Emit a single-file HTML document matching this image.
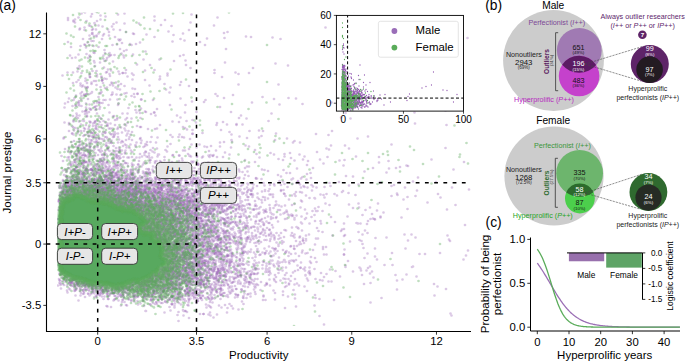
<!DOCTYPE html><html><head><meta charset="utf-8"><style>html,body{margin:0;padding:0;background:#fff;width:685px;height:362px;overflow:hidden}svg{display:block}</style></head><body><svg width="685" height="362" viewBox="0 0 685 362" font-family='"Liberation Sans", sans-serif'><rect width="685" height="362" fill="#fff"/><defs><clipPath id="ca"><rect x="46.5" y="12.5" width="424.5" height="318.7"/></clipPath><clipPath id="ci"><rect x="336.4" y="15.4" width="127.1" height="95.7"/></clipPath><filter id="bl" x="-10%" y="-10%" width="120%" height="120%"><feGaussianBlur stdDeviation="1.0"/></filter><filter id="sb" x="0" y="0" width="100%" height="100%"><feGaussianBlur stdDeviation="0.6"/></filter></defs><g clip-path="url(#ca)"><g filter="url(#sb)"><g transform="scale(0.5)" fill="none" stroke-linecap="round" stroke="#965fb4" stroke-opacity="0.34" stroke-width="5.4"><path d="M189 22h0m5-8h0m-37 21h0m152-2h0m-60 14h0m-57 12h0m26 5h0m160-4h0m77 4h0m-268 18h0m50-3h0m265-5h0m43 1h0m390 1h0m-793 18h0m27-5h0m10 1h0m8 2h0m47-3h0m46-4h0m-61 21h0m34-6h0m66 19h0m-106 1h0m-54 17h0m0-5h0m31 0h0m18 3h0m82 6h0m19-1h0m550-6h0m-713 11h0m48 8h0m9 2h0m132-8h0m-131 14h0m86-1h0m-117 17h0m20-7h0m8 4h0m64 3h0m95-7h0m117-1h0m-236 21h0m34-2h0m678-6h0m-756 12h0m23 5h0m15 0h0m48 0h0m294-3h0m-448 19h0m43 0h0m17-1h0m4-2h0m5-6h0m38 4h0m135 0h0m-190 9h0m64 8h0m298 0h0m193-8h0m-580 17h0m18-4h0m107 4h0m21-8h0m180 3h0m11 6h0m189-2h0m19 2h0m-563 9h0m9-3h0m15 6h0m68 1h0m0-10h0m115 3h0m28-1h0m61 4h0m-289 7h0m23 9h0m20 0h0m5-9h0m32 4h0m57-3h0m88 2h0m148 5h0m-390 14h0m39-3h0m8-8h0m3 9h0m6 0h0m4 1h0m35-5h0m3-1h0m3-4h0m2 3h0m5 7h0m109 0h0m-202 10h0m22 3h0m14-2h0m14-4h0m7-4h0m13 9h0m10-1h0m50 0h0m167 0h0m275-8h0m-585 21h0m22-5h0m3 3h0m2-4h0m10 4h0m13-2h0m32-5h0m47 7h0m76-3h0m127 2h0m-309 13h0m6-2h0m3 0h0m9 5h0m6-2h0m1-4h0m21-4h0m6 9h0m3-1h0m11-7h0m2 8h0m17-5h0m12 2h0m1-6h0m47 6h0m18 2h0m2 0h0m99 2h0m152-3h0m11-2h0m54-2h0m-496 10h0m9-1h0m6 6h0m5 0h0m5-7h0m1 4h0m1 5h0m3-5h0m10 7h0m20 0h0m7-7h0m36 0h0m37 6h0m15-9h0m20 9h0m16-8h0m53-1h0m24 0h0m20-1h0m20 2h0m160 5h0m106-6h0m-572 16h0m10-5h0m9 10h0m12-10h0m5 3h0m19 1h0m4 3h0m6-2h0m2-4h0m2 6h0m0 0h0m4 3h0m1-10h0m5 10h0m10-1h0m8-9h0m18 3h0m22 2h0m1 5h0m28-1h0m4-7h0m12 9h0m0-11h0m4 11h0m43-9h0m27 4h0m8-3h0m11-1h0m22 6h0m1 1h0m176-3h0m144-5h0m58 7h0m-667 8h0m3-3h0m5 3h0m2 3h0m0-1h0m13-1h0m1-3h0m12 2h0m9 6h0m1 1h0m2-1h0m5-5h0m15-2h0m1 6h0m1-2h0m1-3h0m1 7h0m2-3h0m11 0h0m2-1h0m10-2h0m4 4h0m11-5h0m2 6h0m3-4h0m20 4h0m0-3h0m19-4h0m30 2h0m25 0h0m3 1h0m6 2h0m1-2h0m10-1h0m10 2h0m35 2h0m2 1h0m38 1h0m1-4h0m13 0h0m16 0h0m41-1h0m193 1h0m44 2h0m-641 8h0m12 3h0m2-3h0m4-3h0m4 8h0m9-4h0m5-5h0m3 0h0m2 9h0m5-6h0m1 3h0m0-3h0m8-3h0m1 1h0m1 9h0m5-11h0m5 8h0m2-2h0m9 0h0m5 4h0m5-7h0m1 3h0m2 2h0m1-1h0m1-5h0m10 5h0m0-6h0m2-1h0m2 11h0m15-1h0m2-9h0m2 8h0m3 2h0m6-5h0m2 3h0m0 0h0m7-1h0m9-2h0m4-2h0m0-4h0m7 11h0m16 0h0m8-3h0m3-2h0m6-3h0m3 8h0m12-5h0m1 2h0m2-6h0m3 6h0m4 0h0m3-4h0m5 7h0m14-10h0m3 9h0m2-9h0m36 10h0m19-2h0m147 2h0m3-2h0m106-5h0m14 1h0m-580 7h0m0 9h0m3 2h0m1-4h0m2-3h0m7 1h0m1 2h0m9-5h0m1 3h0m0-1h0m0-2h0m2 9h0m0 0h0m0-3h0m2-6h0m2 7h0m2-8h0m1 0h0m0-1h0m3 8h0m0-1h0m1-7h0m4 8h0m3 3h0m5-4h0m9-7h0m2 1h0m4 9h0m1-5h0m0 3h0m1-6h0m4 9h0m1-5h0m1 2h0m1-4h0m1 3h0m2-7h0m1 4h0m0-2h0m6 3h0m2 0h0m1 4h0m1-1h0m1-2h0m2 1h0m0-5h0m10 4h0m3-1h0m0 2h0m1-6h0m0 4h0m5 2h0m0 2h0m0 0h0m6 2h0m4 0h0m1-4h0m0 4h0m2 0h0m5-6h0m0 6h0m1-5h0m8 1h0m1-4h0m3 6h0m3-4h0m1 2h0m1-6h0m1 8h0m1-2h0m1 0h0m1-3h0m2 5h0m11 2h0m3 0h0m1-10h0m8 2h0m3 2h0m6 2h0m9 3h0m7 1h0m0-5h0m1-6h0m3 11h0m4-8h0m3-3h0m2 9h0m5 0h0m4-2h0m1-7h0m2 5h0m1 1h0m6 4h0m1-8h0m13 3h0m10 3h0m2 2h0m2-7h0m10 4h0m2 4h0m1-5h0m3-6h0m1 4h0m3 4h0m2 3h0m3-9h0m2 8h0m8-8h0m1 8h0m5-3h0m1-5h0m15 7h0m2-3h0m8 4h0m17-7h0m7 4h0m51-1h0m13 4h0m8-2h0m14 2h0m33-6h0m103 7h0m-577 5h0m6-4h0m0 8h0m4-1h0m3 2h0m1-9h0m1 0h0m2 9h0m1-2h0m2 4h0m0-7h0m2 5h0m1-1h0m1 3h0m0-6h0m1 1h0m1 5h0m1-6h0m0 0h0m7 6h0m1-7h0m0 0h0m1 2h0m2-4h0m5 1h0m1 0h0m2 1h0m1 2h0m0-2h0m1 7h0m2-3h0m1 0h0m1-7h0m1 6h0m1-7h0m1 9h0m0 0h0m1 0h0m1-9h0m1 5h0m1 5h0m1-7h0m2 0h0m3 8h0m1-11h0m0 9h0m1-1h0m4 0h0m0 3h0m1-8h0m1 0h0m0 0h0m1-1h0m0 9h0m0-3h0m1-3h0m0 0h0m1 4h0m0-2h0m1-6h0m0 3h0m4 7h0m1-7h0m1 6h0m1-9h0m1 9h0m1-7h0m0 8h0m2-10h0m2 4h0m1 2h0m0 2h0m5-9h0m0 6h0m0 1h0m1-1h0m1 1h0m2-6h0m0 10h0m0-7h0m5 4h0m2-8h0m1 5h0m5-4h0m1 7h0m1-5h0m1 8h0m1-5h0m4-2h0m2 4h0m0 3h0m5-10h0m4 1h0m0 2h0m0 4h0m1-4h0m1-2h0m1 7h0m2 2h0m0-11h0m2 3h0m2-1h0m0 4h0m3-1h0m0 6h0m4-5h0m2 4h0m0-7h0m1 3h0m1 2h0m1 2h0m1 1h0m1-7h0m2 6h0m3-2h0m1 3h0m1 0h0m0-1h0m1-2h0m5-2h0m2 0h0m2 2h0m1-2h0m4 4h0m1 1h0m4-11h0m5 4h0m2 6h0m7-6h0m1 7h0m1-6h0m3-1h0m7 6h0m0-9h0m3-1h0m1 8h0m4-2h0m1-2h0m1 2h0m2-6h0m0 0h0m3 1h0m1 4h0m1-4h0m4 10h0m13-3h0m4-8h0m1 9h0m4-2h0m4 3h0m16-2h0m4-8h0m3 9h0m5-1h0m4 1h0m5-4h0m5-4h0m5 5h0m6 1h0m18 2h0m13-9h0m2 2h0m15 4h0m5-6h0m14 8h0m9-2h0m9-6h0m10 11h0m38-1h0m47-8h0m6 1h0m-495 15h0m1 2h0m6-6h0m1 7h0m0-6h0m1 4h0m0 1h0m0 1h0m2-4h0m5-1h0m1-4h0m6 1h0m1 6h0m1-1h0m4 0h0m3 0h0m1-3h0m0 3h0m1-2h0m2-3h0m1 3h0m1-3h0m0 5h0m1 0h0m1-2h0m2-1h0m3 5h0m1 2h0m0-2h0m3 0h0m1-2h0m2 3h0m1-2h0m0 2h0m0-7h0m2 6h0m2-7h0m2 5h0m1 3h0m1 2h0m0 0h0m3-1h0m1-2h0m0 1h0m1-6h0m4 6h0m2 1h0m1-6h0m0 4h0m1-4h0m2 3h0m1-2h0m2 3h0m0-3h0m1 6h0m0-1h0m1-5h0m1-3h0m2 3h0m3 1h0m0-3h0m3-3h0m1 7h0m2-4h0m4 6h0m0 0h0m1 2h0m1-9h0m0-1h0m2 7h0m1-1h0m0-1h0m1 3h0m1 0h0m3 1h0m1-8h0m2-1h0m0 9h0m0-3h0m3-3h0m1 2h0m0 0h0m1 5h0m1-2h0m1-1h0m0-5h0m0 4h0m0-4h0m4 6h0m2-6h0m2 4h0m0-5h0m0 3h0m1 6h0m4-2h0m0 1h0m5-9h0m2 10h0m1-4h0m2-2h0m2-2h0m2 6h0m0-5h0m4 5h0m1-7h0m1-2h0m1 5h0m2 1h0m2-1h0m4 4h0m0 1h0m3-6h0m0 1h0m1-2h0m2-1h0m1 0h0m0 3h0m1 4h0m1 1h0m0 1h0m1-1h0m4-9h0m4 3h0m5-3h0m3 4h0m1 2h0m1 4h0m1-4h0m1-7h0m2 11h0m2-8h0m3-1h0m7 3h0m1 6h0m4-1h0m1-3h0m1-3h0m3 7h0m2-6h0m0-5h0m2 6h0m1 5h0m7-3h0m2-5h0m2 7h0m1-1h0m0-3h0m9-5h0m0 5h0m3-4h0m1 7h0m1-1h0m6-6h0m0 9h0m2-7h0m2-1h0m0 4h0m1-4h0m1 1h0m3 7h0m7-3h0m2-6h0m2 6h0m16-1h0m0 1h0m2-7h0m3 0h0m2-1h0m4 2h0m1 3h0m8 1h0m2 0h0m15 2h0m1 0h0m0-7h0m18 3h0m2-3h0m11 6h0m20 3h0m7-5h0m13 6h0m31-6h0m25 3h0m18-4h0m23 3h0m35-1h0m2 5h0m25-4h0m37-1h0m83-3h0m-675 16h0m1 4h0m3-6h0m5-5h0m0 2h0m2-1h0m0 3h0m1 0h0m1-3h0m7-1h0m1 2h0m34-1h0m4-1h0m3 2h0m1 1h0m0 0h0m1-1h0m4 0h0m1-2h0m1 4h0m2-1h0m2 3h0m9 2h0m0-1h0m1-3h0m4-1h0m2 3h0m0 1h0m0-7h0m5 1h0m0 5h0m0-6h0m2 4h0m1 2h0m0 2h0m2 0h0m0-4h0m1 3h0m0-4h0m1 2h0m0 1h0m4-1h0m1 3h0m2-8h0m3 2h0m1 5h0m0-3h0m0-2h0m0 0h0m6 6h0m1-5h0m0-2h0m1 5h0m2 5h0m1-8h0m1 7h0m0-3h0m1 1h0m0-2h0m1 4h0m1-4h0m2 3h0m3-2h0m0 1h0m2-3h0m2-4h0m2 7h0m1 0h0m2-4h0m0 3h0m1 0h0m1-5h0m0-1h0m0 10h0m1-8h0m5-1h0m1 7h0m1-3h0m0-1h0m1 3h0m1 3h0m1-3h0m2 3h0m1-2h0m1-1h0m2 1h0m1-5h0m3 6h0m0 1h0m2-4h0m1 4h0m3-1h0m2-9h0m1-1h0m2 0h0m0 2h0m2 3h0m2 4h0m1-1h0m1-1h0m9-4h0m0 0h0m1 2h0m1-1h0m3-4h0m0 0h0m1 2h0m1 3h0m1-1h0m0 0h0m1 1h0m0-5h0m1 1h0m0 2h0m3 4h0m2-5h0m3 5h0m1-3h0m3 5h0m1-8h0m3 2h0m3 0h0m2 4h0m0-7h0m1 5h0m1 6h0m0-10h0m1 2h0m2 0h0m1-3h0m1 5h0m3 6h0m1-5h0m2-2h0m5 4h0m2 2h0m2-8h0m0 4h0m10-4h0m1 5h0m2 4h0m0-11h0m1 11h0m0-11h0m3 7h0m2-4h0m3 6h0m4-2h0m0-2h0m1-2h0m1 8h0m5-2h0m4-3h0m5 5h0m3-8h0m0 0h0m2-2h0m4 6h0m1 4h0m0-8h0m7 1h0m0-2h0m5 9h0m4-9h0m4 8h0m7 0h0m22-5h0m3-4h0m1 5h0m1-2h0m12 6h0m0-4h0m3 1h0m12-3h0m28 5h0m28-2h0m52 0h0m152 4h0m-528 3h0m6-1h0m1 5h0m2-2h0m0-1h0m1 3h0m1-1h0m3-4h0m1 4h0m1 4h0m5 0h0m1-7h0m1 0h0m1 7h0m2-5h0m0 7h0m0-6h0m0-1h0m0-3h0m2 3h0m0-2h0m1 8h0m0-10h0m3 9h0m0-1h0m0-7h0m2 6h0m1-2h0m3-5h0m2 6h0m0 5h0m1-5h0m3-3h0m2 3h0m1 4h0m1-5h0m1 1h0m1 3h0m0-4h0m2 2h0m3 3h0m2-8h0m0 9h0m3-5h0m1-3h0m3-1h0m3-2h0m1 7h0m1 3h0m0 0h0m0-2h0m2-3h0m1 2h0m2-5h0m1 0h0m0 4h0m2-1h0m2 6h0m1-1h0m1 1h0m0-10h0m4 2h0m2 3h0m2-1h0m1-2h0m1-2h0m1 6h0m2 0h0m1-5h0m0 2h0m2 6h0m3-7h0m1-1h0m0 7h0m0-2h0m4 3h0m1-2h0m1 2h0m1-9h0m8 6h0m8 1h0m0-2h0m2 0h0m1 2h0m2-6h0m2 6h0m1 2h0m1-10h0m2 1h0m1 1h0m2 5h0m0-5h0m1 0h0m1-2h0m2 7h0m3-5h0m2 8h0m1-4h0m3 5h0m1-7h0m5 0h0m5-1h0m0 6h0m1-2h0m0 2h0m2 1h0m0-6h0m1-1h0m2 2h0m0 2h0m3-3h0m4-3h0m2 0h0m9 1h0m6 9h0m2-1h0m5 0h0m10-5h0m1 1h0m6 4h0m0-8h0m10-1h0m0 9h0m5-4h0m5 2h0m4-6h0m5 1h0m6 8h0m32-10h0m10 5h0m29-3h0m148-2h0m-433 11h0m7 1h0m3-1h0m1 7h0m3-7h0m1 7h0m1 4h0m2-11h0m0 2h0m3 3h0m0-2h0m7 3h0m1 0h0m1 1h0m0-5h0m3 5h0m5 1h0m0-4h0m1 0h0m2 0h0m2 0h0m0 0h0m2-4h0m0 5h0m1-1h0m1-3h0m1 1h0m1 0h0m3-1h0m2 2h0m2 6h0m1-3h0m3-4h0m1-2h0m0 9h0m2-4h0m2 3h0m4-1h0m1 4h0m2-4h0m5-5h0m1 3h0m1 4h0m2-1h0m2 3h0m3-3h0m1-5h0m1 2h0m1 0h0m1 0h0m5 1h0m3-4h0m1 9h0m3-5h0m0-4h0m5 0h0m0-2h0m1 4h0m1 6h0m0 1h0m1-2h0m1 2h0m4-2h0m1 2h0m8-4h0m0 1h0m1-8h0m0 10h0m2-1h0m0-6h0m1-1h0m3 4h0m4 5h0m2-3h0m3-3h0m1-3h0m3-2h0m3 9h0m0 2h0m0-3h0m4-7h0m3 4h0m2 0h0m1 3h0m4-6h0m8 3h0m11-2h0m3-1h0m5 0h0m9 4h0m5-3h0m5-2h0m16 10h0m13-6h0m32-1h0m34 3h0m16 2h0m148-9h0m13 8h0m-628 10h0m166-5h0m0-1h0m6 4h0m6 6h0m0-4h0m3 2h0m2-8h0m1 1h0m1 3h0m4 2h0m5 1h0m11 4h0m0-2h0m1-7h0m0-2h0m2 8h0m5-6h0m1 3h0m0 1h0m1-6h0m1 7h0m0-1h0m1-5h0m1 2h0m0 6h0m3-7h0m5 7h0m0-5h0m2 4h0m0-7h0m3 8h0m2 0h0m0-6h0m6 8h0m0 0h0m1-6h0m1 1h0m5-5h0m6 9h0m3-4h0m3-5h0m0 8h0m2-5h0m1 6h0m2 0h0m1-8h0m2 0h0m1 1h0m4 3h0m1 4h0m1-10h0m3 0h0m3 4h0m1-3h0m6 2h0m1-3h0m3 0h0m1 7h0m11 0h0m23-4h0m5 2h0m3 2h0m4-3h0m18-3h0m11 1h0m9-2h0m29 10h0m2-2h0m11 3h0m9-9h0m4 2h0m24 2h0m40 0h0m2-2h0m11-2h0m118 4h0m20-5h0m-477 19h0m1 3h0m0 0h0m4-3h0m4 0h0m2 1h0m1-9h0m1 9h0m2-4h0m0 6h0m1-7h0m1 2h0m4 0h0m3-3h0m1-1h0m1 4h0m3 0h0m2 1h0m1-4h0m2 0h0m6 0h0m0 5h0m0 0h0m5-1h0m1 1h0m2-5h0m3 5h0m0-5h0m1 3h0m5 3h0m1-8h0m0 8h0m1 0h0m1-5h0m10 6h0m1-1h0m2-6h0m2 5h0m0-5h0m4 3h0m0-6h0m8 9h0m5 1h0m1-8h0m1 1h0m6 6h0m2-4h0m2-2h0m7 3h0m1 5h0m3-4h0m1 2h0m1-1h0m6-3h0m0 5h0m1 1h0m2-4h0m2 1h0m9-1h0m0 4h0m2-11h0m26 3h0m5 6h0m1-8h0m16 2h0m19 6h0m0-6h0m3 6h0m24-5h0m10 1h0m10-3h0m56 8h0m2 1h0m7-10h0m2 2h0m109-1h0m3 1h0m214 3h0m-650 7h0m1 1h0m0 0h0m5 7h0m1 0h0m2-7h0m2 4h0m4 4h0m2-9h0m0-1h0m3 9h0m1-2h0m2 1h0m0-1h0m3-2h0m4 3h0m2 3h0m1 0h0m1-10h0m2-1h0m0 4h0m2 5h0m3 2h0m1-4h0m2-4h0m1 0h0m4 8h0m1-4h0m4-2h0m4 3h0m0-5h0m1-1h0m0 9h0m1 0h0m1 0h0m0-1h0m0-8h0m3 0h0m1 3h0m1 2h0m1-6h0m1 5h0m0-3h0m4 7h0m1 0h0m4 1h0m1-1h0m1-5h0m3 2h0m3 1h0m3-5h0m1 1h0m0 5h0m3 0h0m4-4h0m4 4h0m6-7h0m0 5h0m4-4h0m0 7h0m0-7h0m0 2h0m2 4h0m1 2h0m3-11h0m7 6h0m8-2h0m4 0h0m1 2h0m2 4h0m9-3h0m1-7h0m9 4h0m10 7h0m1-4h0m1 1h0m3 1h0m31-3h0m14 2h0m29-6h0m16 7h0m30-4h0m116-3h0m29 6h0m13-3h0m-418 7h0m0 1h0m0 3h0m3 4h0m2 3h0m1-9h0m1 0h0m1-1h0m0 7h0m2 3h0m1-4h0m2 4h0m0-11h0m0 9h0m1 1h0m1-9h0m1 3h0m0-1h0m2 5h0m0 1h0m1-5h0m1 3h0m7-7h0m3 3h0m0-3h0m1 1h0m2 4h0m0 5h0m4-6h0m1 2h0m0-3h0m5 5h0m5-6h0m1 5h0m2-5h0m0 9h0m2-11h0m3 5h0m6-5h0m4 8h0m0 1h0m2-4h0m0 6h0m1 0h0m4-10h0m1 2h0m0 8h0m0-9h0m6 3h0m4 5h0m1-10h0m0 1h0m6 8h0m0-5h0m4 4h0m1 2h0m2-6h0m5 3h0m1-1h0m8 4h0m10-6h0m3 3h0m1-4h0m10 1h0m6 0h0m6 6h0m7-6h0m2 4h0m1-6h0m1-2h0m11 9h0m0-8h0m2 8h0m10 1h0m1-2h0m9-5h0m8 2h0m1 3h0m99 2h0m20-1h0m4 0h0m89-8h0m48 6h0m50-6h0m-505 13h0m0 0h0m4 1h0m1 2h0m4 4h0m5-4h0m0-2h0m1-2h0m1 2h0m4 7h0m2 0h0m1-2h0m6 3h0m2-8h0m3 3h0m1 5h0m0-6h0m3 2h0m3 2h0m0-1h0m5-6h0m1 2h0m0 4h0m0 2h0m7-9h0m0 7h0m0-3h0m0-4h0m1-1h0m1 0h0m2 10h0m5 0h0m4-10h0m2 0h0m3 4h0m0 1h0m1 2h0m5-3h0m3-4h0m5 1h0m2 6h0m12 3h0m1-2h0m0-7h0m9 1h0m12 3h0m11 5h0m2-10h0m3 5h0m11 0h0m3 2h0m5-2h0m2 4h0m0-5h0m5 4h0m20-8h0m11 5h0m51 2h0m44-1h0m4-5h0m18 8h0m270-7h0m-572 12h0m0 8h0m3-4h0m0 2h0m0-8h0m0 0h0m3 7h0m0-7h0m2 4h0m0 4h0m2-6h0m6 7h0m1-1h0m1-7h0m0 3h0m1-4h0m2 7h0m2 1h0m1-4h0m1 3h0m2-3h0m1 3h0m0-1h0m3 2h0m0-1h0m3-5h0m2 3h0m1-3h0m3-2h0m1 1h0m5 6h0m2 1h0m4 2h0m2 1h0m2-3h0m1-5h0m3 5h0m2-4h0m5-4h0m1 11h0m2-4h0m1-7h0m1 6h0m0 5h0m2-6h0m3 4h0m2-8h0m0-1h0m4 7h0m1 3h0m4 1h0m0-3h0m0-5h0m0 1h0m1 6h0m6-9h0m2 6h0m1 3h0m3 0h0m2-8h0m5 6h0m6-2h0m11-2h0m7 5h0m14-1h0m15 3h0m8 0h0m5-4h0m49-1h0m22 4h0m9-10h0m12 0h0m52 6h0m6-4h0m284 7h0m-606 6h0m3 1h0m2-2h0m0 4h0m1 4h0m1-9h0m0 2h0m1-2h0m0 0h0m6-1h0m0 3h0m7 3h0m1 0h0m1-3h0m0-3h0m1 9h0m0 0h0m13-2h0m0 0h0m2 4h0m2-11h0m5 0h0m4 0h0m1 5h0m1-2h0m3 2h0m1 4h0m2 2h0m4-6h0m5-1h0m3 0h0m0 6h0m4-6h0m5-2h0m1 1h0m3 0h0m1 7h0m1-9h0m8 5h0m1-3h0m3-1h0m5-2h0m0 10h0m11-7h0m6 7h0m5-1h0m7-6h0m2 5h0m0-7h0m3 6h0m8 4h0m13-9h0m0-1h0m24 4h0m0 5h0m8-4h0m79 2h0m17-6h0m33 3h0m102 4h0m-413 10h0m4 1h0m3 0h0m1 1h0m1 1h0m0-2h0m2-5h0m2-1h0m1 3h0m4 2h0m11-3h0m1-4h0m1 7h0m3-5h0m5 9h0m6-10h0m2 9h0m16-2h0m3-8h0m1 0h0m0 7h0m1 3h0m4 0h0m2-6h0m2 1h0m3 2h0m5 2h0m6 1h0m4-1h0m8-8h0m5 2h0m9 5h0m8 1h0m3-4h0m8 3h0m5 3h0m3-6h0m32 5h0m1 0h0m41 1h0m2-4h0m2 3h0m2-1h0m5-1h0m14 3h0m117-5h0m-374 14h0m1 2h0m5 1h0m1-3h0m5-8h0m2 7h0m0-6h0m1 0h0m1 10h0m2-7h0m0 2h0m4-4h0m1 8h0m1-1h0m0-2h0m1-3h0m2-4h0m2 3h0m1 3h0m3 0h0m1 2h0m1-2h0m0 4h0m2-4h0m8 4h0m4-2h0m2 0h0m0-8h0m0 11h0m3-11h0m3 10h0m0-1h0m7-4h0m2-1h0m7-4h0m1 6h0m1-4h0m2 4h0m3 3h0m4-8h0m4-1h0m2 4h0m9 7h0m7-9h0m3-2h0m5 9h0m1 2h0m4 0h0m3-7h0m1 4h0m6-7h0m1 3h0m7 0h0m10 5h0m1-6h0m3 7h0m2-10h0m1 4h0m9-3h0m2 0h0m52 7h0m8-7h0m11 4h0m7 2h0m7 0h0m35 3h0m178-8h0m39 4h0m2-1h0m-703 15h0m180 3h0m2-3h0m10-1h0m1 2h0m0-3h0m2 3h0m0-3h0m4 5h0m3 0h0m1-1h0m0-7h0m2 2h0m0-2h0m1 3h0m1 2h0m2 3h0m1-5h0m1 4h0m0-8h0m4 6h0m1-8h0m2 1h0m1 2h0m4 6h0m10-5h0m0 2h0m1-4h0m1 4h0m2 2h0m1-2h0m5-4h0m1 6h0m0 1h0m2-4h0m1-1h0m6 3h0m1 4h0m4-1h0m3-8h0m3 5h0m1-4h0m0 7h0m10-3h0m3-1h0m3 4h0m0 1h0m9-8h0m4-1h0m1-1h0m3 9h0m1-10h0m11 8h0m1-4h0m0 0h0m1 1h0m5 5h0m1-6h0m1 4h0m5 3h0m3 0h0m23-10h0m0 8h0m7 1h0m8-7h0m6 5h0m2-3h0m1-2h0m5 5h0m37-4h0m34 2h0m23-6h0m21 5h0m2 2h0m1 2h0m113-8h0m-602 11h0m1 9h0m0 1h0m1-9h0m7 2h0m3 8h0m3-4h0m4 1h0m1-1h0m1 1h0m1 1h0m1-2h0m1 2h0m15 2h0m115 0h0m4-3h0m5 3h0m3 0h0m1-1h0m2-6h0m3-2h0m3 7h0m2-2h0m1 0h0m3-7h0m2 0h0m3 7h0m3-1h0m2-6h0m0 7h0m9-4h0m3 5h0m0-1h0m1-5h0m1 2h0m2 5h0m0-5h0m2 6h0m1-6h0m4 6h0m1-5h0m2-2h0m2 1h0m5-3h0m1 0h0m2-1h0m3 6h0m3-5h0m0 0h0m3 9h0m0-9h0m3-1h0m3 9h0m6-4h0m1-2h0m0 8h0m4-11h0m5 5h0m0-4h0m3 2h0m3 8h0m6-10h0m1 4h0m1 3h0m2 3h0m10-1h0m4 0h0m10-4h0m4-6h0m9 3h0m10-3h0m3 9h0m13-4h0m20 1h0m1 2h0m3-6h0m9 0h0m1 4h0m46 0h0m100-4h0m146 7h0m-678 10h0m39-6h0m0 2h0m1 4h0m1-6h0m0 7h0m8-5h0m0 1h0m1 1h0m2 2h0m3 3h0m2-7h0m2 1h0m1 1h0m2 2h0m3-3h0m3 0h0m1 2h0m1-1h0m7 5h0m12-1h0m4 1h0m1 0h0m1 0h0m19 0h0m6 1h0m7-1h0m1-2h0m5 1h0m14-8h0m3 5h0m6 0h0m2-5h0m4 8h0m1-3h0m0-5h0m0 0h0m5 6h0m6-6h0m1 1h0m2 0h0m5 5h0m1 2h0m3-8h0m5-1h0m3 0h0m5 9h0m4-2h0m0-6h0m3 10h0m1 0h0m1 0h0m2-3h0m1-7h0m1 3h0m3 2h0m6 2h0m0 3h0m2-2h0m3-3h0m0-2h0m2 7h0m0-5h0m0-6h0m3 11h0m0-1h0m2-8h0m10 0h0m11-1h0m1 0h0m2-1h0m7 1h0m15 0h0m3 0h0m0 5h0m2 0h0m1-3h0m1 7h0m1-4h0m3-1h0m9-5h0m13 0h0m17 7h0m1-7h0m10 5h0m5 4h0m0 2h0m3-2h0m17-8h0m9 8h0m6 1h0m2-7h0m5-1h0m19-2h0m30 0h0m26 3h0m11 2h0m139-1h0m140 0h0m-734 13h0m18-1h0m16 4h0m11-2h0m5-4h0m7 3h0m3-5h0m2 2h0m3 2h0m3-3h0m2 2h0m1 8h0m0-5h0m8-3h0m2 8h0m3-11h0m5 3h0m7 3h0m8-4h0m8 6h0m2-4h0m1 4h0m0-8h0m1 9h0m6-6h0m9-1h0m7 2h0m1 1h0m12 3h0m8-3h0m2-2h0m2 1h0m2 3h0m5-4h0m0-2h0m3 2h0m1 7h0m1-2h0m9-4h0m3 3h0m1-3h0m4 3h0m3-5h0m3-2h0m18 6h0m1-2h0m2-1h0m0 2h0m2 1h0m1 3h0m4 1h0m0-9h0m1 7h0m3-8h0m6 6h0m1 5h0m4-10h0m2 9h0m2-3h0m8-2h0m4 3h0m2-3h0m36-4h0m3 5h0m10 0h0m30-4h0m78 8h0m342-8h0m-731 13h0m33-1h0m1-2h0m36 4h0m12-2h0m3 9h0m0-8h0m10-1h0m11 1h0m4 2h0m24-2h0m7 8h0m3 0h0m14-6h0m8 0h0m16 0h0m3 0h0m2 3h0m15-2h0m1-3h0m13 6h0m11-3h0m1 0h0m4-4h0m5 0h0m3 6h0m39-7h0m1 9h0m3-10h0m26 7h0m1-7h0m5 2h0m11 2h0m0 4h0m8-7h0m95 0h0m41 7h0m-382 8h0m14-2h0m51 6h0m8-2h0m22 3h0m11-6h0m15-1h0m2 0h0m3 8h0m20-8h0m55 8h0m37-2h0m39-8h0m5 0h0m-309 14h0m66-2h0m53 9h0m50 1h0m52-7h0m-86 9h0m70 11h0m212-3h0m262-5h0m2 4h0m-546 11h0"/><path d="M282 17h0m437 2h0m-535 9h0m9-4h0m43 5h0m13-2h0m-99 18h0m47 6h0m8 2h0m22 6h0m116-7h0m308 3h0m-482 5h0m10 11h0m5-4h0m109 2h0m44-6h0m-171 15h0m13 0h0m166 5h0m147-10h0m69 5h0m-391 12h0m55 0h0m35-2h0m-71 18h0m263-8h0m-312 13h0m4 5h0m13-7h0m22 2h0m35 5h0m6-5h0m493-1h0m-487 13h0m122-1h0m23-1h0m1 9h0m204 1h0m-421 5h0m30 6h0m67-2h0m-72 14h0m14-5h0m18-4h0m8 7h0m25-6h0m6 0h0m69 7h0m124 1h0m33-6h0m260 1h0m-576 18h0m27-5h0m-22 9h0m9 4h0m8-7h0m48 7h0m39 3h0m71-3h0m216-6h0m223 7h0m-612 13h0m5-1h0m10-2h0m1-2h0m17 3h0m67 1h0m601-4h0m-731 13h0m9 3h0m159 0h0m55-3h0m87-1h0m-312 8h0m9 8h0m12-3h0m1-3h0m21 3h0m11 5h0m8-10h0m242 10h0m119-5h0m104-4h0m-493 18h0m3 0h0m5 1h0m13-4h0m8-2h0m20 7h0m151 0h0m23-1h0m69 0h0m229 2h0m-545 6h0m6 3h0m18-7h0m4 5h0m25 2h0m18 4h0m11-7h0m23 7h0m103-8h0m-216 18h0m20-6h0m14 7h0m9-6h0m9-2h0m7 7h0m17 2h0m232-7h0m39 5h0m345-2h0m-692 15h0m9-7h0m1 6h0m22-3h0m8-4h0m43 3h0m15-2h0m6 0h0m7 2h0m2 4h0m6 1h0m17-10h0m6 2h0m30 4h0m56-4h0m8 5h0m152 3h0m138 0h0m-489 6h0m2 3h0m3 0h0m11-1h0m14-2h0m1-3h0m30 2h0m8-2h0m9 6h0m6 3h0m109 1h0m17-7h0m20-2h0m54-2h0m173 4h0m-505 9h0m55 8h0m0-5h0m7 4h0m3-7h0m0-1h0m6 9h0m9-3h0m1-3h0m7-2h0m3 5h0m1-3h0m2 2h0m2 0h0m0 5h0m15-7h0m20-1h0m292 2h0m36 5h0m14 0h0m-437 12h0m1 2h0m2 0h0m0-6h0m11 6h0m18-8h0m7 6h0m15-1h0m89 0h0m72 2h0m15-3h0m21-1h0m26-1h0m51-2h0m162 6h0m9-6h0m28 0h0m-549 13h0m8 3h0m8-5h0m1 2h0m1 4h0m6-8h0m0 10h0m3-4h0m2-5h0m9 4h0m3-4h0m9 5h0m13 3h0m6-6h0m14 3h0m2 2h0m3-3h0m5 6h0m6-11h0m22 1h0m97 10h0m11-10h0m6 7h0m83 1h0m82-3h0m-418 6h0m26 9h0m31-9h0m2 3h0m6 2h0m14 2h0m6-4h0m0 2h0m30 1h0m1-1h0m0-5h0m8 2h0m22 5h0m4-4h0m91 2h0m1 4h0m54-7h0m138 4h0m98-4h0m-512 15h0m3-1h0m1-4h0m5 9h0m1-4h0m11-3h0m3 4h0m0-4h0m6-2h0m15 7h0m17 4h0m14-4h0m45 0h0m9 4h0m57-6h0m5 5h0m3-3h0m1 2h0m23-2h0m23-6h0m32 0h0m32 6h0m49 2h0m12-9h0m290 10h0m128-10h0m18 7h0m-814 12h0m7-6h0m4 3h0m2 0h0m4 1h0m16 6h0m3-11h0m0 9h0m6-7h0m1 6h0m4-4h0m4-2h0m1 8h0m0-6h0m2 6h0m1 0h0m9-7h0m2 8h0m0-3h0m0-1h0m4-5h0m1 2h0m6 2h0m14-4h0m1 9h0m1-2h0m1 0h0m5 1h0m5-5h0m25 4h0m15 1h0m19 1h0m5 0h0m6-5h0m43 0h0m2 1h0m19 3h0m1 0h0m18-10h0m7 7h0m21 4h0m11-6h0m20-2h0m37 5h0m39-5h0m70-2h0m152-1h0m46 0h0m-664 14h0m3 1h0m9 5h0m2 3h0m3 0h0m1-1h0m12 0h0m1-9h0m6 8h0m3-8h0m0 2h0m1-1h0m5 5h0m7 4h0m5-11h0m3 4h0m0 7h0m10 0h0m6-7h0m5-1h0m3 1h0m4-3h0m0 8h0m1 0h0m4-6h0m0 3h0m3 3h0m0 2h0m1-6h0m7-3h0m6 9h0m5-1h0m5 0h0m1 1h0m2-1h0m8-6h0m3-4h0m0 11h0m2-2h0m1-7h0m1 7h0m1 0h0m16 0h0m14 0h0m2-7h0m19 9h0m13-2h0m8-3h0m1-5h0m15 6h0m17 4h0m17-2h0m7-2h0m16 1h0m10 0h0m9 3h0m6-1h0m5-2h0m6-5h0m0 2h0m14-5h0m16 7h0m357 0h0m112 0h0m-819 7h0m10 8h0m3-1h0m2 2h0m2 0h0m1-10h0m1 1h0m1 9h0m1 0h0m5 0h0m1-1h0m3-5h0m3 2h0m2 0h0m3 4h0m0-3h0m0-6h0m2 7h0m1-1h0m4-6h0m0 8h0m1-5h0m1 0h0m4 0h0m2 3h0m1 3h0m2-6h0m1-2h0m0 7h0m2 1h0m8-9h0m0 6h0m5-8h0m1 10h0m1-2h0m2 2h0m2-3h0m5 1h0m1 2h0m2-10h0m1 2h0m1 1h0m1 5h0m4-8h0m2 4h0m3-2h0m1 7h0m1-8h0m2 1h0m5 9h0m0 0h0m5-4h0m1-2h0m0 5h0m1-3h0m3 3h0m1-8h0m5-2h0m10 7h0m8 4h0m2 0h0m0-3h0m4 0h0m1-1h0m0 2h0m1-3h0m2 5h0m2-2h0m1 1h0m0 1h0m1-5h0m1 5h0m4-9h0m6 7h0m2 1h0m8-9h0m1 9h0m4 1h0m3-4h0m2 3h0m3-5h0m2-1h0m5 1h0m5-4h0m6 10h0m1-7h0m3 7h0m6-9h0m13 6h0m16 2h0m1-5h0m2 6h0m4-7h0m4 2h0m1-6h0m2 8h0m3-4h0m1 6h0m0-4h0m4 1h0m10 1h0m7 1h0m9-2h0m4 3h0m3-6h0m1-4h0m76 9h0m42 2h0m17-8h0m3 5h0m24-2h0m167-2h0m112 0h0m-743 16h0m4 0h0m0-6h0m1 6h0m1-1h0m1 4h0m1-2h0m1-9h0m0 7h0m3-3h0m1-2h0m1 3h0m0 2h0m0-2h0m0 4h0m4-1h0m0-2h0m1-2h0m2 2h0m0 4h0m1-4h0m1 2h0m2 1h0m1 0h0m3-9h0m3 0h0m0 3h0m5 1h0m1 6h0m5 0h0m3-4h0m2-2h0m2 1h0m0-5h0m0 0h0m2 1h0m0 1h0m3 1h0m2 3h0m0-2h0m0 5h0m0-7h0m3 2h0m0 4h0m1-5h0m1 3h0m1-6h0m0 5h0m1 3h0m1-4h0m1 2h0m0-3h0m0-2h0m1 8h0m2-5h0m1-3h0m0 9h0m0-2h0m3-1h0m3 1h0m2 3h0m2-5h0m2-1h0m1 0h0m0 3h0m2-3h0m2 5h0m2-9h0m1 3h0m0-3h0m2 1h0m1 8h0m1 1h0m0-2h0m1-9h0m4 8h0m1-6h0m1-2h0m1 4h0m1-1h0m2 6h0m0 0h0m1-9h0m2 1h0m2 9h0m3 0h0m2-2h0m2 2h0m0-8h0m1 0h0m0 4h0m1-4h0m2 7h0m1-4h0m1-5h0m2 3h0m0 0h0m3 1h0m2 7h0m0-2h0m1-5h0m0-1h0m0 7h0m4-6h0m0 3h0m3-7h0m5 8h0m0-6h0m1 5h0m2-6h0m0 0h0m0 3h0m1 7h0m1-8h0m0-3h0m2 7h0m4 0h0m5 3h0m4-2h0m6-7h0m4 9h0m7 0h0m1-4h0m1 5h0m2-2h0m3-9h0m2 9h0m4-9h0m1 7h0m0-7h0m0 4h0m6-3h0m3 4h0m1 1h0m7-2h0m0 0h0m2 1h0m1 4h0m2 0h0m4-4h0m0 0h0m3 1h0m4 3h0m2-3h0m0-5h0m5 8h0m7-3h0m10 1h0m11 4h0m1-10h0m0 5h0m4 5h0m4-2h0m2-5h0m0 0h0m7 0h0m0 4h0m14 0h0m21 1h0m4 0h0m9-6h0m5 7h0m17 0h0m16 1h0m8-1h0m3-7h0m31 7h0m2-4h0m36-4h0m27 1h0m5-3h0m176 0h0m27 3h0m-690 16h0m3-6h0m1 9h0m1-9h0m7-1h0m1 6h0m2-6h0m3 6h0m1 0h0m1-2h0m0-2h0m1 0h0m1 5h0m3-2h0m2-2h0m1 7h0m4-5h0m5 0h0m5 2h0m0-2h0m1 1h0m0-1h0m0-2h0m1-2h0m1 8h0m1 0h0m0-9h0m1 0h0m2 2h0m2 8h0m0 0h0m2-6h0m2 6h0m1-4h0m0 2h0m0-8h0m0 0h0m1 7h0m1 4h0m0-8h0m1 2h0m0-5h0m1 0h0m1 1h0m3 0h0m1 1h0m2 6h0m0 0h0m0-4h0m1 3h0m1 0h0m2-2h0m2-2h0m2 8h0m1-8h0m0-3h0m3 5h0m2 2h0m1-4h0m2 3h0m1 3h0m1 2h0m1-10h0m0-1h0m1 2h0m0-1h0m1 7h0m5-2h0m2-6h0m1 3h0m1 8h0m1-5h0m4 5h0m2-5h0m3-4h0m5 4h0m0-6h0m4 1h0m0 7h0m0 3h0m2-5h0m1-2h0m5 2h0m1 0h0m4 4h0m1-9h0m4 10h0m0-10h0m1 1h0m2 0h0m1 5h0m0 0h0m1-3h0m1 2h0m3 0h0m2-1h0m2 3h0m0-2h0m2-2h0m3 4h0m0 2h0m1-10h0m1 3h0m7 3h0m0-4h0m10 3h0m2 0h0m1 5h0m7-1h0m4 1h0m2 1h0m0-5h0m8-5h0m4 4h0m0-4h0m11 1h0m2-2h0m1 2h0m1 8h0m1-9h0m4 5h0m1-1h0m4 1h0m3 3h0m3 0h0m2 1h0m3-1h0m1-8h0m4 4h0m4 3h0m0 3h0m11-10h0m1 0h0m0 1h0m3 6h0m2 3h0m2-7h0m25 4h0m1-5h0m1 6h0m2-7h0m3 5h0m1 1h0m5-8h0m8 8h0m2-8h0m0 4h0m2 4h0m10 0h0m2-4h0m1 0h0m2-3h0m16 8h0m15 1h0m25-6h0m1 2h0m24 5h0m9-6h0m29-2h0m73 2h0m240 6h0m-764 8h0m1-4h0m5 5h0m1 1h0m3-9h0m3 0h0m1 0h0m3 3h0m2 0h0m1-1h0m39-1h0m0-1h0m6 3h0m0-1h0m5-1h0m1 0h0m6 1h0m1-1h0m3 3h0m2-3h0m1 0h0m2 4h0m2 0h0m1-3h0m2 1h0m2 1h0m4 1h0m0-1h0m0 0h0m2 4h0m0-5h0m0 4h0m2-1h0m1 0h0m1-1h0m2-5h0m1 9h0m2-1h0m3-1h0m1 0h0m2 1h0m0-7h0m1 5h0m0-6h0m1 2h0m6 5h0m7 3h0m1-8h0m1 6h0m0-8h0m2 0h0m1 8h0m8-4h0m2 6h0m2-8h0m0 5h0m1 4h0m4 0h0m0-4h0m1 3h0m0-3h0m4 0h0m1 2h0m1-3h0m2-5h0m2-1h0m0 7h0m1-4h0m1 7h0m2-4h0m1-4h0m6 4h0m1 2h0m0 3h0m0-5h0m2-3h0m3 2h0m1 5h0m2-4h0m0-6h0m4 2h0m0-2h0m2 1h0m3 4h0m1-1h0m0-4h0m0 2h0m1-1h0m2 5h0m4 4h0m5-8h0m5 3h0m6 0h0m1 4h0m1 2h0m0-2h0m3-3h0m0-3h0m0 7h0m1-6h0m5 4h0m1 2h0m2-2h0m1-2h0m3 3h0m1 1h0m0-4h0m1 2h0m2-5h0m0-2h0m0 2h0m4 8h0m2-9h0m1 0h0m2 6h0m0-1h0m0 3h0m1-5h0m0 2h0m4 1h0m3-2h0m3-2h0m1 4h0m6-2h0m2 0h0m2 1h0m0-2h0m2 2h0m10 4h0m8-2h0m0 2h0m1-1h0m1-6h0m2 7h0m3-8h0m1 1h0m2 3h0m7-3h0m9 2h0m5-5h0m8 5h0m5-2h0m0 5h0m5-6h0m12 4h0m14-6h0m30 5h0m13-2h0m55-1h0m24 2h0m205-2h0m-582 10h0m3-1h0m3 0h0m1 1h0m2 2h0m2-2h0m3 6h0m3-6h0m2-1h0m1 6h0m0 1h0m0-5h0m1 4h0m5 3h0m0 0h0m1-4h0m0-2h0m1 0h0m0 4h0m1-6h0m0 0h0m1 4h0m1-3h0m0 8h0m1-2h0m0-4h0m1-1h0m4-2h0m0 3h0m2 3h0m1 1h0m0-1h0m1 0h0m0-7h0m1 11h0m2-1h0m0-1h0m4-8h0m0 3h0m2-2h0m1 6h0m0-8h0m2 3h0m0 2h0m1-3h0m3 4h0m1 0h0m1-3h0m2 5h0m4-3h0m7-1h0m4-1h0m2 2h0m0 6h0m4 0h0m1 0h0m1 0h0m1-10h0m0 3h0m3-3h0m0 4h0m3 6h0m0-5h0m1-2h0m1-4h0m0 2h0m1 7h0m0-7h0m5 5h0m3-2h0m0-5h0m1 7h0m0 3h0m5-7h0m7 1h0m2 6h0m3-7h0m3 7h0m1-9h0m4 9h0m3-5h0m0-3h0m1 0h0m0 7h0m10-5h0m3 3h0m4 3h0m6-1h0m7-9h0m4 10h0m0-1h0m1-4h0m6 5h0m0-3h0m3-4h0m0-2h0m1 1h0m1-1h0m3 7h0m3-4h0m11 0h0m4-4h0m0 1h0m0 3h0m2 3h0m1-6h0m4-1h0m3 3h0m2-2h0m2 2h0m1 1h0m8-1h0m8 8h0m4-5h0m6 0h0m10-4h0m3 7h0m0-6h0m18 5h0m4-6h0m8 9h0m5-7h0m27 4h0m44-6h0m53 4h0m22-4h0m156 8h0m79 1h0m-630 1h0m5 2h0m0 0h0m5 1h0m3 0h0m1 7h0m2 0h0m0-1h0m0-9h0m3 1h0m1 1h0m1 3h0m1 4h0m0-8h0m2 8h0m1-8h0m1 8h0m1-4h0m0-5h0m0 11h0m4-6h0m0-4h0m1 0h0m2 0h0m0 6h0m0 4h0m1-3h0m0 0h0m4-1h0m4 4h0m2-1h0m1-2h0m1 1h0m0-2h0m1-1h0m0 5h0m3-2h0m0 1h0m1-4h0m1 0h0m1-6h0m1 8h0m1-2h0m3-6h0m1 3h0m2 8h0m2-8h0m4 5h0m5-8h0m5 4h0m4 3h0m1 4h0m0-2h0m10-2h0m3 1h0m0-6h0m1-1h0m7 3h0m4-3h0m7 0h0m4 6h0m2-5h0m2 5h0m2 1h0m0-2h0m2 2h0m3-5h0m10 3h0m1 3h0m1-1h0m1-4h0m4-4h0m9 3h0m1 3h0m5-6h0m1 11h0m3-11h0m3 10h0m8-7h0m2-3h0m3 4h0m7 6h0m38-6h0m36-4h0m1 5h0m3-2h0m10 2h0m3 3h0m3 1h0m13-9h0m26 11h0m43-1h0m3-8h0m3 0h0m-355 11h0m1-1h0m1 1h0m4 0h0m1 0h0m0 3h0m1-1h0m4 2h0m1 3h0m1 3h0m3-6h0m1 5h0m1-8h0m1 0h0m0 5h0m1-4h0m2 2h0m3 2h0m0 0h0m1-7h0m1 3h0m1-3h0m1 4h0m1-3h0m1 8h0m0-3h0m2-6h0m1 8h0m1 0h0m1-4h0m1 7h0m0 0h0m2-10h0m0-1h0m1 2h0m8 4h0m0 2h0m0-4h0m1 4h0m1-4h0m3 5h0m0 0h0m1 0h0m2-9h0m2 11h0m7-1h0m1-6h0m1 4h0m0 2h0m4-5h0m2-3h0m3 3h0m3-1h0m0 4h0m0-3h0m1-2h0m0 8h0m3-1h0m2-9h0m4 6h0m2 0h0m1 4h0m1-3h0m6-8h0m2 9h0m1-8h0m6 4h0m3 4h0m6-5h0m4 2h0m3 4h0m8-1h0m3-9h0m3 11h0m9-1h0m7-10h0m7 8h0m9 1h0m12-7h0m35-1h0m26 5h0m29-4h0m21 3h0m15 2h0m0-3h0m160 2h0m12-3h0m186 3h0m-831 8h0m167 9h0m10-8h0m0 6h0m1-7h0m0 5h0m2 1h0m1-8h0m2 9h0m0 2h0m2-3h0m0 1h0m3-7h0m0 1h0m2-3h0m8 1h0m0 6h0m1-4h0m1 7h0m0-2h0m4-2h0m0 1h0m0-6h0m3 3h0m1 0h0m7 4h0m1 0h0m1-4h0m1-2h0m1 3h0m0-3h0m3 5h0m4-1h0m1 5h0m0-7h0m4 4h0m2 1h0m3-2h0m5-4h0m3 2h0m1-4h0m2 0h0m1 8h0m9-2h0m3-6h0m1-1h0m0 11h0m6-10h0m5-1h0m2 7h0m0 1h0m3-4h0m1-2h0m3-2h0m14 6h0m2-4h0m9 1h0m0 2h0m1 2h0m0 1h0m8-1h0m4-1h0m15-1h0m10-4h0m27 0h0m2 10h0m2-4h0m18 3h0m6 1h0m6-2h0m7-6h0m0 3h0m18 5h0m96-8h0m-360 12h0m1 2h0m0 0h0m3 1h0m0-1h0m1-3h0m0 7h0m0-5h0m1 6h0m2-10h0m1 8h0m1-4h0m3 2h0m0-4h0m2 1h0m2 4h0m2-4h0m1 4h0m0 2h0m3-8h0m2 2h0m0 4h0m3-7h0m0 5h0m1-3h0m1-2h0m0 2h0m0-2h0m1 2h0m0 7h0m1 0h0m1 0h0m0-6h0m1 6h0m2-9h0m1 8h0m0-3h0m1 0h0m1-1h0m1-2h0m0 1h0m0 2h0m3-3h0m1 6h0m1-7h0m2 5h0m2 1h0m2-6h0m2 5h0m2 5h0m3-10h0m1 8h0m1-5h0m0 5h0m1 0h0m3-2h0m0-7h0m1 10h0m0-1h0m0 0h0m5-3h0m2 1h0m0 0h0m1-2h0m0 6h0m2-1h0m1-4h0m1 5h0m0-10h0m1 6h0m1-4h0m0 2h0m1 2h0m1-4h0m0 3h0m1 5h0m1 0h0m3-6h0m1 4h0m0 2h0m5 0h0m1-11h0m1 5h0m1 3h0m0 0h0m3-8h0m1 4h0m2-4h0m3 10h0m7-1h0m2 0h0m11-9h0m0 10h0m10-9h0m0 7h0m0 3h0m2-9h0m1-1h0m1 8h0m12 2h0m12-8h0m1 3h0m14 3h0m4-6h0m3 0h0m25-2h0m24 0h0m1 1h0m14 3h0m9-2h0m30 1h0m28-3h0m37-1h0m3 6h0m8 2h0m39-5h0m-568 15h0m190-2h0m4 1h0m1-2h0m2-2h0m0 5h0m2 1h0m2-6h0m1-1h0m10 11h0m1-8h0m1-2h0m8 8h0m3-7h0m1 7h0m3-4h0m5-2h0m2-2h0m1 3h0m0-3h0m6 6h0m0 4h0m1-3h0m1-8h0m5 1h0m1 5h0m1 0h0m4-6h0m8 8h0m4-4h0m3 6h0m1-4h0m2-1h0m1-2h0m2 2h0m3 2h0m1-2h0m4-4h0m8 5h0m2 1h0m7 2h0m2-8h0m2 4h0m3 0h0m12 0h0m4 6h0m17-4h0m0-3h0m10 2h0m10 0h0m19 4h0m3-1h0m27-7h0m22 6h0m33-5h0m7-2h0m29 0h0m72 1h0m119-1h0m-494 12h0m8 0h0m0 2h0m2-3h0m1 5h0m1 1h0m0-3h0m2 7h0m1-10h0m2 3h0m1-3h0m4 7h0m5 0h0m1 4h0m3-2h0m3-3h0m0 0h0m1-3h0m0 2h0m0 5h0m4-5h0m0 6h0m2-4h0m0-7h0m1 3h0m2 7h0m0-3h0m2 3h0m1-1h0m2-9h0m2 0h0m6 2h0m0 6h0m10-3h0m5 6h0m1-6h0m6-4h0m17 5h0m19 5h0m0-2h0m6-9h0m0 10h0m6-5h0m3-5h0m3 5h0m9 1h0m4 0h0m55-3h0m2 4h0m4-3h0m7-4h0m11 2h0m58 7h0m125-7h0m-605 17h0m208-7h0m0 3h0m9 3h0m3-4h0m1 3h0m1 6h0m5-2h0m0-6h0m6 6h0m1-8h0m2 5h0m1-6h0m4 4h0m3 6h0m1-1h0m5-6h0m4 2h0m1-4h0m4 8h0m8-2h0m8-6h0m5 7h0m0 3h0m10-11h0m2 0h0m2 4h0m2 2h0m7 0h0m10-2h0m2-2h0m17-1h0m1 1h0m3 1h0m4 6h0m0 1h0m0-8h0m2 5h0m2 0h0m11-2h0m11 4h0m64-3h0m1 3h0m77-1h0m124-3h0m-422 15h0m2 0h0m2-8h0m0 10h0m0-9h0m2 2h0m2 6h0m2 2h0m1-3h0m4-7h0m1 2h0m3 4h0m1-2h0m0 3h0m4 2h0m3-10h0m2 0h0m2 11h0m3-1h0m1-10h0m1 6h0m1-5h0m2 4h0m0-1h0m4 3h0m1 4h0m3-3h0m0-5h0m6-2h0m0 9h0m4-8h0m1 8h0m1-10h0m2 11h0m2-8h0m0-1h0m3 7h0m0-5h0m1 4h0m7 1h0m8-1h0m4-3h0m12-4h0m2 3h0m6 1h0m8 1h0m2 5h0m11-6h0m9 2h0m10-4h0m21 0h0m52 4h0m35-3h0m22-3h0m84 4h0m151-1h0m93 3h0m-814 10h0m212-4h0m1 0h0m1 1h0m5-2h0m4 1h0m4 1h0m1 6h0m1-5h0m2 4h0m1-2h0m2-3h0m0 9h0m1-6h0m2-3h0m4 6h0m2-3h0m1 0h0m2 2h0m8-1h0m3 3h0m1 2h0m7-11h0m1 9h0m6-9h0m2 5h0m3 6h0m0-6h0m3 2h0m5-5h0m1 9h0m4-5h0m0 3h0m9 0h0m1-4h0m1 2h0m0-4h0m7 5h0m6-3h0m10-2h0m4 0h0m2-2h0m2 1h0m10 3h0m20-3h0m7 0h0m6 9h0m48 0h0m0-6h0m4 0h0m26 3h0m21-4h0m10 5h0m18-2h0m-293 11h0m3 4h0m2-5h0m1 0h0m3-4h0m5 9h0m1-8h0m0-1h0m5 4h0m0 3h0m1 1h0m11-3h0m7-3h0m0 1h0m7 5h0m0 0h0m1-1h0m0-6h0m1 9h0m2-11h0m1 3h0m3 4h0m3 1h0m3 2h0m5-7h0m6-3h0m4 7h0m4 4h0m4 0h0m6-6h0m12 6h0m1-4h0m7 3h0m7 0h0m2-2h0m5 1h0m17-3h0m13-5h0m7 9h0m20-10h0m1 5h0m2-2h0m3 6h0m88-1h0m9-1h0m9 0h0m41 4h0m59-4h0m2 2h0m19-4h0m-621 16h0m8-3h0m177 5h0m1 0h0m0 0h0m1-4h0m2 2h0m3 0h0m7 1h0m2-9h0m0 1h0m4 3h0m0-5h0m1 10h0m6-5h0m0-4h0m2 3h0m4-1h0m0 2h0m1-3h0m1 9h0m6-6h0m1-1h0m0-1h0m1 1h0m2-3h0m2 2h0m6 4h0m2 4h0m1-2h0m3-7h0m0-2h0m4 11h0m3-9h0m5 7h0m1-3h0m3-3h0m0 6h0m4 1h0m10-4h0m5-6h0m4 9h0m0-1h0m1 1h0m1-3h0m6-5h0m1 0h0m3 10h0m11-1h0m3-8h0m5 2h0m1 2h0m1 1h0m2-5h0m2 4h0m7 5h0m1-11h0m11 5h0m1-4h0m4 2h0m1 1h0m9 2h0m8 5h0m8 0h0m4-6h0m14 3h0m43 2h0m7-4h0m8-5h0m25 1h0m21 9h0m0-1h0m9-4h0m51-4h0m51-1h0m69 9h0m-667 5h0m1 7h0m5 1h0m0-11h0m1 7h0m9 4h0m1 0h0m4-2h0m2-2h0m2-1h0m12 5h0m0 0h0m106-1h0m22-2h0m4 2h0m6-6h0m1 2h0m0 1h0m1 3h0m0-5h0m2 0h0m1-1h0m1 0h0m0 2h0m1 2h0m1-7h0m1 0h0m2 8h0m1-7h0m0 5h0m1 1h0m3-7h0m2 7h0m1-1h0m2-1h0m0-4h0m0 6h0m5-6h0m7-1h0m3 5h0m10-1h0m1-3h0m4 0h0m0-1h0m1-1h0m0 4h0m2 1h0m1 3h0m0-2h0m1 5h0m1-10h0m1 7h0m3-4h0m2 0h0m1 0h0m0-1h0m4-2h0m1-1h0m0 10h0m5 0h0m0-1h0m4-2h0m5 2h0m1-2h0m1-1h0m9 3h0m1-3h0m2 0h0m9-3h0m2 6h0m4-7h0m2-1h0m1 3h0m2 6h0m3-6h0m14 0h0m0 6h0m4 0h0m0 1h0m1-10h0m0 0h0m13 1h0m9 0h0m9 9h0m3-7h0m4-4h0m2 1h0m4 1h0m8 7h0m4 2h0m58-9h0m62 3h0m-486 13h0m6 1h0m4-5h0m2 0h0m3-1h0m6 9h0m4-10h0m1 2h0m3 1h0m5 2h0m0-2h0m2 4h0m5-5h0m0 5h0m3-3h0m7 2h0m1 2h0m0-4h0m3 5h0m0-7h0m1 4h0m1 0h0m3 1h0m1 3h0m3 0h0m3 1h0m1-2h0m2-4h0m5 6h0m0 0h0m11-3h0m0 0h0m11 3h0m12-2h0m1 2h0m4-2h0m4 1h0m0 0h0m12 1h0m0-1h0m3-5h0m2 4h0m1-8h0m2-1h0m0 7h0m2-5h0m3-1h0m3-1h0m3 11h0m1-10h0m3 10h0m0-5h0m0 0h0m1 3h0m0-8h0m6 9h0m0-1h0m0-7h0m0 7h0m2 2h0m2 0h0m1-2h0m1-3h0m4 1h0m9 3h0m3-2h0m1-3h0m1-1h0m1-4h0m1 9h0m6-9h0m0 0h0m3 0h0m9 4h0m1 1h0m2-3h0m8 3h0m3-3h0m2 8h0m0-7h0m2 8h0m0-1h0m2-10h0m1 3h0m3-1h0m0 4h0m3-3h0m5-1h0m8 0h0m2 8h0m3-3h0m8-5h0m2-1h0m3 3h0m2 6h0m0-7h0m1 2h0m1-1h0m5-1h0m3 1h0m6 0h0m10 7h0m3 0h0m3-7h0m4 3h0m3-5h0m2 2h0m4 2h0m12 1h0m7-1h0m14 2h0m64-4h0m39 4h0m21-5h0m-441 11h0m7 0h0m0 4h0m14-3h0m2 8h0m8-3h0m1 2h0m2-8h0m0-2h0m4 0h0m3 7h0m6 4h0m6-6h0m2 1h0m3-1h0m4 1h0m8 5h0m3-6h0m2-2h0m0 0h0m6 2h0m12-3h0m2 2h0m2 4h0m2-7h0m14 2h0m0 6h0m2 1h0m1-5h0m0 2h0m5 1h0m13-8h0m3 6h0m5-5h0m12 6h0m1-2h0m4 0h0m5 6h0m6-9h0m5 4h0m9-4h0m1 3h0m1 0h0m2-1h0m4-2h0m7-1h0m1 8h0m2-1h0m2 1h0m3 2h0m4-9h0m6 4h0m3-5h0m2 6h0m2 2h0m4-7h0m6 8h0m3-8h0m10 2h0m1 3h0m5 0h0m8 3h0m1-9h0m24 0h0m1 8h0m7 1h0m11-3h0m5-2h0m20-2h0m83 4h0m21-3h0m207-1h0m-602 13h0m4-4h0m3 2h0m5 3h0m3 5h0m10 0h0m12-6h0m1 6h0m12-5h0m26 3h0m4-1h0m1-1h0m8-3h0m7 3h0m1-5h0m2 6h0m1-4h0m4 2h0m0-4h0m2 1h0m6 4h0m1-4h0m1 7h0m13-7h0m1 7h0m4 2h0m5-6h0m6-4h0m5 9h0m0-2h0m4-4h0m1-4h0m5 9h0m2-5h0m2-3h0m2 9h0m1-4h0m3 0h0m4 1h0m15-4h0m0-2h0m8 2h0m16 7h0m3-6h0m9 3h0m10 1h0m18-6h0m9 2h0m3-2h0m72 1h0m39-1h0m10 3h0m14 4h0m-433 4h0m85 10h0m2-7h0m31-2h0m43 1h0m7 3h0m5-3h0m1 1h0m3 1h0m2-5h0m13 2h0m28 9h0m0-6h0m16 1h0m11-6h0m55 8h0m-168 14h0m1 0h0m74-2h0m1 2h0m3 0h0m93-10h0m14 7h0m-148 6h0m319 24h0"/><path d="M166 22h0m30-2h0m65 1h0m16-1h0m17-8h0m-131 15h0m38 4h0m-54 12h0m131 4h0m31-6h0m378 3h0m-518 11h0m16 11h0m0 2h0m83 0h0m98-1h0m82-1h0m-255 7h0m11 5h0m35 3h0m122-3h0m88-2h0m-274 9h0m22 9h0m213-4h0m-201 10h0m1 6h0m33 1h0m-67 9h0m4-3h0m49-3h0m18 1h0m1 4h0m112-3h0m7-2h0m83 15h0m101 2h0m242 2h0m-571 12h0m159-5h0m125 0h0m-381 15h0m38-5h0m17 2h0m23 5h0m16-5h0m116 3h0m94-5h0m-258 16h0m686 5h0m-696 4h0m3 2h0m6 1h0m40 2h0m4-1h0m12-4h0m152 1h0m-214 12h0m59 6h0m10-1h0m20-3h0m22 1h0m191 3h0m-317 6h0m20-4h0m7 6h0m18 5h0m17-3h0m71-1h0m102 4h0m141-9h0m-373 17h0m4-6h0m3 6h0m4 1h0m25-6h0m6-1h0m23 5h0m287-5h0m-351 22h0m19-7h0m7-3h0m78-1h0m23 10h0m549-1h0m62-4h0m-665 12h0m8 6h0m-105 6h0m36-4h0m3 1h0m22 3h0m3-3h0m14 0h0m4 3h0m4 2h0m0 2h0m40-3h0m130-6h0m88 8h0m420 2h0m39-10h0m-776 19h0m12-3h0m13 7h0m11-6h0m-23 13h0m11-5h0m4 1h0m4 8h0m6-4h0m2-1h0m14-5h0m0 2h0m3 8h0m8-6h0m7 5h0m33-4h0m54 6h0m26-5h0m18-1h0m120 4h0m44-1h0m29-5h0m105 3h0m79 3h0m-588 9h0m12 1h0m37-7h0m22 10h0m45-6h0m17-4h0m13 8h0m169-4h0m1 3h0m-305 8h0m3 6h0m16-5h0m2 1h0m8 2h0m1 3h0m0-5h0m25-1h0m36-3h0m11 0h0m10 1h0m70-2h0m42 1h0m39 3h0m236 7h0m-522 3h0m17 6h0m1 3h0m3-8h0m10 7h0m20-9h0m9 9h0m5-6h0m3-2h0m6 8h0m3-1h0m13-8h0m6 10h0m0-9h0m8-1h0m4 0h0m6 4h0m15-1h0m24 6h0m0-4h0m3-2h0m9-4h0m33 3h0m11 8h0m87-10h0m78-1h0m38 9h0m51 0h0m-449 10h0m21-7h0m15 1h0m4-1h0m10 6h0m1 0h0m1 4h0m4 1h0m22 0h0m36-9h0m15 1h0m17-1h0m2-2h0m1 4h0m2 4h0m103-5h0m165-2h0m13 3h0m34 6h0m142-8h0m19 8h0m86-3h0m-721 6h0m11 9h0m2-3h0m3-3h0m5-3h0m1 1h0m5-1h0m3 10h0m15-2h0m6-2h0m21-7h0m13 9h0m3-6h0m5 4h0m11-2h0m21 1h0m9-1h0m7 4h0m3-4h0m27 4h0m25-9h0m5 7h0m14 4h0m68-9h0m11 3h0m-306 10h0m4 3h0m16-4h0m1 3h0m7 5h0m3-2h0m1 1h0m4 0h0m5-4h0m5 1h0m7-4h0m3-2h0m5 7h0m3 2h0m4-5h0m5 3h0m3-2h0m3-4h0m3 2h0m5-2h0m7 9h0m1-10h0m8 10h0m3-10h0m6 2h0m24 8h0m9-3h0m1 0h0m24 3h0m7-1h0m9 0h0m5 1h0m6-4h0m14 5h0m3-3h0m13 3h0m6-3h0m4 3h0m6-6h0m10 3h0m20-7h0m39 0h0m87 3h0m92 6h0m5-10h0m-492 18h0m1 2h0m9-3h0m2-2h0m6 3h0m3 3h0m2-2h0m2-7h0m1 9h0m4-9h0m1 7h0m0 4h0m2-6h0m1 0h0m1-1h0m22-3h0m3 7h0m3 1h0m3-8h0m1 5h0m1 0h0m1 2h0m7-1h0m3-3h0m6 4h0m1 2h0m7-5h0m9 3h0m4-3h0m5 2h0m0-3h0m4 0h0m4 0h0m0 5h0m0-3h0m10 1h0m5-6h0m1-1h0m11 4h0m3 2h0m15-6h0m3 8h0m2 2h0m7-1h0m0-2h0m7 4h0m2-4h0m2 4h0m3-6h0m4 2h0m1-1h0m15 4h0m1-4h0m1-2h0m1-1h0m2 6h0m1 0h0m2-4h0m2-2h0m2 7h0m26-1h0m5-1h0m1-6h0m4 8h0m2-2h0m15 2h0m1-7h0m3 0h0m0 0h0m1 2h0m8-1h0m2 2h0m2 4h0m4 1h0m2-4h0m5 1h0m2 1h0m35-1h0m4 1h0m12-7h0m22 6h0m1 1h0m1 0h0m440-1h0m-833 15h0m5-9h0m2 6h0m5 2h0m1-9h0m2 3h0m3-2h0m3-1h0m0 8h0m5-4h0m1-2h0m6-3h0m1 3h0m1-1h0m0 2h0m1 1h0m0 0h0m2 5h0m1-2h0m1-6h0m2 1h0m2-3h0m2 9h0m2-8h0m2 0h0m1 4h0m0-1h0m1 2h0m3 1h0m1 4h0m1-6h0m1 6h0m5-7h0m5-1h0m0 8h0m2-1h0m0 0h0m2-7h0m0 0h0m1-2h0m3 9h0m1-3h0m0 3h0m2-10h0m0 6h0m2 0h0m0-3h0m3 5h0m2-7h0m0 6h0m3-7h0m0 0h0m2 10h0m3-8h0m2 0h0m2 5h0m3 3h0m10-6h0m6 2h0m4-2h0m3 4h0m1 2h0m1-1h0m0 0h0m4 2h0m1-3h0m1-5h0m2 5h0m11 1h0m6-5h0m0 3h0m0-5h0m1 9h0m1-1h0m1 1h0m5-4h0m2 1h0m1 1h0m4-6h0m3 7h0m0-5h0m1 1h0m3 3h0m3 0h0m3-2h0m14 0h0m4 1h0m9 3h0m2-8h0m7 8h0m15-11h0m5 0h0m3 5h0m1 4h0m2-7h0m1-2h0m7 0h0m2 11h0m6-3h0m14-1h0m8 0h0m5 1h0m10-8h0m16 3h0m7 6h0m8 2h0m5-6h0m8 5h0m4-4h0m32 1h0m1 2h0m33 2h0m130-5h0m167-3h0m-708 9h0m12 11h0m1-11h0m2 1h0m1 10h0m5-11h0m1 8h0m3 2h0m1-5h0m3-1h0m1 5h0m1-2h0m2-7h0m3 1h0m4 0h0m1 0h0m1 10h0m3-2h0m0-6h0m1 7h0m2 1h0m0-2h0m0-4h0m1 2h0m0-1h0m4-5h0m1 6h0m2 1h0m0-2h0m1 4h0m0-2h0m3-7h0m3 6h0m1-6h0m0 2h0m1 7h0m1-8h0m1-1h0m0 2h0m0-1h0m0 5h0m1 4h0m2-5h0m1-6h0m1 7h0m2-4h0m0-2h0m0 1h0m0 8h0m1-8h0m1 8h0m0 0h0m2-8h0m0 2h0m1-2h0m0 3h0m0-5h0m1 0h0m2 6h0m1-4h0m1 2h0m1 7h0m1-3h0m1 2h0m0-6h0m1 3h0m0-2h0m0 3h0m4-3h0m1 2h0m1-2h0m0-1h0m0-2h0m1 9h0m0-4h0m0-6h0m0 7h0m1-3h0m3 0h0m1 5h0m1-6h0m1 0h0m0-3h0m1 10h0m6-2h0m0 0h0m2-5h0m4 6h0m0-6h0m2-4h0m1 7h0m2 1h0m3-8h0m3 8h0m0-6h0m2 9h0m0-2h0m2 0h0m11 2h0m3-11h0m0 8h0m3 0h0m1 3h0m1 0h0m1-3h0m2-2h0m4 5h0m1-1h0m3-4h0m0 0h0m1 4h0m2-6h0m4 3h0m3 1h0m2 3h0m0-9h0m0 7h0m1-9h0m0 5h0m3-3h0m4 5h0m2-3h0m8 5h0m1-1h0m5 3h0m1-4h0m1-2h0m0 1h0m1-2h0m1 2h0m3-1h0m3 3h0m1-5h0m16 8h0m3-3h0m0 0h0m2-4h0m5 0h0m4 0h0m2 6h0m1-9h0m5 9h0m1-5h0m4-3h0m5 5h0m7 3h0m5-10h0m13 4h0m3 2h0m20 1h0m1-6h0m4 3h0m4 5h0m2 2h0m0-7h0m4 1h0m2-4h0m3-1h0m9 0h0m16 11h0m36-2h0m28 1h0m0-2h0m96-7h0m7 2h0m53 7h0m148-1h0m-712 10h0m3-4h0m0 8h0m1-10h0m0 1h0m3 1h0m3 4h0m2 4h0m0-11h0m1 2h0m1 0h0m3 7h0m3-8h0m1 9h0m2 0h0m0-1h0m1-7h0m5 1h0m2 0h0m5-2h0m1 6h0m3-2h0m0 3h0m3 2h0m0-7h0m1 4h0m0 1h0m1 2h0m1-10h0m0 6h0m1-1h0m0 4h0m2-5h0m0 3h0m1-4h0m0 2h0m1-4h0m2-1h0m0 4h0m2-1h0m4 0h0m2 4h0m4-6h0m1 5h0m0 0h0m1 3h0m5-6h0m0 2h0m0 2h0m1 4h0m1-9h0m1 8h0m2-6h0m1-2h0m0 2h0m0-1h0m0 6h0m0-8h0m0 3h0m6 0h0m3 1h0m0-3h0m0 3h0m2 5h0m3-5h0m2-2h0m0 8h0m1-4h0m1-5h0m0 5h0m1 0h0m0-5h0m1 9h0m0-11h0m1 3h0m1 3h0m1-3h0m1 8h0m1-11h0m3 8h0m0-2h0m1-4h0m1 3h0m0-5h0m1 7h0m2 3h0m0-5h0m0 3h0m1-2h0m1 3h0m1-1h0m0-5h0m2 5h0m3-7h0m2 5h0m1 0h0m1-6h0m5 2h0m1 9h0m0-10h0m1 0h0m0 5h0m1-4h0m2 5h0m6 0h0m1-2h0m4 0h0m1-1h0m2 6h0m2-2h0m1-4h0m0-2h0m0 8h0m2-9h0m5 0h0m3 5h0m0-6h0m0 0h0m3 6h0m0 4h0m0-6h0m0 2h0m0-6h0m1 2h0m0-2h0m1 0h0m4 1h0m6 7h0m1-8h0m0 0h0m1 2h0m5 0h0m3 6h0m0-3h0m1 2h0m2 2h0m1-9h0m0 4h0m2 1h0m3 1h0m1-2h0m2 7h0m2-6h0m1-3h0m2-1h0m6 4h0m3 3h0m6 0h0m2-3h0m3 5h0m1-7h0m0 3h0m2 3h0m2-8h0m0 9h0m4-3h0m2 2h0m0-4h0m11-3h0m7 4h0m2 5h0m8-9h0m1 7h0m4-6h0m3-2h0m3 0h0m1 3h0m5 5h0m0-1h0m3-8h0m6 10h0m3 1h0m9-7h0m3-4h0m6 7h0m1 1h0m1-4h0m15 6h0m3-3h0m1-2h0m1-5h0m6 5h0m36-4h0m3 9h0m4-6h0m90 4h0m62-4h0m31-4h0m13 2h0m86 6h0m48 0h0m-713 9h0m0 1h0m19-5h0m1 0h0m43 1h0m1-2h0m1 2h0m1-2h0m6 2h0m1-2h0m2 4h0m1-1h0m0 1h0m5-4h0m5 1h0m1 2h0m0 2h0m1-3h0m0 2h0m1-4h0m1 4h0m1-3h0m1 1h0m4 5h0m2-4h0m0-3h0m2 2h0m1-2h0m2 1h0m0 6h0m1-6h0m0 2h0m0 7h0m1-4h0m2-2h0m0 3h0m0 2h0m2-8h0m1 1h0m1-2h0m1 5h0m1-2h0m0 4h0m3 0h0m0 2h0m1-9h0m2 9h0m0-2h0m1-1h0m0-2h0m0 3h0m0-6h0m1 7h0m1 3h0m3-7h0m0 7h0m0-10h0m4 2h0m3 7h0m1-10h0m0 7h0m0-6h0m3 4h0m0 4h0m1-3h0m1 5h0m0-9h0m0 2h0m1 6h0m3-4h0m3-1h0m0 3h0m3-4h0m1 2h0m1 4h0m1-4h0m1 1h0m2-7h0m1 10h0m0-1h0m1-3h0m4 2h0m0-5h0m0-1h0m1 6h0m3-2h0m2-5h0m0 9h0m1-1h0m0-9h0m2 10h0m5-8h0m0 9h0m1-6h0m0 5h0m2-2h0m2 3h0m4 0h0m7-9h0m1 8h0m2-10h0m0 1h0m2 0h0m1 6h0m0 2h0m4 0h0m4-4h0m15-2h0m4 0h0m1 1h0m6 6h0m2 0h0m5-9h0m0 0h0m4 0h0m0-1h0m1 11h0m1-6h0m2 5h0m4 0h0m0 0h0m1 1h0m11-6h0m0 1h0m2 5h0m1-3h0m4-7h0m3 1h0m8 4h0m0 3h0m14-6h0m1-1h0m2 6h0m10-4h0m2 0h0m1 5h0m6-8h0m16 1h0m7 3h0m4 3h0m3-8h0m2 8h0m154-8h0m335 3h0m-834 9h0m110 3h0m2 2h0m0-3h0m1-1h0m1 5h0m0-3h0m0-3h0m1 6h0m1-1h0m4 1h0m1-4h0m2 1h0m1 6h0m1 0h0m0-7h0m0-2h0m2 2h0m0 5h0m2-1h0m4 4h0m1-3h0m2 4h0m0 0h0m2-1h0m0-1h0m2-6h0m1-1h0m1 7h0m3-7h0m0 4h0m1-5h0m2 7h0m1-4h0m1 4h0m1-3h0m0 6h0m2 0h0m1-11h0m1 2h0m3 3h0m1-3h0m1 5h0m1 4h0m7-5h0m0 1h0m2-4h0m1 5h0m1 2h0m0-8h0m1 1h0m1 0h0m1 8h0m0 0h0m2-9h0m0 3h0m1 0h0m1 4h0m3-3h0m2 0h0m0 0h0m2-6h0m1 7h0m0-5h0m0 1h0m4 1h0m0-2h0m10-2h0m1 7h0m1 0h0m1 1h0m7-8h0m1 4h0m1-2h0m0 2h0m6 1h0m1 5h0m3-6h0m0-3h0m0 9h0m1-3h0m1-2h0m0 1h0m0 5h0m4-4h0m1-2h0m2 1h0m2-2h0m0-4h0m5 8h0m3 1h0m0-5h0m1-1h0m1-2h0m3-1h0m1 11h0m2-6h0m3-5h0m1 10h0m6-8h0m3 4h0m4-6h0m2 2h0m4 8h0m2-5h0m6 6h0m4-8h0m4-2h0m2 5h0m1 4h0m7 1h0m2-5h0m0 2h0m3-7h0m11 1h0m6 0h0m3 4h0m6-6h0m5 8h0m4-2h0m2 0h0m0-2h0m13 5h0m4-3h0m8-3h0m3 7h0m19 1h0m50-8h0m12 0h0m60 6h0m76-1h0m205-6h0m-794 10h0m152 1h0m2 1h0m2 4h0m0 0h0m1-5h0m5 6h0m0 3h0m0-9h0m3 6h0m3-5h0m1 5h0m2-5h0m0-2h0m0 1h0m4 3h0m0 1h0m3 0h0m0-3h0m1 3h0m2-5h0m1 3h0m1 2h0m5 5h0m4-3h0m1 4h0m0-7h0m0 6h0m4-8h0m6 1h0m1 3h0m1 2h0m1-5h0m1 8h0m0 0h0m1-7h0m7 3h0m3 4h0m2-11h0m2 9h0m1-6h0m0 2h0m0-5h0m1 7h0m3-6h0m8 0h0m1 2h0m2 1h0m1 0h0m2 3h0m0 4h0m6-9h0m4 9h0m2-1h0m1 1h0m0-3h0m3 2h0m0-8h0m1-2h0m3 7h0m2-5h0m2 4h0m1-1h0m1 4h0m2-4h0m0-1h0m3-4h0m1 9h0m2-2h0m0-6h0m2 10h0m7-1h0m10-8h0m1 9h0m4-3h0m6-1h0m12-4h0m4 1h0m3 2h0m6-3h0m1-3h0m3 7h0m30 1h0m32 2h0m3-3h0m54-2h0m3-4h0m20 10h0m132-1h0m-608 8h0m164-5h0m2-1h0m9 6h0m0 1h0m1-4h0m1 2h0m3 1h0m1-6h0m10 3h0m0 1h0m2-4h0m0 0h0m0 2h0m1 4h0m4-2h0m1 2h0m0-5h0m4 10h0m5-2h0m6-2h0m1 2h0m2-6h0m5 5h0m3-2h0m1 2h0m3-7h0m0-1h0m2 6h0m0 0h0m1 3h0m1-1h0m0-5h0m4 3h0m2 5h0m3-5h0m0 3h0m12 1h0m0-1h0m3-4h0m0-1h0m3 3h0m4-5h0m0 5h0m0-5h0m6 6h0m1-6h0m3 8h0m1-4h0m0 3h0m0 0h0m2-6h0m2 3h0m0-2h0m7 6h0m6-10h0m7 9h0m2-7h0m5 3h0m0 6h0m0-4h0m6-1h0m18 0h0m1 1h0m4 4h0m4-7h0m24-2h0m2-2h0m12 3h0m8 4h0m10 3h0m72-10h0m78 2h0m84 3h0m-459 14h0m4 4h0m2-7h0m2 7h0m4 0h0m0-3h0m3-8h0m0 6h0m1 0h0m1-5h0m0 8h0m1-7h0m3 1h0m1 1h0m2 2h0m2-3h0m0 3h0m1-6h0m0 5h0m0 6h0m2-4h0m0-5h0m1-1h0m0 0h0m6-1h0m0 2h0m1 2h0m3 7h0m0-6h0m1 2h0m3-7h0m12 7h0m0-4h0m0 1h0m4 5h0m3-3h0m1 3h0m2-6h0m2 1h0m4-2h0m0 0h0m10 2h0m2-4h0m2 4h0m1 1h0m2 6h0m1-5h0m2 4h0m1-6h0m5-3h0m4 2h0m2 7h0m1-2h0m4-8h0m2 4h0m1-3h0m1 7h0m3-5h0m5 4h0m1 2h0m1-1h0m3-5h0m2 4h0m2 1h0m6 0h0m2 3h0m1-8h0m1 4h0m1-7h0m21 4h0m1-4h0m10 4h0m6-4h0m6 0h0m1 6h0m2 2h0m0-7h0m21 8h0m7 1h0m41-4h0m190-2h0m-452 10h0m1 4h0m5-2h0m0 3h0m2 0h0m1-7h0m1 5h0m2-5h0m0 8h0m7-1h0m0-3h0m1 1h0m0-4h0m4-1h0m1 1h0m1 7h0m6-2h0m1 1h0m2-5h0m2 5h0m1-4h0m1-1h0m6 6h0m1-6h0m4 0h0m5 0h0m3 6h0m3 1h0m0-7h0m4 5h0m1-7h0m1 10h0m2-10h0m0 4h0m0 2h0m12 2h0m0-4h0m1 5h0m3-2h0m5 2h0m25-4h0m4 4h0m0-4h0m1-2h0m3 8h0m8 0h0m3-2h0m2-5h0m3-3h0m1 5h0m2 2h0m1-4h0m2 4h0m2-6h0m6 1h0m6 7h0m6-4h0m1 2h0m0 3h0m4-5h0m3-1h0m2 5h0m20-4h0m1 3h0m1 0h0m0-9h0m31 5h0m12 6h0m40-1h0m-446 10h0m0-7h0m192 4h0m1 2h0m0-7h0m4 4h0m0 5h0m1-8h0m5-1h0m2 5h0m0 5h0m1-1h0m0-4h0m1-4h0m2 9h0m4-6h0m1-4h0m2 5h0m2 6h0m2-3h0m4-3h0m6-1h0m2-2h0m2-1h0m0 1h0m3 4h0m2 0h0m0 5h0m2-8h0m1 7h0m1-1h0m7-2h0m1 3h0m1-5h0m1-4h0m2 8h0m4 1h0m11-7h0m4-2h0m1 3h0m0 7h0m2-2h0m0-3h0m4-4h0m1 7h0m3 1h0m2-9h0m1-1h0m0 1h0m2 9h0m3-4h0m4-1h0m9-4h0m10 6h0m4-3h0m0 6h0m3-7h0m3 6h0m6-3h0m0 0h0m8-2h0m8-3h0m3 5h0m4-1h0m11 3h0m9 1h0m47-6h0m4-3h0m5 2h0m2 9h0m12-3h0m25-4h0m14 1h0m12-2h0m53 0h0m86 5h0m144-5h0m-580 11h0m7 2h0m9-4h0m0 7h0m3 3h0m1-8h0m1 8h0m4 0h0m1-8h0m0 0h0m0 0h0m6 9h0m0-7h0m1 7h0m0-1h0m2-10h0m0 7h0m2 1h0m0-7h0m2 3h0m1-4h0m2 5h0m4-2h0m6 1h0m4 0h0m0 4h0m0-6h0m2-1h0m2 9h0m1 0h0m0-5h0m9-1h0m1-4h0m2 6h0m3-5h0m5-1h0m2 10h0m0-3h0m1-7h0m2 10h0m3-6h0m4-4h0m8 8h0m7 0h0m4-7h0m6 7h0m1 2h0m0-1h0m7-3h0m2-1h0m3-2h0m12-3h0m2 6h0m0 1h0m3-7h0m9 5h0m13 4h0m5 2h0m1-3h0m2-5h0m16 3h0m24-6h0m67 4h0m2 4h0m123 0h0m-397 5h0m1 5h0m0 2h0m2 1h0m1-3h0m1-4h0m1 4h0m1-6h0m1 9h0m1-9h0m2 10h0m2-6h0m1-2h0m0 3h0m2-1h0m2 1h0m1-2h0m0 3h0m0-2h0m1 0h0m0-1h0m6 1h0m1-2h0m2 9h0m0-3h0m1-7h0m2 0h0m3 9h0m1-6h0m0 0h0m2 5h0m4-4h0m6-4h0m0 4h0m2-1h0m2 1h0m1 4h0m2-3h0m1 0h0m2-1h0m1-5h0m1 0h0m3 10h0m1-5h0m2-3h0m11 0h0m9 6h0m6 2h0m0-5h0m0-4h0m8 3h0m15-1h0m6 5h0m27-7h0m7 4h0m3 6h0m1-9h0m42 3h0m26 5h0m33-5h0m17 4h0m84-2h0m-573 9h0m2-4h0m208 2h0m1 7h0m0-5h0m3 3h0m2-6h0m1 6h0m2-7h0m2 9h0m0 0h0m2 2h0m0-3h0m2 3h0m2-11h0m0 10h0m1 1h0m5-2h0m0-7h0m2 8h0m2-6h0m0 5h0m0-5h0m3-3h0m1 2h0m3 6h0m0 2h0m1-3h0m5-8h0m1 10h0m2-2h0m1-5h0m2 1h0m1 1h0m0 1h0m6-1h0m1 4h0m1 2h0m5 0h0m5-11h0m1 1h0m1 3h0m0 1h0m4 1h0m4 4h0m2-6h0m16 6h0m11-6h0m1-2h0m2 1h0m0 3h0m3-6h0m1 7h0m1 1h0m3-6h0m0 2h0m2 6h0m11-3h0m4 0h0m6 4h0m16-8h0m4 8h0m2-9h0m0 4h0m15-6h0m20 5h0m21 3h0m9-5h0m20-2h0m117 4h0m47-2h0m49-1h0m96 0h0m-547 13h0m6 2h0m0 2h0m2-1h0m2-2h0m0 6h0m2 0h0m1-6h0m4-3h0m4 0h0m1 0h0m2 3h0m3 0h0m1 1h0m4-5h0m1 0h0m1 6h0m0-6h0m0 2h0m5 6h0m0-6h0m0 6h0m3-8h0m2 3h0m1 8h0m1-1h0m0-10h0m2 0h0m1 8h0m4 1h0m0-2h0m2-2h0m0 6h0m1-5h0m2-3h0m4-1h0m1 6h0m2-2h0m0-3h0m2 2h0m5 1h0m2 4h0m0-6h0m5 2h0m12-2h0m24 3h0m0-3h0m7-1h0m4 0h0m0 6h0m4-7h0m1 6h0m15-3h0m0-2h0m30 2h0m19 3h0m40-4h0m1 0h0m185-1h0m-433 19h0m1 0h0m4 1h0m1-1h0m0 0h0m0-1h0m1 1h0m3-1h0m0 1h0m4-4h0m4 4h0m2 0h0m1-3h0m9-2h0m1-2h0m2 6h0m4-9h0m0 9h0m0-8h0m1 8h0m1-5h0m6 3h0m2-5h0m0 0h0m3 9h0m0-4h0m2-6h0m4 3h0m1 5h0m3 2h0m2-6h0m2-1h0m7-2h0m2-1h0m5 1h0m2 6h0m5-5h0m3-2h0m4 8h0m5 0h0m6 1h0m2 0h0m4-1h0m17 0h0m2 2h0m31-7h0m10 6h0m7-8h0m11 1h0m2 8h0m28-11h0m19 3h0m72 7h0m140-8h0m-650 17h0m3-2h0m1 4h0m11 2h0m170 0h0m6-5h0m0 3h0m1-3h0m0-1h0m6 1h0m4 0h0m1 4h0m3-8h0m1 3h0m1-3h0m0 6h0m0-1h0m5 2h0m1 0h0m0-8h0m1 6h0m1 0h0m1-2h0m1 3h0m1-1h0m1 4h0m2-7h0m1 1h0m0-2h0m1-2h0m1 1h0m0 9h0m1 0h0m2-6h0m4 0h0m1 2h0m3-1h0m0 5h0m4-2h0m0-6h0m3 5h0m2-2h0m10 0h0m8-2h0m1-1h0m2 1h0m4-1h0m3 6h0m1-2h0m4-5h0m2 9h0m2-4h0m5 2h0m1-4h0m4-5h0m1 9h0m2 2h0m1-5h0m4 0h0m7-4h0m1-1h0m1 1h0m6 5h0m3-6h0m5 10h0m1-10h0m5 3h0m2 6h0m3-2h0m3-4h0m14 4h0m8-7h0m4 5h0m1 4h0m19-1h0m6-2h0m6 1h0m21-4h0m24-4h0m11 10h0m16-5h0m33-3h0m23 4h0m82 4h0m-606 8h0m23 4h0m5-3h0m1 1h0m14 1h0m132 0h0m4-4h0m1 6h0m2-7h0m2 5h0m2-3h0m3-5h0m2-1h0m3 6h0m0-5h0m2-1h0m1 10h0m1-7h0m4 7h0m1-7h0m1 2h0m0-2h0m1-2h0m1 0h0m1 2h0m1 3h0m1 2h0m1-7h0m0 7h0m3-6h0m5 3h0m4 2h0m2 1h0m3-6h0m2-1h0m4 1h0m1 5h0m1-2h0m0 0h0m0 6h0m5-6h0m10 0h0m0-1h0m3 1h0m2-4h0m4 3h0m2 7h0m3-5h0m11-3h0m1 3h0m1-1h0m12 5h0m8-4h0m5-2h0m4-3h0m4 4h0m3-1h0m7 2h0m0 5h0m2-6h0m4 6h0m8-3h0m7-2h0m6-4h0m3 4h0m7-4h0m1 9h0m2-2h0m21-8h0m40 6h0m10 2h0m12 0h0m-421 4h0m0 0h0m2 5h0m1-4h0m3 0h0m0-2h0m0 8h0m2-5h0m3 0h0m1 0h0m2-3h0m2 3h0m4 1h0m9-2h0m4 3h0m4 4h0m0 2h0m1-1h0m1-6h0m2 6h0m3-4h0m1 5h0m0-3h0m3 0h0m2-1h0m3-1h0m1 2h0m2 1h0m8-1h0m0 3h0m5-3h0m2 1h0m2 1h0m2 0h0m12 0h0m10 0h0m1 1h0m5 0h0m2-1h0m11 0h0m4-2h0m6-2h0m4 4h0m1-7h0m10-1h0m2 2h0m1 4h0m0-8h0m3 7h0m0 2h0m3-4h0m1-3h0m1 5h0m1-4h0m2 3h0m5-2h0m4-1h0m1 1h0m1-1h0m1 3h0m0-6h0m0 9h0m1-4h0m2 1h0m0-3h0m2 0h0m1 6h0m3 1h0m1-4h0m0 0h0m4 2h0m1 3h0m4-5h0m2 5h0m0-10h0m7 3h0m4 0h0m1-1h0m4-2h0m1 7h0m1-5h0m11 6h0m1 2h0m2-5h0m0-6h0m1 3h0m9-3h0m2 4h0m1 0h0m0 4h0m5-4h0m5 2h0m11-5h0m6 4h0m1-4h0m6 4h0m5-2h0m9 6h0m9 2h0m23-9h0m5 8h0m7-9h0m21 7h0m12-8h0m13 11h0m2-7h0m58-3h0m27 6h0m143-5h0m134 7h0m-753 4h0m28 4h0m12 5h0m4-5h0m0-1h0m10-3h0m1 3h0m8 0h0m1 4h0m2-1h0m3-6h0m6 10h0m5-3h0m1-4h0m7-1h0m1 2h0m5 2h0m5 4h0m2-9h0m3 9h0m3-2h0m3-8h0m1 1h0m4 5h0m1-1h0m0-2h0m2 1h0m3 0h0m0 6h0m11-2h0m2-5h0m2-3h0m7 3h0m0-3h0m10 9h0m0-2h0m2-4h0m2-4h0m4 7h0m2-5h0m9 3h0m0-5h0m3 5h0m9-2h0m1 4h0m3 4h0m5-1h0m0-7h0m7 8h0m4-3h0m8-8h0m11 1h0m6-1h0m10 5h0m10 4h0m4-7h0m0 9h0m10 0h0m8-9h0m8 5h0m19-2h0m3-5h0m0 2h0m0 8h0m1-4h0m10-1h0m7-3h0m4 2h0m12-3h0m3 10h0m29 0h0m58-6h0m67 1h0m-444 12h0m12-6h0m7 6h0m3 0h0m24 4h0m0-5h0m3-2h0m10 8h0m8-7h0m1-1h0m0-2h0m9 4h0m11 5h0m1-3h0m8 4h0m2-7h0m7 0h0m11 5h0m10-8h0m0 0h0m4 0h0m0 5h0m3-5h0m19 9h0m9-2h0m6-8h0m8 6h0m2-2h0m7 7h0m1-3h0m0-6h0m4 0h0m18 2h0m3 5h0m12-1h0m3 2h0m27-9h0m6 1h0m0 7h0m6-4h0m21 1h0m16-4h0m21 6h0m137-6h0m-378 20h0m10-10h0m7 3h0m32 6h0m9-1h0m2-3h0m31 3h0m4-8h0m3 7h0m12 2h0m16-8h0m14 2h0m4-1h0m24 2h0m64-1h0m184-3h0m73 5h0m-526 8h0m240 3h0m11 1h0m126-4h0m-225 18h0m7-7h0m26 4h0m7 0h0m14 3h0m13-2h0"/><path d="M171 18h0m91 2h0m18-4h0m428 6h0m-526 11h0m201-4h0m52 6h0m-299 5h0m11 1h0m3-2h0m23 3h0m21 0h0m39 3h0m97-5h0m51 5h0m-221 12h0m18-6h0m46 2h0m3-5h0m-43 12h0m9 11h0m4-4h0m9 4h0m12 0h0m34-7h0m117 17h0m45-4h0m-151 13h0m-76 15h0m61-3h0m-97 13h0m22-7h0m34 3h0m0 7h0m15-8h0m-34 12h0m1 3h0m11 0h0m9-3h0m65 7h0m26 1h0m-107 12h0m23-3h0m21 4h0m-23 1h0m32 2h0m18 1h0m3 3h0m231-4h0m-352 20h0m25-9h0m21 5h0m13-2h0m4-3h0m14 8h0m9 0h0m33-6h0m54 0h0m1-1h0m42 6h0m32 0h0m512-2h0m-686 8h0m15 8h0m2-8h0m5-2h0m57 3h0m30-3h0m-177 23h0m21-3h0m6 0h0m46-3h0m0 3h0m24-1h0m90-2h0m-181 17h0m5-3h0m100-7h0m148 8h0m24-8h0m113 6h0m141 0h0m-538 13h0m50-5h0m36 1h0m171-3h0m197 4h0m171-1h0m-611 16h0m6-1h0m23 5h0m77-7h0m7 1h0m14 3h0m16 1h0m6-7h0m-160 13h0m48 6h0m159-2h0m-214 6h0m32 2h0m1 2h0m6 2h0m5 4h0m12-1h0m18-3h0m137-3h0m75 6h0m104-8h0m-360 16h0m14-1h0m13-1h0m11-4h0m170 8h0m57 0h0m57 2h0m-354 5h0m2 2h0m40-3h0m23 8h0m1-9h0m15 9h0m1 0h0m28-7h0m-63 18h0m52-3h0m36-4h0m3 3h0m165 3h0m141-2h0m-451 12h0m31 2h0m4-4h0m7-4h0m35 10h0m12-6h0m5 4h0m6 1h0m0-2h0m15 0h0m0-4h0m37 1h0m4-2h0m115 3h0m374-4h0m108 7h0m-718 6h0m7 0h0m53 6h0m4-6h0m6 6h0m37 0h0m25-5h0m26-3h0m15 10h0m72-8h0m32 3h0m-324 17h0m9-7h0m3 4h0m17-4h0m3-2h0m10 10h0m33 0h0m13-8h0m13 4h0m7-3h0m21-1h0m49 0h0m6 8h0m5-10h0m5 9h0m9-2h0m29 2h0m29 1h0m7-9h0m40 0h0m56 6h0m29-5h0m90-2h0m80 7h0m-547 11h0m9-6h0m4 9h0m12 1h0m13-6h0m13-1h0m6 6h0m6-6h0m6-1h0m1 6h0m3-8h0m1 2h0m15 2h0m2 2h0m7 1h0m2 1h0m2 2h0m7-9h0m5 6h0m35-6h0m20 9h0m12-1h0m17-2h0m8-4h0m23 7h0m4-1h0m6 1h0m15-8h0m7 8h0m50-7h0m6 1h0m35 4h0m153-6h0m-511 9h0m13 2h0m4 9h0m3-3h0m14-1h0m4 3h0m8-6h0m1-1h0m3 4h0m4-1h0m5-3h0m1-2h0m8 8h0m11-6h0m6 7h0m6-3h0m14 2h0m1-4h0m8-1h0m4 0h0m8 3h0m1-4h0m14 2h0m12 4h0m3 0h0m1-7h0m3 8h0m2-7h0m17 7h0m4-6h0m18 5h0m6-7h0m15 2h0m29 2h0m11-4h0m2 6h0m16 1h0m22-3h0m135 4h0m7 0h0m327-7h0m-773 17h0m11-8h0m8 6h0m2 3h0m1-2h0m7-4h0m2-2h0m6-1h0m2 9h0m6 2h0m7-10h0m3 10h0m1-1h0m13-1h0m8 2h0m1-10h0m2 5h0m0-2h0m2 3h0m1 1h0m3-7h0m2 9h0m1-6h0m6 2h0m1-5h0m2 2h0m1 4h0m2-3h0m3 5h0m0-6h0m1 5h0m0 3h0m5-9h0m7 9h0m0-10h0m4 0h0m1 1h0m3-1h0m5 0h0m2 8h0m1-1h0m26 2h0m18-2h0m2 2h0m3-4h0m3 5h0m7-3h0m12-6h0m5 6h0m11 3h0m1-1h0m11-5h0m14-2h0m5 0h0m2 6h0m7 2h0m4-11h0m5 8h0m10-4h0m6-3h0m1 10h0m17-8h0m15 5h0m36 1h0m24 0h0m50-4h0m40 4h0m-472 10h0m7 0h0m0-1h0m1-1h0m5 0h0m2 5h0m1-3h0m1-1h0m1 4h0m0 1h0m3-2h0m4-4h0m0 2h0m3 2h0m5-2h0m2-2h0m1-1h0m0-2h0m3-2h0m10 9h0m1 2h0m2-1h0m9-2h0m3 0h0m3-1h0m2 0h0m1-3h0m1-3h0m3 4h0m2-4h0m0 3h0m1-3h0m0 6h0m1 0h0m1-3h0m2 3h0m0-2h0m1 2h0m1 2h0m0-2h0m1-3h0m1 4h0m3-1h0m0 0h0m1 1h0m3-2h0m0 0h0m0 4h0m2-10h0m2 5h0m1-4h0m1 9h0m2-6h0m0 5h0m1-1h0m3 2h0m1 1h0m1-10h0m1 6h0m5-5h0m4 8h0m3-8h0m4 2h0m0 5h0m0 2h0m1-5h0m2-1h0m3 6h0m0-11h0m3 11h0m4-2h0m5-6h0m7 7h0m1-7h0m4 8h0m11-9h0m5-1h0m4 2h0m2 6h0m4-7h0m0 7h0m2 2h0m0-11h0m3 10h0m4 0h0m5-2h0m18 1h0m2-2h0m11-1h0m4 4h0m4-4h0m12-3h0m8-2h0m0 5h0m1-6h0m2 5h0m8-1h0m4 1h0m3 5h0m0-9h0m1 10h0m0-7h0m31 6h0m5-10h0m5 1h0m0 3h0m3 3h0m16-2h0m9 4h0m3-7h0m12 8h0m1-2h0m17-1h0m95-1h0m25 4h0m55-6h0m39 5h0m-593 12h0m0-5h0m2 6h0m1-10h0m2 2h0m1-2h0m6 1h0m1 1h0m1 8h0m0-3h0m1 1h0m0-5h0m0 4h0m2-3h0m1 4h0m1-2h0m2-2h0m0-2h0m2 9h0m0-2h0m3 2h0m1-6h0m3-3h0m1 6h0m6 2h0m4-9h0m0 10h0m1-4h0m1 1h0m2-8h0m1 3h0m1 7h0m6 0h0m1-3h0m2-5h0m3 2h0m1-1h0m0 6h0m3-9h0m2 11h0m0-8h0m0 7h0m1-9h0m0 1h0m0 5h0m2 4h0m2-9h0m0 7h0m1-4h0m2-5h0m1 9h0m1-7h0m4 8h0m0 1h0m1-2h0m0-3h0m2-3h0m0-1h0m1 1h0m1 1h0m2 3h0m1 2h0m1 2h0m0-1h0m2-10h0m0 10h0m1-2h0m1 0h0m1-5h0m0 1h0m3-3h0m1 6h0m3-7h0m1 5h0m0 4h0m0 0h0m1-3h0m2-1h0m1 1h0m8 2h0m3 2h0m0-6h0m2 7h0m0-1h0m1-2h0m1-1h0m3-3h0m1 6h0m2-1h0m1-2h0m1 2h0m2-5h0m1 5h0m2 0h0m1-5h0m0 1h0m0-3h0m1 2h0m6 5h0m3-2h0m2 2h0m1-3h0m1 4h0m1 0h0m0-8h0m2 1h0m2 2h0m2-5h0m1 5h0m7-2h0m2 5h0m0 1h0m0-9h0m1 1h0m2 4h0m3 0h0m0-3h0m0 1h0m1 1h0m4-1h0m5 5h0m3-2h0m0-6h0m7 3h0m1-3h0m2 0h0m1 3h0m3 0h0m1 5h0m2-4h0m13 5h0m3-9h0m2 11h0m21-1h0m1-1h0m10-4h0m27 2h0m0-6h0m2 8h0m6-7h0m2-2h0m8 9h0m5 1h0m0 1h0m6 0h0m9-10h0m0 4h0m122 3h0m342-5h0m-779 13h0m0-2h0m0-1h0m8 2h0m0-2h0m2 7h0m0 0h0m1-3h0m0-4h0m0 4h0m1 2h0m2 1h0m2-6h0m2 2h0m1-3h0m1 2h0m0 7h0m1-10h0m1 9h0m2-1h0m0-2h0m5 0h0m5-3h0m1-1h0m2-2h0m5 4h0m1-3h0m1 6h0m0-6h0m1 6h0m1-4h0m3 2h0m3 1h0m1 1h0m0 1h0m1-4h0m0 3h0m1 0h0m2 4h0m2-9h0m1 4h0m2 4h0m1-5h0m1 1h0m1-5h0m3 5h0m0 3h0m0-8h0m2 9h0m0-7h0m0 3h0m1 2h0m0 0h0m3 3h0m0-11h0m1 1h0m3 6h0m2-1h0m4 2h0m2 1h0m0-6h0m1 2h0m3 6h0m0 0h0m1-4h0m2 0h0m0 4h0m1-2h0m0 0h0m1-3h0m3 5h0m1-1h0m5-2h0m2-2h0m3 2h0m3 0h0m1-4h0m0 2h0m0 4h0m0-10h0m1 7h0m1-5h0m1 2h0m1-4h0m0 8h0m5-3h0m1 1h0m1 5h0m1-7h0m3-2h0m1 4h0m4 3h0m1-3h0m1-5h0m2 9h0m1-2h0m1-3h0m0 0h0m0-3h0m2 8h0m0-7h0m0 8h0m0-8h0m1 6h0m3-4h0m1-1h0m0-4h0m1 2h0m1 3h0m3-1h0m1-3h0m1 10h0m4-11h0m2 8h0m1 1h0m1-4h0m2-2h0m3-2h0m3 4h0m1-5h0m2 1h0m4-1h0m2 3h0m4 6h0m2-9h0m1 8h0m4-5h0m3 5h0m0-7h0m2 1h0m0 0h0m1 9h0m0-5h0m1-6h0m0 1h0m2 7h0m12-2h0m2-6h0m2 4h0m0-1h0m2-1h0m5 4h0m2 0h0m4 5h0m1-4h0m6 3h0m3 0h0m0-6h0m0-1h0m1 8h0m0-2h0m1-2h0m2-2h0m0 0h0m8 0h0m3 6h0m7-7h0m2 4h0m4-8h0m1 11h0m4-6h0m1-5h0m3 4h0m8 6h0m1-2h0m3 3h0m8-6h0m13 4h0m6-4h0m0-5h0m2 11h0m3-7h0m7 1h0m12 6h0m14-5h0m12-4h0m5 4h0m10-1h0m39 0h0m4 5h0m23-6h0m15 3h0m16-7h0m69 4h0m126 2h0m-674 12h0m1 0h0m3 3h0m6-9h0m1 1h0m2-1h0m2 1h0m47 2h0m1-3h0m4 5h0m0 0h0m2-4h0m0 4h0m2-5h0m1 6h0m5-5h0m3 3h0m1-1h0m1-2h0m2 1h0m0-1h0m2 2h0m1-3h0m2 1h0m0 2h0m0 3h0m4 1h0m3-5h0m0 1h0m2 6h0m3-3h0m3-4h0m1 0h0m0-2h0m0 1h0m1 6h0m0 0h0m0 4h0m2 0h0m1 0h0m1-1h0m0-7h0m1-1h0m0 7h0m2-8h0m2 5h0m0-5h0m1 10h0m2-6h0m2-1h0m0 2h0m2-2h0m0-4h0m1 9h0m2-9h0m1 9h0m0 2h0m0-6h0m1-4h0m0 8h0m1-9h0m0 7h0m0-1h0m1 1h0m0-2h0m0-5h0m1 10h0m2-4h0m2-5h0m1 5h0m3-4h0m0 5h0m2-7h0m0 5h0m2 1h0m0 4h0m3-2h0m0-2h0m2-3h0m1 1h0m0-2h0m1 1h0m2-2h0m2 9h0m1-9h0m1 6h0m0-2h0m2-5h0m4 9h0m0-2h0m5 0h0m0 0h0m0-5h0m1 7h0m2-3h0m0-5h0m1 9h0m0 1h0m5-11h0m1 2h0m3 5h0m0-4h0m4-2h0m0 5h0m5-1h0m1-2h0m1 0h0m0 5h0m3-1h0m2-1h0m1 3h0m2-8h0m0 10h0m2-1h0m0-3h0m2 3h0m1-7h0m1 2h0m1-5h0m1 3h0m2-1h0m2 5h0m2-6h0m0 2h0m1-3h0m0 3h0m3 2h0m0-3h0m1-2h0m0 8h0m5 2h0m4-8h0m0 5h0m3-5h0m1 6h0m4-7h0m2 10h0m2-8h0m0 2h0m2 5h0m6-3h0m3 2h0m5-2h0m0-7h0m1 7h0m1 4h0m0-2h0m2-4h0m3 6h0m4-5h0m4-6h0m1 5h0m2-5h0m1 9h0m1-6h0m16 5h0m0-8h0m0 9h0m30-4h0m17-2h0m9 8h0m63-7h0m121 7h0m66 0h0m-493 1h0m3 2h0m3 2h0m0-3h0m1 2h0m4-2h0m1 6h0m2-7h0m0 7h0m0-4h0m3-3h0m1 2h0m0 3h0m2-3h0m1 6h0m2-3h0m0-5h0m2 2h0m2 4h0m0-2h0m0-4h0m5 10h0m3 0h0m1-7h0m0 3h0m0 5h0m2-4h0m0-6h0m1 0h0m1 3h0m1-3h0m1 8h0m1 2h0m3-8h0m2-2h0m0 9h0m1-2h0m3-8h0m1 5h0m2-1h0m0 5h0m0-8h0m1 10h0m1-4h0m1-3h0m2-4h0m4 1h0m1 6h0m3-3h0m2-4h0m3 5h0m1 3h0m0 1h0m2-1h0m4 3h0m1-1h0m2-8h0m0 8h0m1-8h0m0 2h0m3 3h0m2 1h0m4-5h0m0 0h0m2-1h0m2 9h0m0-10h0m3 2h0m2 4h0m4-5h0m3 6h0m0-6h0m3 4h0m1-2h0m1 7h0m2-5h0m1-1h0m2-4h0m3 2h0m7 7h0m2-5h0m1-3h0m5 9h0m1-1h0m5-9h0m5 6h0m2-3h0m1 3h0m1-4h0m3 6h0m4-1h0m2-6h0m1 3h0m0 6h0m1-7h0m3 3h0m6-1h0m1 0h0m1-5h0m10 10h0m1-11h0m1 4h0m3 3h0m10-5h0m4 2h0m1 7h0m1-6h0m2-3h0m4 7h0m1-2h0m2 0h0m2-5h0m7 1h0m10 7h0m5-3h0m3-7h0m5 1h0m2 10h0m11-4h0m16-7h0m6 11h0m8-1h0m5-1h0m35-8h0m10 4h0m38 2h0m117 0h0m22 0h0m-485 5h0m0 0h0m14 2h0m1 2h0m0 0h0m0-4h0m1 0h0m0 1h0m2 4h0m0 1h0m1-5h0m3 6h0m2-1h0m0-3h0m2 0h0m1 8h0m2-7h0m4-2h0m1 0h0m0 6h0m0 3h0m5 0h0m1-2h0m4-1h0m1 2h0m1-7h0m1 8h0m0-10h0m1 7h0m1-7h0m1 6h0m4-5h0m1 3h0m0 1h0m1 1h0m0-4h0m1 8h0m2-6h0m3 1h0m1 2h0m0-1h0m2-2h0m1 0h0m1 5h0m3-10h0m2 4h0m2-1h0m6 8h0m1-7h0m3 5h0m0-1h0m2-8h0m3 9h0m2-2h0m0 4h0m1-2h0m4 0h0m1 1h0m9-1h0m1-8h0m0 10h0m2-6h0m2-4h0m2 6h0m6 4h0m1-5h0m1 2h0m0-4h0m1-4h0m1 8h0m0-3h0m5-3h0m8 8h0m0-6h0m1 6h0m1 1h0m4-1h0m2-10h0m17 6h0m0 1h0m6-5h0m6 6h0m8-7h0m20 7h0m20-2h0m9-5h0m6 0h0m27 7h0m12-6h0m26-2h0m23 11h0m35-4h0m-333 5h0m0 2h0m1-1h0m5 2h0m4-3h0m1 1h0m7 9h0m0-5h0m2 5h0m1-6h0m2 7h0m0-11h0m6 7h0m1-7h0m1 8h0m1-5h0m0 8h0m2-11h0m1 10h0m1-3h0m1-2h0m3-2h0m1 2h0m3 3h0m0 3h0m1 0h0m0-9h0m2 3h0m1-4h0m3 8h0m5-7h0m0 8h0m3-2h0m1-4h0m0-1h0m3 4h0m0-4h0m1-2h0m0 4h0m5-4h0m1 3h0m0 5h0m5 1h0m1-6h0m2 2h0m1 2h0m4-4h0m2 0h0m3 5h0m3-1h0m2 0h0m1 0h0m1 2h0m5-2h0m2-2h0m5-4h0m3 6h0m5 1h0m1 2h0m2-1h0m0-6h0m2 6h0m1-4h0m2 3h0m4 2h0m3-9h0m0 7h0m1 1h0m5-7h0m1-1h0m7-2h0m1 11h0m0-1h0m2 1h0m5-10h0m4 8h0m4 2h0m16-8h0m0 6h0m12 2h0m11-1h0m1 1h0m12-7h0m1 5h0m14-8h0m34 5h0m10-2h0m51-3h0m27 9h0m65-9h0m41 9h0m67-7h0m-518 17h0m1 2h0m3-4h0m4-3h0m2 1h0m1-2h0m0 9h0m2-8h0m3 4h0m0 3h0m0-5h0m0-1h0m6-1h0m1 5h0m0 3h0m0-7h0m1 7h0m2-2h0m1 0h0m3 2h0m1-5h0m4 5h0m2-5h0m1-5h0m2 0h0m1 2h0m3 4h0m5 4h0m0 0h0m3-4h0m1 0h0m2 0h0m2-6h0m2 8h0m1 1h0m4-9h0m1 3h0m3 6h0m1-2h0m0 1h0m7 0h0m0-9h0m2 11h0m2-10h0m1 2h0m6-1h0m2 9h0m2-3h0m10 3h0m3-7h0m5 7h0m2-10h0m4 10h0m8-3h0m7-1h0m12 1h0m1 0h0m3 1h0m1 1h0m5 0h0m4-8h0m1 3h0m7-3h0m5-1h0m3 2h0m5-1h0m5 8h0m2-10h0m1 1h0m25 1h0m12 7h0m18-9h0m59 11h0m35-8h0m51-3h0m18 3h0m33 0h0m-440 11h0m3 3h0m4-5h0m0 2h0m1 6h0m0-1h0m2 2h0m5-3h0m2-6h0m2 5h0m2 0h0m1-5h0m2 5h0m1 1h0m7 2h0m0-1h0m6 2h0m1-1h0m1 2h0m2-4h0m3 1h0m0-3h0m2 1h0m2-4h0m2 2h0m1 2h0m2 5h0m1-2h0m4 0h0m0-7h0m4-1h0m3 1h0m2 9h0m1-7h0m1 1h0m1 3h0m0 0h0m1 0h0m2-1h0m2-3h0m1 8h0m5-5h0m3 4h0m0-4h0m0 1h0m3-5h0m4 2h0m1 5h0m2-7h0m7 2h0m0-3h0m6 4h0m2 3h0m5-4h0m10 6h0m1-2h0m2-4h0m1-3h0m1 7h0m3-3h0m10 2h0m3 4h0m0-2h0m1-5h0m2-2h0m2 5h0m2-1h0m1 5h0m7-11h0m9 8h0m2-2h0m8-5h0m4-1h0m4 9h0m23-1h0m5-7h0m0 2h0m23 8h0m4-3h0m2-3h0m4 5h0m9-6h0m45 6h0m20-5h0m78 1h0m53 4h0m-426 4h0m3 7h0m0-6h0m2 2h0m1 4h0m0-9h0m0 0h0m2 11h0m1-7h0m2 5h0m1-5h0m0 7h0m1-9h0m0 3h0m4 4h0m3 2h0m1-2h0m1 1h0m1-5h0m0-1h0m1-1h0m1 1h0m4 5h0m3-6h0m0 7h0m3-3h0m0 0h0m1 2h0m3-8h0m5-1h0m0 4h0m0 7h0m0-9h0m2 8h0m2-8h0m3 3h0m2 3h0m2-1h0m1-7h0m0 11h0m5 0h0m0-10h0m1 10h0m0-11h0m3 8h0m1 3h0m3-7h0m1 4h0m6-8h0m0 0h0m6 9h0m2-8h0m2 5h0m0-6h0m0 0h0m2 3h0m15 4h0m9-1h0m4-2h0m0 0h0m0 0h0m4 5h0m6-3h0m2 1h0m14 1h0m1 2h0m8-1h0m0-3h0m15 1h0m6-3h0m0 4h0m15-2h0m2-1h0m7 2h0m3-2h0m11 1h0m39-3h0m10 3h0m31 1h0m7 2h0m225-2h0m-519 7h0m14 6h0m3-6h0m3 3h0m1 4h0m1 0h0m0 1h0m0 1h0m2-7h0m12 4h0m2-4h0m1 5h0m0-6h0m2-3h0m0 3h0m0-3h0m8 1h0m2-1h0m1 7h0m8 2h0m10 0h0m2-6h0m0-3h0m1 9h0m6-3h0m1 2h0m0 3h0m5-6h0m2 0h0m1-5h0m0 2h0m2 7h0m1 1h0m4 0h0m1-9h0m2 7h0m1-8h0m0 7h0m3-2h0m0-5h0m2 4h0m3 0h0m12 7h0m3-3h0m8 2h0m25-8h0m6 7h0m1-7h0m3-2h0m7 5h0m16-1h0m53 1h0m53-4h0m94 2h0m116-2h0m-488 14h0m5 4h0m2 1h0m2-2h0m1-5h0m2-1h0m2 4h0m0-2h0m0 1h0m1-1h0m1 1h0m0 4h0m0-3h0m1-2h0m3-1h0m2 10h0m0-8h0m1 2h0m2-2h0m1 7h0m2-6h0m2-3h0m2 3h0m4 2h0m0-1h0m0-4h0m2 3h0m1 7h0m7-11h0m2 7h0m1-6h0m2 0h0m1 4h0m2 1h0m1 0h0m1 2h0m8-6h0m1 7h0m2-8h0m1 7h0m10-6h0m9-1h0m1 9h0m2-2h0m2-3h0m3-5h0m6 4h0m2 3h0m3-4h0m4-1h0m3-2h0m2 11h0m10-8h0m1 5h0m30-3h0m2 0h0m26-5h0m3 6h0m-188 10h0m2 3h0m3-1h0m6 2h0m5 0h0m0-3h0m1 1h0m5-3h0m1 1h0m1 6h0m2-8h0m1 6h0m0 2h0m2 1h0m1-8h0m4 8h0m2-2h0m0-3h0m3-2h0m0 0h0m0 0h0m4-1h0m0 4h0m2-2h0m2-2h0m3-2h0m2 6h0m3 2h0m3-4h0m3 5h0m1-7h0m0 6h0m5-9h0m6 1h0m4 2h0m1-1h0m2 6h0m1-1h0m3-1h0m1-3h0m2-1h0m7-1h0m9 2h0m6 5h0m2-4h0m1-4h0m4 4h0m3-4h0m2 0h0m8 8h0m8-6h0m5 5h0m3 3h0m11-6h0m4-3h0m5-1h0m38 2h0m28 9h0m13-10h0m7 0h0m33 2h0m42 2h0m197-1h0m-516 12h0m1 5h0m7-5h0m0-3h0m1 8h0m3-2h0m0 1h0m3 3h0m2-11h0m0 9h0m6-2h0m0-1h0m3-6h0m4 1h0m3 9h0m1-6h0m2 7h0m0-1h0m2 0h0m0 0h0m0-2h0m3-1h0m3-5h0m1 8h0m0 1h0m1-3h0m2-7h0m1-1h0m1 2h0m3-1h0m0 8h0m2-6h0m1 1h0m1 5h0m2-9h0m3 9h0m1-9h0m1 0h0m0 10h0m4 0h0m0-9h0m3 6h0m6 3h0m1-1h0m3-1h0m2 3h0m11-7h0m9-3h0m1 6h0m0-2h0m3 3h0m6-1h0m7-1h0m29 5h0m15-3h0m28-1h0m7 4h0m45-3h0m1-2h0m4-1h0m5 2h0m34 3h0m11-2h0m294-5h0m-608 20h0m8-4h0m3 1h0m2 3h0m5-9h0m0 6h0m1 2h0m3-10h0m0 9h0m1-2h0m4 1h0m1 3h0m2-7h0m4 6h0m2-3h0m4-7h0m7 6h0m1-2h0m7 1h0m1-4h0m4 7h0m5-4h0m2 1h0m0-5h0m0 8h0m1-1h0m1 4h0m0-5h0m5 4h0m1-7h0m4 1h0m4 3h0m0 3h0m1-5h0m7-1h0m10 6h0m3-3h0m6 4h0m2-11h0m2 5h0m6-1h0m3-3h0m1 0h0m4 4h0m0-4h0m12 0h0m12 8h0m39-1h0m2 3h0m1-1h0m4 0h0m78-7h0m96 0h0m0 3h0m-387 17h0m3-3h0m9 1h0m2-1h0m2-6h0m0 1h0m8-2h0m2 3h0m3-1h0m2 4h0m1-5h0m0 9h0m8-11h0m1 8h0m1 0h0m1-1h0m0-5h0m5 7h0m1 2h0m1-9h0m0 3h0m2-1h0m5-3h0m0 1h0m1 6h0m2-7h0m3 9h0m2-10h0m0 3h0m0 8h0m1-9h0m1 6h0m1-7h0m0 9h0m1-7h0m3 7h0m1-7h0m0 0h0m2 3h0m2-1h0m1 0h0m1-2h0m5 7h0m2-9h0m4 5h0m2 3h0m2-4h0m3-2h0m17-2h0m0 5h0m7-4h0m1 3h0m7 5h0m1-3h0m2-2h0m1 0h0m0 1h0m2-4h0m12 5h0m3-6h0m20 0h0m2 10h0m5-9h0m0 9h0m18-1h0m2-8h0m0 8h0m3-6h0m34 6h0m1-9h0m2 6h0m69-6h0m96 2h0m-586 18h0m7-5h0m8-2h0m4 5h0m2-1h0m5 2h0m4-1h0m18 4h0m100-1h0m19 0h0m3 0h0m2 0h0m4-3h0m1 4h0m3-2h0m1-7h0m0 1h0m0 2h0m2 4h0m0-8h0m1 2h0m0 7h0m0-3h0m6 4h0m6 0h0m0-4h0m3-2h0m4-1h0m1 4h0m4 1h0m0 1h0m1-2h0m4 3h0m1-3h0m0 1h0m5-5h0m2 0h0m0 5h0m0-8h0m2 3h0m1-4h0m2 2h0m7 8h0m1-9h0m1 8h0m5-9h0m3 6h0m1 0h0m0 4h0m1-8h0m1 5h0m2-6h0m2 8h0m1-1h0m1-1h0m1-5h0m3 9h0m9-6h0m0-5h0m1 5h0m4-3h0m3 8h0m3-6h0m4 5h0m1-7h0m2 6h0m7 0h0m1-5h0m2 5h0m7-8h0m5 4h0m2 0h0m7 4h0m11 0h0m7 1h0m8 1h0m31-7h0m2 3h0m22 0h0m56 0h0m11-6h0m49 6h0m14 3h0m12 2h0m6 0h0m17-10h0m67 2h0m58 4h0m28-6h0m-714 13h0m2 4h0m4-2h0m15 2h0m2-5h0m1-1h0m0 8h0m4-4h0m3 3h0m2 2h0m2-6h0m0 2h0m2 1h0m3 3h0m4 1h0m1-10h0m2 1h0m4 5h0m1 5h0m1-10h0m2 4h0m7 2h0m0 0h0m4-2h0m0 1h0m1 2h0m0-2h0m2 1h0m10 1h0m2 0h0m2-3h0m1 4h0m15-3h0m6 4h0m0-1h0m9 2h0m21-5h0m1 1h0m3-4h0m1 8h0m2-9h0m3 9h0m1-6h0m0 3h0m3-5h0m2-1h0m1 0h0m3-1h0m1 1h0m1 7h0m2-3h0m0-2h0m4 4h0m2-4h0m0-2h0m2 6h0m0-7h0m1 0h0m0 0h0m3 2h0m4 3h0m1-4h0m3 6h0m1-8h0m4 0h0m4 8h0m1-2h0m4 2h0m3 1h0m8-8h0m10 10h0m1-8h0m2 6h0m1-8h0m0 0h0m2 0h0m3 1h0m1 8h0m2-9h0m7 5h0m4 0h0m2 1h0m17-4h0m1 3h0m2 5h0m1-9h0m3 3h0m9 0h0m5 2h0m3-6h0m4 0h0m5 7h0m5-4h0m1 4h0m1 1h0m4-5h0m2 2h0m10-1h0m1 4h0m5-8h0m4 7h0m25-8h0m10 3h0m5 1h0m8-1h0m3-2h0m6-1h0m9 4h0m2 5h0m2-2h0m5-1h0m14 1h0m3-5h0m37 8h0m-435 11h0m3-8h0m11 1h0m4-2h0m8 2h0m5 3h0m2-2h0m3 0h0m13-3h0m1 2h0m8 2h0m1 1h0m1 2h0m5-2h0m0-1h0m2 7h0m0-11h0m3 3h0m1 8h0m1-3h0m5-5h0m4 3h0m8-4h0m0 6h0m7-7h0m4 4h0m0 6h0m1-10h0m1 1h0m1 0h0m2 0h0m3 3h0m2-1h0m1 5h0m5-9h0m5 4h0m0-1h0m0-2h0m4 2h0m13-3h0m1 2h0m0 0h0m2 5h0m12-6h0m1 5h0m3 1h0m0-2h0m3 4h0m6-9h0m2 8h0m5-3h0m0 6h0m3-11h0m1 7h0m2-2h0m9-1h0m3 4h0m0-6h0m1-1h0m1 3h0m3-4h0m0 11h0m5-6h0m3-5h0m6 11h0m1-10h0m4 4h0m7-5h0m17 3h0m2 6h0m1-3h0m3 2h0m1 3h0m0-11h0m0 1h0m1 5h0m1 4h0m4-1h0m10-6h0m13 1h0m12 5h0m3-7h0m9 7h0m2-7h0m6-1h0m41 2h0m7 3h0m18-3h0m-357 12h0m15-3h0m48 1h0m4 2h0m10-3h0m7 7h0m6-4h0m6-2h0m20 3h0m19 1h0m2-4h0m2 5h0m3 5h0m3-8h0m6 8h0m8-5h0m2 3h0m0-3h0m0 0h0m8 0h0m1 0h0m5 0h0m17 0h0m13-6h0m13 10h0m3-7h0m3 1h0m3 7h0m11-11h0m4 2h0m7-1h0m1 7h0m9 0h0m8 1h0m6 1h0m18-8h0m4 2h0m29 2h0m26-1h0m26 0h0m23 6h0m89-1h0m-412 3h0m49 8h0m5-2h0m19 2h0m1-8h0m5 4h0m0 1h0m7-2h0m27-4h0m5 8h0m16-8h0m51 9h0m5 2h0m21 0h0m191 0h0m-416 1h0m126 2h0m32 8h0m51-7h0m148 1h0m-153 13h0"/><path d="M151 21h0m19 4h0m41 8h0m-75 3h0m53 10h0m12-7h0m-42 20h0m22-7h0m5 6h0m4-9h0m26 10h0m106-9h0m106 1h0m-220 17h0m32-8h0m26 7h0m81 3h0m-164 12h0m5-10h0m42 2h0m11 5h0m68-5h0m-173 10h0m25 8h0m11 3h0m72-9h0m28 2h0m128-4h0m282 3h0m-442 11h0m51 5h0m-73 10h0m48-4h0m21 10h0m-132 24h0m274-3h0m-294 5h0m44 6h0m1 3h0m59-6h0m16 5h0m216-8h0m-318 19h0m4-4h0m17 6h0m9-1h0m21-4h0m2 5h0m7-8h0m11 9h0m-49 7h0m65 5h0m9-7h0m83 7h0m-171 8h0m8 3h0m32-5h0m2-1h0m228 4h0m359-5h0m-627 9h0m44 8h0m62-6h0m323 3h0m-462 10h0m42 0h0m28 7h0m5-8h0m135 4h0m454-5h0m-620 22h0m8-8h0m10-1h0m63 9h0m18-2h0m9-8h0m8 6h0m19 2h0m-150 6h0m76 5h0m19 0h0m9 1h0m48-6h0m167 5h0m-289 9h0m11-1h0m49 5h0m3 2h0m68-1h0m72-5h0m62 4h0m19 1h0m-322 6h0m6 7h0m5-1h0m24-10h0m9 7h0m23-2h0m17 1h0m61 0h0m18-1h0m-170 10h0m11 0h0m28-1h0m3 8h0m43-4h0m35-6h0m39 10h0m54 0h0m7 0h0m21-7h0m78 2h0m55 6h0m-360 8h0m1 0h0m18-4h0m7 2h0m10 3h0m4-6h0m6 0h0m32 7h0m6 0h0m4-1h0m6-4h0m30 6h0m19-2h0m11 1h0m68-7h0m114-2h0m80 1h0m-429 14h0m11 4h0m4-6h0m12 3h0m0-4h0m8 8h0m15-2h0m17-2h0m4 7h0m30-7h0m25 1h0m16 1h0m4-6h0m23 9h0m85-8h0m99 4h0m200 4h0m-557 10h0m2-4h0m10 7h0m2-10h0m14 11h0m1-1h0m5-10h0m3 7h0m4 2h0m15-9h0m13 7h0m81-4h0m18 2h0m49 6h0m8-10h0m13 10h0m42-1h0m4 1h0m2-1h0m86-2h0m-355 11h0m11 2h0m2 2h0m4-8h0m0-2h0m18 8h0m12 1h0m3-2h0m17 3h0m2-5h0m1 4h0m1-8h0m3 9h0m1-9h0m3-1h0m12 9h0m10-7h0m26-2h0m16 8h0m79-9h0m4 11h0m11-11h0m172 8h0m23 1h0m51-2h0m39 2h0m-517 11h0m3-6h0m0 3h0m7-5h0m1 9h0m7-9h0m2 2h0m11 7h0m2 2h0m4-11h0m2 3h0m0 0h0m31 4h0m4-1h0m5-2h0m10-2h0m13 1h0m24-2h0m12 0h0m28 2h0m9 6h0m7-9h0m23 9h0m29-5h0m1 1h0m10-3h0m7 9h0m10 0h0m46-1h0m217-3h0m126 0h0m-687 10h0m15 5h0m9-4h0m1 3h0m2-2h0m5 3h0m1-4h0m1 1h0m2-1h0m3 5h0m6-8h0m3-1h0m7 1h0m4 2h0m7-5h0m2 9h0m8 0h0m1-8h0m0 3h0m4 2h0m5 1h0m7 3h0m4-6h0m3 4h0m6-8h0m15 5h0m4 4h0m18-7h0m8 2h0m16 4h0m4-1h0m0-5h0m3 7h0m23-4h0m2 4h0m8 2h0m4-7h0m13 4h0m21 1h0m41-7h0m11 3h0m25-4h0m5 0h0m11 8h0m14-6h0m12-3h0m77 4h0m211-3h0m-633 22h0m6 0h0m0-4h0m4-4h0m1-3h0m12 11h0m10-5h0m6 4h0m0-7h0m4 8h0m6-1h0m4-3h0m1 3h0m4 1h0m0-1h0m6-8h0m2 7h0m1-5h0m5-3h0m2 1h0m4 9h0m5-4h0m2-4h0m2-3h0m1 1h0m4 6h0m1 4h0m5 0h0m1-3h0m1-1h0m11 1h0m1 1h0m0-3h0m3 1h0m3-6h0m3 10h0m4-5h0m5 4h0m4-1h0m1 1h0m0-2h0m9 3h0m2-1h0m0-5h0m1-4h0m2 7h0m19-1h0m3-5h0m2-1h0m16 10h0m0-6h0m8 4h0m0 0h0m1-8h0m4 4h0m28 2h0m14 2h0m8 2h0m12-10h0m2 1h0m8 7h0m0 1h0m20-9h0m8 3h0m25-2h0m25 2h0m26 6h0m33-8h0m49 4h0m8 5h0m1-11h0m8 8h0m-501 10h0m12 2h0m1-7h0m1 8h0m2-7h0m0 0h0m3 1h0m1 0h0m3 1h0m0 7h0m2-5h0m2-1h0m0 5h0m5-6h0m2 0h0m3 4h0m1-3h0m1-1h0m5 5h0m1-1h0m0-5h0m0 4h0m0 0h0m3 0h0m0 0h0m6-6h0m1 1h0m1 2h0m2-1h0m1 7h0m1-8h0m0 5h0m1-1h0m0-5h0m3 8h0m2 2h0m1-9h0m2 8h0m1 0h0m3-5h0m0 3h0m2 0h0m0-3h0m1-4h0m2 0h0m0 8h0m0-1h0m3 2h0m4-8h0m1 4h0m2 4h0m0 0h0m1-5h0m2 0h0m1 3h0m1-3h0m0 2h0m0-7h0m3 6h0m3 2h0m0 3h0m1-8h0m3 8h0m4-8h0m1 5h0m4-1h0m2 4h0m1-9h0m0 4h0m0 0h0m2 1h0m0-5h0m3 4h0m8-1h0m1-1h0m1 4h0m3-6h0m0 5h0m0-4h0m3 2h0m1 2h0m1 1h0m6-3h0m0-2h0m3 3h0m7-4h0m1 0h0m1 2h0m13-4h0m4 10h0m3-3h0m5 2h0m0-2h0m1 2h0m0-4h0m9-1h0m9 2h0m2-2h0m1 4h0m4 1h0m5-2h0m2 3h0m4-8h0m7 0h0m7 6h0m5 2h0m2-9h0m10 7h0m2-6h0m15 4h0m15-2h0m7-4h0m1 0h0m32 11h0m16-9h0m0 9h0m10-10h0m7 10h0m84-9h0m26 6h0m11-6h0m4 7h0m188 1h0m11-6h0m-680 12h0m4-2h0m1 9h0m4-6h0m4 5h0m2-9h0m3 0h0m4 2h0m0 5h0m2 2h0m7 0h0m1-4h0m0-4h0m2 6h0m0 2h0m1-3h0m1 3h0m1-8h0m3 0h0m1 0h0m2 7h0m0-6h0m2 1h0m0 3h0m0-1h0m2-6h0m0 10h0m2-9h0m0 7h0m2 3h0m1 0h0m0 0h0m0-2h0m3-4h0m0 5h0m0-9h0m1 4h0m1 3h0m0-1h0m1 4h0m2-2h0m0-5h0m1 3h0m1 1h0m3-5h0m1 2h0m0 4h0m2-4h0m1 1h0m0-2h0m2-2h0m1 5h0m1 2h0m0-1h0m1-5h0m1 3h0m0-3h0m2 1h0m0 4h0m0-1h0m0-7h0m1 3h0m3 8h0m0-2h0m1-7h0m1 8h0m1-4h0m0 1h0m0-7h0m2 2h0m1 9h0m0-5h0m1-3h0m3 7h0m4-6h0m0 0h0m4-1h0m2 7h0m1 1h0m1-5h0m2 0h0m6-6h0m0 1h0m1 10h0m1-6h0m0 4h0m1-3h0m3 3h0m1 0h0m3 0h0m0-4h0m1 6h0m1-5h0m1 5h0m3-8h0m0-1h0m5 5h0m2 2h0m4-1h0m2-2h0m1-2h0m0-3h0m0 8h0m2-8h0m1-1h0m5 8h0m0-3h0m0 6h0m1-1h0m1 0h0m2 0h0m0-9h0m2-1h0m2 3h0m4 7h0m1-1h0m1 0h0m0-1h0m1-8h0m5 11h0m2-10h0m0 8h0m8-3h0m3 0h0m4 5h0m0-4h0m1-2h0m6 4h0m4-4h0m5 4h0m0-1h0m1-5h0m1 4h0m4 4h0m8-3h0m1-5h0m4 5h0m3-6h0m2 8h0m0-9h0m3 8h0m2 1h0m1-5h0m2 2h0m5 3h0m5-10h0m3 11h0m3-3h0m0 3h0m17-3h0m1 1h0m11 1h0m8-2h0m4-4h0m1 2h0m4 1h0m12-4h0m1 7h0m18-5h0m14-1h0m14 5h0m7-2h0m8-1h0m5-3h0m5 4h0m68 1h0m57 1h0m25-7h0m12-2h0m277 7h0m-818 8h0m1 0h0m8 0h0m1 0h0m4 7h0m1-3h0m0 2h0m5-3h0m7 3h0m1-2h0m1-1h0m1-4h0m2 0h0m2 1h0m0-2h0m2 3h0m2 2h0m1-6h0m1 1h0m2 1h0m0-2h0m1 5h0m1-3h0m0-1h0m0 8h0m1-3h0m0 2h0m1 2h0m1-8h0m0 5h0m1-4h0m2 0h0m0 1h0m2 6h0m0-6h0m0-1h0m3 2h0m2-5h0m1 11h0m1-4h0m1 0h0m1 2h0m0-1h0m0-7h0m0 8h0m3-9h0m3 3h0m0-2h0m1 2h0m3-3h0m1 10h0m1-4h0m1-4h0m2 6h0m0 2h0m1-10h0m1 7h0m1 4h0m1-11h0m4 7h0m0-3h0m4 7h0m0-5h0m0 5h0m1-6h0m4-1h0m1 3h0m0 0h0m0-3h0m0 1h0m2 2h0m0-4h0m1 6h0m2-2h0m2-1h0m1-1h0m0-3h0m2 0h0m4 9h0m0-4h0m2 2h0m1 1h0m5-4h0m1 5h0m2-2h0m1-2h0m2 2h0m1 2h0m3-5h0m0 0h0m4-5h0m1 2h0m0-1h0m1 5h0m2-4h0m2 2h0m2 0h0m1 5h0m3-9h0m2 8h0m1-3h0m1-6h0m0 7h0m0 1h0m4 0h0m0-8h0m1 5h0m8-2h0m1-3h0m4 5h0m7 2h0m1 2h0m0-8h0m1 9h0m1-1h0m1 2h0m1-11h0m1 9h0m0-5h0m1 6h0m0-1h0m0-4h0m1 0h0m1 4h0m3-3h0m0 5h0m1-3h0m1-3h0m0 3h0m2 2h0m0-2h0m4-6h0m8-2h0m1 10h0m1-2h0m3 0h0m0 2h0m1-4h0m0-4h0m1 9h0m2-3h0m0 0h0m2 3h0m3 0h0m4-11h0m4 6h0m3-1h0m3 1h0m4 1h0m1-5h0m2 6h0m1-7h0m1-1h0m0 11h0m1-1h0m1-2h0m1-2h0m0 0h0m9 1h0m0 2h0m6 0h0m2-4h0m1 6h0m10-3h0m6-5h0m1 4h0m6-4h0m4 2h0m10 0h0m7 0h0m0-5h0m1 2h0m3-1h0m0 6h0m1-3h0m3 5h0m28-3h0m7 0h0m4-3h0m2 2h0m14-4h0m1 3h0m20 6h0m10-7h0m11 7h0m66-10h0m12 1h0m211 9h0m61-6h0m78-4h0m-836 16h0m8-3h0m3 1h0m1-2h0m0 2h0m5 1h0m2-3h0m1 1h0m1 0h0m37-1h0m4 4h0m2-1h0m2-1h0m1-1h0m1-1h0m1 0h0m4 0h0m1 2h0m1 4h0m0-2h0m1-2h0m0 3h0m8 1h0m1 2h0m2-1h0m1-2h0m1-3h0m1 0h0m1 2h0m1 1h0m0-3h0m0 4h0m0-3h0m1 2h0m2 0h0m3-1h0m1 3h0m1-4h0m3 4h0m1-6h0m0 4h0m2 6h0m1-10h0m2 3h0m1 7h0m0-2h0m2-7h0m1-2h0m1 5h0m0 2h0m2-2h0m0 0h0m0 4h0m3-3h0m1-6h0m0 6h0m1-2h0m1 6h0m2 0h0m3-1h0m1-9h0m2 2h0m1-2h0m1 2h0m1-2h0m1 0h0m1 8h0m0-7h0m1 8h0m1-5h0m1 3h0m0 4h0m4-6h0m2-4h0m1 3h0m0-1h0m0 8h0m1-11h0m1 0h0m1 2h0m1 6h0m0 0h0m4 2h0m2-10h0m6 8h0m0-4h0m1 0h0m1-2h0m0 4h0m7-6h0m0 0h0m0 1h0m2-1h0m5 1h0m6 1h0m3 8h0m0 1h0m4-10h0m1-1h0m1 11h0m1-7h0m0 7h0m2-5h0m6 3h0m1-1h0m1-2h0m0 4h0m1 0h0m0 1h0m1-5h0m4-2h0m0-3h0m4 9h0m0 1h0m5-2h0m3 2h0m1-5h0m2-6h0m1 5h0m0 0h0m1 6h0m2-5h0m1 1h0m3-7h0m0 2h0m5-1h0m0 0h0m3 1h0m2 8h0m3-10h0m4 8h0m2-2h0m6-1h0m3 1h0m2 1h0m1-6h0m2 3h0m3 3h0m11-6h0m1-1h0m14 1h0m6 10h0m2-6h0m0 4h0m4 0h0m7-5h0m4 2h0m3-2h0m9-1h0m2 7h0m10-9h0m0 2h0m5-3h0m27 4h0m27-2h0m18-1h0m93-1h0m1 1h0m225 8h0m-737 11h0m4-8h0m108 5h0m2-4h0m0 2h0m0 2h0m2-3h0m0 0h0m3 0h0m4 1h0m2 4h0m2-7h0m0 0h0m2 4h0m4-4h0m1 11h0m1 0h0m2-8h0m1 5h0m5 0h0m1 3h0m0-11h0m3 7h0m1 4h0m1-6h0m4 2h0m1 0h0m1-5h0m0 5h0m3-6h0m0 6h0m0 4h0m2-8h0m4 1h0m0 7h0m3-4h0m0-2h0m1-2h0m4 2h0m3 4h0m1-6h0m0 2h0m0 0h0m1 6h0m1 0h0m1-7h0m1-2h0m3 8h0m0-10h0m1 5h0m4 5h0m3-1h0m4-6h0m2 6h0m2-1h0m4-3h0m4-1h0m0-3h0m1 4h0m0 4h0m3-4h0m0 6h0m4-6h0m2 0h0m1 4h0m1-1h0m1 3h0m1-11h0m1 9h0m10-7h0m2 8h0m0-5h0m4 5h0m2-4h0m0-2h0m1-1h0m3 3h0m1 1h0m3-5h0m8 3h0m0-5h0m2 5h0m1-1h0m3 4h0m10 1h0m0-8h0m2 10h0m6-6h0m5-3h0m5 4h0m4 4h0m1-2h0m2 0h0m3-1h0m1 1h0m9 3h0m2-8h0m4-2h0m3-1h0m2 9h0m5-3h0m0 2h0m7-5h0m10 6h0m2-8h0m8 9h0m5-10h0m3 5h0m4-2h0m1 8h0m5-7h0m5-3h0m3-1h0m13 4h0m22 7h0m7-9h0m8 6h0m42-8h0m21 11h0m-354 1h0m14 3h0m0-3h0m1 0h0m9 1h0m0 1h0m0 4h0m2 2h0m0-4h0m3-4h0m1 9h0m0-7h0m5 9h0m1-3h0m0 0h0m1-1h0m1 2h0m3-2h0m0-2h0m1-5h0m1 0h0m4 2h0m5 9h0m2 0h0m0-6h0m1 0h0m0 3h0m0-2h0m2-1h0m2 5h0m2 0h0m1-7h0m0-1h0m1-2h0m3 6h0m4-3h0m0 0h0m0 1h0m1-2h0m1 7h0m2-9h0m0 11h0m0-8h0m3 2h0m1-1h0m1 7h0m4-4h0m5 2h0m3-1h0m2-5h0m0 8h0m1-5h0m3 1h0m4 2h0m7-6h0m4-3h0m0 4h0m4-1h0m1-2h0m0 9h0m1-6h0m1 3h0m1 3h0m2-9h0m2 7h0m0 3h0m2-2h0m0-2h0m2-1h0m12 2h0m2-1h0m4 0h0m2 3h0m1-1h0m8-6h0m2 3h0m3 0h0m0 3h0m7-5h0m0 4h0m15-2h0m0 0h0m11-5h0m15 1h0m5 6h0m16-1h0m32-2h0m21-5h0m21 9h0m13-5h0m2 5h0m49-7h0m20 0h0m109-1h0m13 4h0m-482 8h0m4 4h0m6 2h0m1 4h0m4-4h0m0 0h0m0 4h0m4-3h0m2 0h0m2-1h0m2 0h0m3 0h0m2-1h0m2-5h0m2 10h0m3-7h0m1 5h0m2-8h0m0 8h0m1-3h0m4-5h0m0 10h0m1-11h0m0 10h0m2 0h0m1-5h0m0-4h0m5-1h0m0 0h0m2 1h0m2 9h0m2-6h0m1 4h0m1-1h0m3 2h0m1-3h0m0 2h0m4-5h0m2 0h0m2-3h0m0 2h0m1-2h0m3 5h0m3 0h0m0 2h0m1 0h0m1 1h0m8-4h0m1-3h0m7 9h0m0-10h0m8 10h0m1-10h0m9 4h0m2 7h0m13-3h0m1 0h0m7-6h0m16 6h0m3-4h0m4 2h0m13 0h0m2-5h0m8-1h0m7 2h0m2 6h0m33-6h0m6 7h0m11-5h0m6-3h0m20 10h0m85-1h0m109-3h0m-468 15h0m9-1h0m1-9h0m0 11h0m1-6h0m0 2h0m0-3h0m1 1h0m1 1h0m0-1h0m2-2h0m0 6h0m1-9h0m4 2h0m0 1h0m2-2h0m1 10h0m3-6h0m0-5h0m1 3h0m4 7h0m1-7h0m2 3h0m1-6h0m1 10h0m3 1h0m3-2h0m3 1h0m1-3h0m1-2h0m3-4h0m2 4h0m1-1h0m2 7h0m1-6h0m1-5h0m1 5h0m0-5h0m0 2h0m2 3h0m4 4h0m1-2h0m0-2h0m4-2h0m1-3h0m4 0h0m1 9h0m2 2h0m1-9h0m4 2h0m4 2h0m8 1h0m1-7h0m2 11h0m3 0h0m2 0h0m2-11h0m1 0h0m1 9h0m3-5h0m6 0h0m2 3h0m1 3h0m0-4h0m1-2h0m1 3h0m2-2h0m7-2h0m5 2h0m6-5h0m11 2h0m1 5h0m1-6h0m1 3h0m1-3h0m12 6h0m1 1h0m7 1h0m7-9h0m10 7h0m5-3h0m5 0h0m2 7h0m8-4h0m17-7h0m0 3h0m28-1h0m-421 15h0m162-5h0m5 7h0m1-7h0m5 0h0m5 3h0m3 2h0m1 3h0m2-5h0m2 5h0m1-7h0m0 3h0m1 0h0m1 1h0m0-5h0m0 2h0m3-2h0m1 7h0m1-5h0m3 4h0m3-6h0m1 10h0m1-1h0m0-7h0m5 1h0m2-2h0m3 1h0m3 6h0m2-6h0m0 4h0m2-1h0m3-4h0m0-1h0m3 9h0m3 0h0m2-3h0m1 3h0m1-6h0m0 0h0m6 0h0m0 0h0m6 1h0m2-3h0m10 4h0m2-4h0m1 2h0m6 3h0m4-6h0m5 0h0m2 1h0m4 2h0m5-3h0m0 10h0m1-10h0m3 8h0m9-5h0m4 2h0m1 3h0m1-7h0m8 7h0m1-3h0m1 3h0m2 0h0m2 0h0m11-5h0m5 8h0m28-7h0m1 5h0m0-3h0m6-5h0m4 10h0m11-11h0m2 10h0m12-3h0m18-7h0m19 10h0m-243 2h0m2 7h0m0-7h0m3 8h0m1-6h0m3 7h0m3-7h0m0 7h0m0-8h0m1 5h0m1 1h0m3-6h0m1 2h0m0-2h0m3 1h0m2 9h0m4-2h0m1-5h0m0 5h0m0 2h0m0 0h0m4-10h0m0 6h0m1 2h0m2 1h0m2-4h0m1-5h0m16-1h0m0 3h0m0 0h0m2-2h0m3-1h0m8 11h0m0 0h0m2-9h0m1 4h0m2 2h0m2-2h0m0 1h0m0-3h0m3 5h0m1 2h0m1-2h0m4-7h0m7-2h0m16 9h0m2-4h0m0 5h0m10-5h0m4 3h0m2-2h0m3 5h0m1-2h0m5-1h0m6 0h0m1 2h0m2-7h0m8-2h0m35 6h0m12 3h0m5-8h0m20 2h0m6-3h0m3 9h0m2-5h0m6 0h0m8 5h0m32-3h0m99-3h0m210 7h0m-780 6h0m198-4h0m6 3h0m2 5h0m1-5h0m0 7h0m0-11h0m2 0h0m1 5h0m0 1h0m3-3h0m8 6h0m1-2h0m4-1h0m1-1h0m4 6h0m1-6h0m1 5h0m3-7h0m0 2h0m4 3h0m2-7h0m3 0h0m4 7h0m7 1h0m3-3h0m4 4h0m2 1h0m0-10h0m5 4h0m6-4h0m1 8h0m2 0h0m3 0h0m3 1h0m2-3h0m0 4h0m4-7h0m5-1h0m2 2h0m3-3h0m3 1h0m2-2h0m1 3h0m8-4h0m3 1h0m2 8h0m3-9h0m1 3h0m8 2h0m2-4h0m0 6h0m26-1h0m15-5h0m25 0h0m39 8h0m7-7h0m3 2h0m25-2h0m14-1h0m113-1h0m-391 13h0m0 4h0m4 4h0m1-2h0m1-6h0m2 0h0m1 10h0m1-7h0m1-1h0m1 1h0m0 3h0m1 3h0m4-2h0m4-2h0m0 3h0m4-8h0m4 6h0m4-4h0m4 0h0m2-1h0m3 6h0m0-2h0m0-6h0m1 1h0m2-1h0m1 6h0m7-5h0m3-1h0m1 0h0m1 3h0m12 6h0m2 1h0m5 0h0m2-10h0m2 6h0m6 3h0m0-3h0m1 5h0m3-7h0m0-4h0m5 6h0m3 0h0m2 2h0m2 3h0m2-10h0m0 9h0m4-10h0m4 1h0m4 5h0m5 2h0m3-3h0m24 0h0m11-4h0m1 1h0m25 8h0m3 1h0m16-1h0m5-9h0m3 10h0m4-7h0m6 1h0m6-5h0m9 8h0m15-7h0m7-1h0m1 6h0m57-4h0m81 2h0m84 1h0m-485 10h0m5 5h0m4 0h0m2 1h0m1-6h0m0-1h0m2 2h0m1 1h0m4-5h0m1 6h0m0 2h0m7 1h0m1-7h0m3 1h0m3 1h0m4 1h0m1-5h0m4 5h0m0 6h0m0-11h0m2 10h0m1-1h0m5-8h0m1 10h0m1-3h0m1-3h0m1 2h0m1-3h0m6 7h0m6-5h0m2-5h0m1 2h0m9 6h0m0 1h0m1 0h0m2 0h0m6-7h0m1-3h0m2 11h0m0-4h0m1 1h0m1 3h0m2 0h0m9-9h0m4-2h0m4 3h0m0-3h0m6 6h0m7 3h0m4-2h0m8-3h0m17 3h0m27-6h0m17 0h0m5 3h0m1-2h0m7 1h0m5 6h0m34-1h0m14-5h0m31 7h0m-290 5h0m2 3h0m1 3h0m3 1h0m3-4h0m0-3h0m4 5h0m2-8h0m3 4h0m4 3h0m2 4h0m0-6h0m4 1h0m5-3h0m2-2h0m1 1h0m7 2h0m1-1h0m3-1h0m9-2h0m4 7h0m1-1h0m3-6h0m3 1h0m1 2h0m6-3h0m4 6h0m16-5h0m2 3h0m1 6h0m14-2h0m2 3h0m8-5h0m4 2h0m3 3h0m2-4h0m6 4h0m18-5h0m19-6h0m13 9h0m69-4h0m43-5h0m99 0h0m-612 14h0m207 4h0m1 1h0m3-1h0m3 5h0m1-5h0m1 4h0m2-1h0m1 0h0m0 1h0m3-3h0m2-1h0m1 4h0m4-2h0m2-8h0m1 4h0m1-2h0m1 5h0m1 2h0m1-2h0m1 3h0m1-8h0m2 1h0m1-3h0m0 5h0m2-4h0m6 6h0m1-3h0m0 4h0m6 0h0m3-3h0m4 6h0m0-10h0m1 1h0m2 8h0m0-3h0m2-1h0m1 3h0m2-2h0m4-1h0m1-6h0m2 9h0m2-9h0m1 3h0m3 1h0m2 1h0m1-1h0m5-2h0m2 1h0m4 4h0m0-7h0m2 9h0m1-5h0m5 7h0m1-11h0m3 6h0m2-1h0m2 0h0m5 5h0m5-2h0m17 1h0m0-2h0m1-4h0m2-1h0m6 3h0m10-3h0m6 7h0m4-8h0m19 10h0m19-9h0m0 7h0m7 0h0m1-5h0m2 7h0m13-7h0m1 1h0m7 6h0m45-4h0m135 1h0m-425 9h0m6 5h0m8-9h0m1 6h0m2-2h0m2 4h0m3-9h0m2 1h0m1 8h0m1 1h0m3-2h0m2 1h0m1-2h0m1-7h0m2 8h0m0-5h0m0 6h0m4-4h0m1-2h0m1 6h0m0-1h0m4-3h0m4 6h0m0-6h0m6-5h0m1 11h0m5-9h0m1 4h0m5 5h0m0-7h0m1 0h0m5 5h0m1-3h0m1-6h0m4 11h0m4-9h0m1-2h0m2 0h0m2 3h0m1 7h0m0-6h0m1 5h0m0-1h0m7-3h0m1-2h0m0 2h0m4 5h0m23-7h0m11-3h0m7 1h0m9 4h0m6-5h0m11 5h0m30 3h0m6-2h0m15-2h0m1-4h0m121 8h0m87-1h0m4-4h0m69 6h0m-694 12h0m10-4h0m7 3h0m1-7h0m14 5h0m117 5h0m16-2h0m3-1h0m5 2h0m2-4h0m1 5h0m3-5h0m1 5h0m1-6h0m0-3h0m0 2h0m0 3h0m3 4h0m2-6h0m2-5h0m4 1h0m0 9h0m2-4h0m3-5h0m3 2h0m0 1h0m2 2h0m4-3h0m2 2h0m4-3h0m0 1h0m2 1h0m0-1h0m1 6h0m3-2h0m0-4h0m1 0h0m2 0h0m3 2h0m0 5h0m7-10h0m5 3h0m2-3h0m1 5h0m9-3h0m6 1h0m3 0h0m0-3h0m1 2h0m6 8h0m0-9h0m3 5h0m1-5h0m0 10h0m2-7h0m4 1h0m0-5h0m6 8h0m3-2h0m1 5h0m5-5h0m4-2h0m4 6h0m4-10h0m7 1h0m4 2h0m1-1h0m0 3h0m4 2h0m2-7h0m3 0h0m8 0h0m2 1h0m19 2h0m35 5h0m3 2h0m2-4h0m57-1h0m10 1h0m4 4h0m9-4h0m26 3h0m24-1h0m313-3h0m-832 10h0m17-1h0m5 0h0m7 5h0m3-2h0m1-2h0m0-3h0m0 2h0m1 3h0m3-5h0m6 1h0m2 5h0m1-1h0m0-4h0m4 5h0m2 2h0m2-3h0m3 0h0m0 0h0m7 1h0m0-2h0m2 4h0m0-1h0m5-1h0m3-1h0m0 2h0m4-1h0m1 2h0m6-2h0m27 4h0m12 1h0m0-1h0m6-2h0m3 3h0m4-6h0m2 6h0m4-6h0m0 4h0m2-9h0m7 2h0m1 6h0m0-6h0m0-1h0m2 5h0m0 0h0m1 0h0m4 4h0m1-6h0m2-3h0m2 4h0m2-1h0m1-3h0m1 9h0m2-4h0m1 4h0m0-4h0m3 2h0m2-2h0m4 5h0m1-10h0m0 4h0m4-5h0m5 2h0m4 1h0m0 3h0m1 1h0m3 4h0m2-11h0m4 5h0m0 2h0m3 2h0m7-2h0m1-1h0m1-2h0m1 7h0m5-6h0m4 0h0m3 3h0m0-1h0m1-5h0m7 3h0m3 4h0m1-8h0m11 5h0m4-6h0m1 11h0m3-11h0m4 0h0m0 6h0m15-2h0m1 1h0m6 4h0m1-3h0m2 5h0m1-6h0m7 5h0m23-4h0m6-1h0m0-4h0m15 1h0m36 3h0m2-5h0m32 5h0m7 2h0m38-2h0m31 4h0m-469 6h0m9 3h0m19 5h0m2-8h0m15-3h0m1 5h0m3 6h0m6-2h0m10-2h0m1-1h0m0-2h0m4-2h0m4-1h0m1 10h0m1-8h0m3 3h0m7 4h0m3-5h0m0 4h0m4-8h0m5 0h0m1 10h0m1-7h0m9-4h0m4 4h0m1 7h0m4 0h0m1-6h0m0 4h0m3-2h0m0 0h0m2-5h0m8 4h0m4 2h0m2 2h0m4-6h0m4 0h0m0-3h0m2 7h0m2-5h0m2 8h0m1-9h0m4-2h0m11 6h0m6 3h0m3-8h0m5 10h0m4-5h0m3-1h0m0-4h0m3 8h0m3-3h0m5-4h0m2 6h0m7 0h0m1-7h0m4 0h0m6 0h0m4 0h0m6 4h0m5 3h0m10-4h0m6 2h0m7 4h0m6-3h0m2 0h0m19-3h0m2 0h0m6 4h0m8-5h0m1-2h0m7 9h0m13-1h0m3-6h0m1 3h0m7-4h0m12 4h0m16 5h0m9-3h0m11-4h0m-344 8h0m2 3h0m21 0h0m9 2h0m36-2h0m3 5h0m8-7h0m1 10h0m3-10h0m7-1h0m1 5h0m3-4h0m3-1h0m2 6h0m9-6h0m3 5h0m16-2h0m2-1h0m2-1h0m11 6h0m1-3h0m13 1h0m5 6h0m7-2h0m13-4h0m8 6h0m0-6h0m6-5h0m12 3h0m4 6h0m1-1h0m6-7h0m5 3h0m2 3h0m3-4h0m11 3h0m3-4h0m0 8h0m4-4h0m53-4h0m10 5h0m11-7h0m14 0h0m252 8h0m106-5h0m-632 10h0m8-1h0m9 11h0m32-9h0m17-2h0m28 3h0m27 3h0m63-6h0m4 5h0m-76 10h0m0-3h0m64 3h0m7-2h0m-65 17h0m52-2h0m13-3h0m34 0h0m-76 11h0"/></g><path d="M116.0 287.1L100.0 284.5L90.0 283.8L74.0 279.3L64.0 274.6L61.0 272.4L59.1 270.0L57.7 266.0L57.4 262.0L57.8 251.0L57.1 232.0L57.9 216.0L59.5 206.0L61.5 201.0L63.0 199.4L71.0 196.5L75.0 193.8L77.0 193.5L91.0 198.6L105.0 200.3L110.0 202.0L116.0 205.4L126.0 208.2L133.0 209.3L136.0 211.2L139.0 214.9L144.0 217.2L146.4 220.0L146.8 222.0L146.0 224.0L140.8 227.0L140.5 228.0L141.5 230.0L144.0 231.3L153.0 232.2L154.2 233.0L154.4 234.0L154.2 238.0L155.3 239.0L161.2 241.0L163.8 250.0L162.4 255.0L165.7 259.0L166.5 261.0L166.3 263.0L165.0 265.4L161.0 267.0L158.0 272.2L153.0 273.7L149.0 277.9L143.3 280.0L139.0 282.6L132.0 282.1L123.3 286.0L116.0 287.1Z" fill="#59a95e" filter="url(#bl)"/><g transform="scale(0.5)" fill="none" stroke-linecap="round" stroke="#5aa85a" stroke-opacity="0.38" stroke-width="5.4"><path d="M166 14h0m5-1h0m29 4h0m258 8h0m-297 15h0m49 0h0m63 5h0m-85 30h0m98 4h0m-144 8h0m34-3h0m83 6h0m-99 10h0m21 2h0m30 6h0m27 4h0m84 5h0m-142 4h0m39 6h0m508-6h0m-544 17h0m46-4h0m-94 16h0m27 2h0m39-4h0m-26 12h0m29-3h0m24 9h0m144-7h0m-200 18h0m-24 4h0m25-1h0m3 9h0m30 2h0m79-3h0m-132 17h0m45 5h0m-3 28h0m11-7h0m34 4h0m33 0h0m-100 11h0m24-4h0m42 8h0m11-1h0m659 2h0m-762 8h0m40 2h0m12 2h0m13-3h0m167-7h0m-248 21h0m75-3h0m57-1h0m-99 13h0m194-2h0m-179 7h0m24 5h0m4-4h0m8 7h0m2-2h0m56 0h0m96 1h0m11-1h0m107-6h0m460 0h0m-827 17h0m32-3h0m3-2h0m2 1h0m23 6h0m0-7h0m9 10h0m49-6h0m2-1h0m113 1h0m331 2h0m91-3h0m-630 11h0m15 8h0m8-1h0m27 1h0m20-2h0m31 2h0m20-1h0m25 1h0m414-4h0m92 2h0m-654 14h0m92-8h0m30 8h0m29-8h0m-151 18h0m4-4h0m6 2h0m5 5h0m2-8h0m9 7h0m3-9h0m4 3h0m6 6h0m5-5h0m13-4h0m43 3h0m4 6h0m19-7h0m11 5h0m0-1h0m342-4h0m181 4h0m-679 6h0m13 3h0m19-2h0m1 4h0m15 2h0m1-1h0m17-6h0m9 10h0m12-8h0m56-3h0m20 7h0m-164 16h0m8-8h0m1 2h0m8-3h0m7 1h0m12 3h0m1-4h0m5 3h0m1-1h0m3 5h0m7-5h0m4 7h0m2-8h0m1 3h0m3 5h0m1-9h0m13 3h0m2 5h0m0-4h0m8 3h0m13-3h0m2-4h0m1 3h0m12 5h0m11-2h0m12-3h0m14-1h0m4 2h0m49 4h0m32-7h0m38 3h0m189 2h0m-458 15h0m6-9h0m12 4h0m0-2h0m4 2h0m1-5h0m1 4h0m3 0h0m4 2h0m1-6h0m0 6h0m3 0h0m5-6h0m0-1h0m1 8h0m0 3h0m4-9h0m1 9h0m0-4h0m2 1h0m5-2h0m1 5h0m0-3h0m0-2h0m2 5h0m1-3h0m2-1h0m2 0h0m1 2h0m0-2h0m3 4h0m1 0h0m2 0h0m1-10h0m4 0h0m1 7h0m0-8h0m0 7h0m1 4h0m4-5h0m9-2h0m4 5h0m6 2h0m4-2h0m1 2h0m5-5h0m30-6h0m8 2h0m1 4h0m7 0h0m4-4h0m13 5h0m58-4h0m29 3h0m13-3h0m-278 16h0m1 1h0m5 1h0m4 0h0m1-3h0m3 3h0m0-4h0m3-5h0m4 6h0m6-6h0m0 6h0m1 5h0m1 0h0m1-11h0m2 8h0m0-7h0m1 1h0m0 6h0m1 2h0m1-5h0m0-1h0m3 4h0m0 1h0m3-1h0m2-8h0m1 8h0m1 0h0m1-5h0m5-3h0m0 8h0m0 1h0m2-6h0m1 8h0m1-4h0m0 0h0m1 1h0m4-1h0m2 2h0m4-6h0m3 2h0m2 2h0m3 2h0m2-4h0m6-1h0m3 6h0m0-9h0m1 2h0m5 6h0m0-4h0m3-4h0m2 6h0m6 1h0m2 2h0m2-5h0m1-3h0m3 6h0m6-2h0m2-5h0m1 6h0m17-2h0m1-2h0m1 4h0m9-4h0m12-3h0m4 3h0m1 6h0m4-6h0m1 5h0m4-7h0m5 7h0m12 3h0m5-4h0m11 1h0m10-4h0m10 5h0m8-8h0m21 5h0m14 3h0m9-9h0m183 7h0m-458 9h0m0-2h0m2 2h0m0-3h0m0 4h0m1-3h0m1 5h0m0-2h0m0 3h0m1 2h0m1-4h0m2-6h0m1 3h0m0 4h0m4-6h0m0 2h0m1 4h0m2-6h0m2 6h0m1-5h0m0-2h0m3 1h0m3 2h0m19-1h0m0-1h0m5-1h0m2 5h0m0-4h0m1 0h0m0 6h0m2-2h0m0 1h0m5 2h0m0-6h0m2 6h0m0 2h0m0-4h0m3-6h0m1 9h0m1-3h0m0-6h0m1 10h0m2-5h0m2 6h0m3-3h0m1-3h0m1-2h0m1 6h0m1-2h0m1 1h0m1-1h0m1-6h0m0 10h0m1-5h0m4-4h0m0 8h0m1 1h0m0-1h0m1-4h0m0 4h0m2 1h0m2-9h0m1 3h0m0 5h0m3 0h0m3-7h0m1 3h0m1 2h0m0 3h0m2-3h0m1 2h0m0-7h0m3 3h0m0-2h0m1-1h0m1 1h0m1-1h0m0 6h0m1 0h0m4-9h0m2 10h0m1-9h0m3 1h0m0 0h0m2 7h0m6-4h0m12-3h0m4 4h0m2-2h0m3-3h0m2-1h0m7 1h0m10 4h0m1-5h0m2 5h0m3 2h0m2-1h0m3 4h0m1-2h0m9-3h0m2 6h0m1-9h0m9 9h0m7-8h0m2-1h0m0 5h0m16-2h0m1 2h0m0 4h0m12-11h0m36 8h0m5 3h0m340-7h0m-623 18h0m0-5h0m0 3h0m1-2h0m1 3h0m0 0h0m1-4h0m1 4h0m0 1h0m1-2h0m0 3h0m73-11h0m8 0h0m2 1h0m10 3h0m11-2h0m5 2h0m1 5h0m1-2h0m2 0h0m1-2h0m1 0h0m3 0h0m1 1h0m3 4h0m0-3h0m1 0h0m2 3h0m0-3h0m5-5h0m1 3h0m1 6h0m0-6h0m1-1h0m2 5h0m3-2h0m0-5h0m1 4h0m1-4h0m12 8h0m1-3h0m4 0h0m1 1h0m2-4h0m6-1h0m8 1h0m0-1h0m3 3h0m5 1h0m2 1h0m0 1h0m3-2h0m1 3h0m8-2h0m1 3h0m5-7h0m1 0h0m19-3h0m6 9h0m14-1h0m4 1h0m4-4h0m1-2h0m22 5h0m26 0h0m-305 4h0m1 8h0m0-1h0m1 0h0m1 1h0m0 1h0m1-8h0m0 5h0m1-2h0m1 3h0m111-8h0m8 1h0m2-1h0m3 2h0m13 2h0m0 2h0m2-6h0m2 6h0m1-6h0m0 8h0m2-6h0m2 4h0m1 1h0m2-2h0m1 4h0m1-6h0m2 6h0m12-5h0m3-4h0m0 7h0m1-6h0m3 8h0m2-8h0m2 10h0m1-3h0m3-6h0m2 9h0m1-4h0m3-3h0m3 7h0m0-4h0m0-2h0m3 4h0m0-1h0m0 1h0m3 0h0m0-5h0m0 1h0m1 6h0m1-8h0m1 8h0m1-9h0m3 9h0m10-11h0m5 9h0m1-4h0m1-2h0m0 7h0m0-9h0m1 1h0m1 2h0m5 5h0m8 0h0m7-2h0m12-3h0m19 5h0m21-8h0m2 7h0m21-3h0m21 0h0m-343 7h0m1 1h0m0 5h0m0-1h0m1 1h0m1-5h0m1 5h0m1 2h0m0-1h0m155-2h0m0-3h0m3 4h0m1-3h0m0-1h0m1-2h0m0 5h0m2 2h0m1 1h0m1 0h0m0-1h0m0-5h0m1 8h0m2-1h0m2-5h0m6 7h0m3-7h0m0 7h0m3-8h0m1-1h0m0 7h0m1-8h0m2 10h0m3-7h0m3 4h0m0-7h0m5 0h0m1 8h0m1-1h0m3-1h0m8-2h0m2 2h0m0-1h0m4 1h0m1 4h0m4 0h0m4-4h0m20 1h0m3-1h0m0-2h0m5 4h0m8 2h0m1-11h0m40 0h0m4 6h0m4 4h0m36-5h0m-350 12h0m1-5h0m0 7h0m1-5h0m0 3h0m1 0h0m1-3h0m0 3h0m1-1h0m0 7h0m0-11h0m152 9h0m0-1h0m2 3h0m1-5h0m2-1h0m1-2h0m3 7h0m1-9h0m1 7h0m1-4h0m2-3h0m0 9h0m2-8h0m0 8h0m1 0h0m0-2h0m1-4h0m0-4h0m3 0h0m6 1h0m1 10h0m1-3h0m2-2h0m0 4h0m1-2h0m0-7h0m1 10h0m1 0h0m3-11h0m1 3h0m2-3h0m7 8h0m0 2h0m1-1h0m1 1h0m1 1h0m2-2h0m3-7h0m1 3h0m7-1h0m2 5h0m1-8h0m3 7h0m0-7h0m8 4h0m7 6h0m0-10h0m3 8h0m2 0h0m4-6h0m1 1h0m2 7h0m4 0h0m10-5h0m1 0h0m4 5h0m0-4h0m7-4h0m0 0h0m35 8h0m-314 5h0m0 4h0m1 2h0m0-2h0m0-1h0m2-7h0m0 5h0m0 0h0m0 6h0m159-11h0m0 10h0m1-5h0m1 2h0m0 4h0m1-11h0m3 4h0m2 0h0m2 4h0m3-7h0m1 0h0m0 7h0m2 3h0m0-1h0m3 0h0m1-1h0m0-9h0m5 3h0m2 0h0m0 5h0m3 1h0m0 2h0m2-11h0m1 8h0m4 1h0m1 2h0m2-7h0m0 4h0m3-6h0m1 3h0m2 1h0m1 5h0m0 0h0m0-5h0m7 5h0m1-3h0m3-2h0m2-3h0m1 1h0m2 3h0m1 1h0m1-4h0m1 2h0m3 1h0m1-2h0m3 6h0m2-2h0m9 2h0m7-2h0m1-1h0m3 2h0m2-7h0m3 7h0m11-4h0m16 3h0m1-6h0m4 5h0m4 0h0m5-2h0m-303 13h0m1-5h0m1 1h0m1-1h0m0-2h0m0 3h0m0-2h0m1 7h0m0 2h0m1-8h0m0 5h0m0 1h0m166-6h0m0-1h0m11 1h0m1 8h0m1-9h0m8 8h0m0-6h0m1 6h0m4 0h0m4-3h0m2 2h0m6-1h0m1 4h0m0-9h0m1 8h0m1 1h0m3-8h0m2-3h0m2 0h0m2 2h0m2 7h0m1 1h0m1-6h0m1 4h0m1-8h0m3 3h0m3 8h0m1 0h0m5-9h0m2-2h0m1 7h0m2-4h0m7-3h0m3 11h0m5-3h0m0 3h0m12-4h0m22-7h0m5 4h0m24 5h0m14-2h0m-335 14h0m1 0h0m1-5h0m0 1h0m1 0h0m1 3h0m0-6h0m185-2h0m1 2h0m2 4h0m2-2h0m5 6h0m0-1h0m1-7h0m0 4h0m2 1h0m0-2h0m1 4h0m3-1h0m3-2h0m0-6h0m3 7h0m0 1h0m0-6h0m2-2h0m2 9h0m1-9h0m9 10h0m4-8h0m2 3h0m1 4h0m4-2h0m12 2h0m8-1h0m4-3h0m1 3h0m20-1h0m1 2h0m18-2h0m59-3h0m-361 13h0m1-5h0m1 6h0m0-3h0m0 5h0m0 0h0m0-2h0m2 0h0m0-4h0m0 1h0m0 4h0m198 2h0m1 2h0m0-7h0m4-3h0m2 7h0m0-1h0m1-6h0m1 1h0m2 1h0m0 7h0m2-3h0m1 1h0m1 3h0m0 0h0m1-3h0m0-4h0m0 0h0m2 0h0m1-1h0m1-3h0m2 8h0m5-1h0m0 1h0m1-7h0m0 6h0m1-1h0m1-3h0m1 0h0m0-3h0m3 2h0m4-1h0m1 5h0m3-3h0m7 6h0m2 1h0m2-8h0m1 8h0m4-6h0m6 0h0m2 5h0m9 1h0m19-8h0m20 5h0m1 2h0m25-8h0m-342 14h0m1 0h0m0 3h0m0-6h0m0 1h0m1 7h0m1-1h0m0-3h0m1 0h0m1 0h0m196 5h0m0 2h0m1-11h0m3 5h0m3-5h0m0 0h0m2 4h0m3 0h0m1 0h0m2 7h0m1-11h0m3 3h0m0 8h0m2-7h0m1-1h0m1 2h0m1-3h0m0 2h0m1-1h0m2 4h0m1-1h0m0-2h0m1 1h0m2-2h0m1 1h0m1 7h0m1-6h0m5-3h0m1 8h0m0-8h0m11 4h0m2-4h0m3 3h0m3-2h0m0 4h0m3 0h0m9 0h0m24-1h0m19 4h0m40-10h0m67 8h0m-421 10h0m0-3h0m1 1h0m0 4h0m1-4h0m1 5h0m0-3h0m0-3h0m0 5h0m0 2h0m1-4h0m197-6h0m4 3h0m2-1h0m3 7h0m3-6h0m2 4h0m1 2h0m3 1h0m0-5h0m1 0h0m2 1h0m2-3h0m4 7h0m0 0h0m6-10h0m2 6h0m1 4h0m1-7h0m1 1h0m0 2h0m2 0h0m3 1h0m0-2h0m3-5h0m3 9h0m1-1h0m2-1h0m1-7h0m1 3h0m0 0h0m6-1h0m9-1h0m2 2h0m5 5h0m56 3h0m44-11h0m-378 20h0m0 3h0m1-11h0m0 6h0m0 0h0m0-5h0m1 9h0m1-9h0m0 8h0m0-7h0m1 2h0m1-3h0m1 8h0m187 2h0m3 0h0m4-5h0m4 1h0m1 2h0m1-5h0m0-3h0m3 8h0m1-4h0m0-1h0m0 4h0m1-1h0m1-6h0m0 1h0m3-1h0m1 9h0m1-5h0m3-5h0m2 6h0m2-6h0m2 8h0m3 1h0m5-2h0m1-5h0m0-1h0m1 5h0m1 4h0m3-10h0m10 11h0m2-4h0m11 2h0m21-9h0m2 11h0m25-10h0m233 5h0m-542 9h0m0 8h0m4-10h0m0 3h0m1-2h0m1 7h0m1-4h0m0-2h0m3 4h0m0 4h0m1-6h0m3 4h0m3-2h0m0 1h0m2 1h0m0 0h0m163-2h0m0-1h0m1 5h0m6-7h0m2 7h0m0-7h0m2 0h0m1 0h0m1 1h0m2-1h0m0 5h0m1-3h0m0 3h0m1-3h0m2-2h0m0 6h0m2-10h0m3 9h0m1-9h0m0 3h0m0 5h0m0 0h0m2-1h0m2-6h0m2 0h0m1 1h0m5 5h0m0-5h0m2 1h0m4-3h0m2 8h0m3-5h0m8 7h0m1-7h0m1 2h0m34 6h0m131-3h0m-403 8h0m2-1h0m5-1h0m2 1h0m5 2h0m2-1h0m0-4h0m1 8h0m1 1h0m1-9h0m0 5h0m0 1h0m2-3h0m2 1h0m1-1h0m2 5h0m3-7h0m1 7h0m1 2h0m1 1h0m0-1h0m3-6h0m1 0h0m1 2h0m2-1h0m2 6h0m1-6h0m0 3h0m0-2h0m1 0h0m1 2h0m1 3h0m1-1h0m2-4h0m0 2h0m1-1h0m5 2h0m10 2h0m2 0h0m6-1h0m4 1h0m64-3h0m5-1h0m2 1h0m2 3h0m0-5h0m1 1h0m1 3h0m1 0h0m0-2h0m1 2h0m2-1h0m7 2h0m2-7h0m1 6h0m1 1h0m4-8h0m1 0h0m0-1h0m3 6h0m2 3h0m0 0h0m1-8h0m2 6h0m2-9h0m1 9h0m0-3h0m1 1h0m0 2h0m3-5h0m0-3h0m2 9h0m0-6h0m6-3h0m4 4h0m1 2h0m1 4h0m0-9h0m1 2h0m2 5h0m0-9h0m0 8h0m1-6h0m2 2h0m1-3h0m0 0h0m2 7h0m1-5h0m2-1h0m0 8h0m1-5h0m2-5h0m0 1h0m16 2h0m3 4h0m0-5h0m20 4h0m0 4h0m2-9h0m2 10h0m5 0h0m14-3h0m3 0h0m12 0h0m25-3h0m60-1h0m256 3h0m-607 15h0m8-10h0m3 5h0m4 4h0m1-4h0m0-2h0m1 5h0m1-5h0m3 6h0m4-6h0m7 3h0m5 2h0m1-4h0m1-4h0m2 7h0m1-7h0m2 4h0m2-2h0m0 3h0m1 3h0m1-4h0m0-2h0m2-1h0m0 6h0m0-5h0m0 4h0m1 2h0m2-8h0m3 6h0m4-3h0m1 3h0m0 0h0m1-6h0m0 6h0m0-6h0m1 0h0m1 2h0m0 4h0m1 1h0m0-6h0m2 1h0m1 9h0m1-8h0m1 2h0m1-3h0m1 1h0m1 3h0m0 4h0m2-6h0m2 5h0m1 0h0m1-3h0m1-1h0m8-2h0m3 4h0m0-2h0m1-2h0m2 6h0m1-6h0m0 4h0m1 0h0m1 1h0m0-2h0m2-4h0m1-2h0m1 8h0m1 0h0m1-1h0m0 1h0m1-6h0m3 2h0m2-4h0m0 11h0m1-6h0m1 4h0m6-3h0m0-5h0m4 3h0m2-4h0m1 10h0m0 1h0m3-8h0m0 4h0m1-4h0m4 1h0m1 7h0m3-7h0m3 6h0m1-5h0m1-2h0m3-2h0m1 7h0m0 0h0m0-7h0m1 6h0m2-7h0m1 2h0m0 1h0m2 7h0m1-6h0m3 5h0m1-2h0m1-2h0m5-5h0m0 5h0m1 0h0m1 6h0m0-9h0m0 3h0m1 0h0m1 1h0m2 2h0m5-8h0m1 7h0m0-7h0m2 10h0m0-8h0m2 3h0m2 4h0m1 0h0m4-8h0m1 8h0m0-9h0m1 11h0m3-8h0m1 7h0m0-5h0m19-2h0m4 2h0m36 2h0m8-7h0m-247 18h0m51-5h0m0 0h0m1 2h0m12 3h0m0 4h0m1-10h0m1 3h0m4 0h0m0-2h0m1 8h0m1-1h0m0-4h0m2-2h0m7-1h0m4-1h0m1 2h0m7-1h0m4 3h0m3-1h0m0 2h0m2 2h0m0-4h0m3-2h0m2 6h0m4-7h0m1 0h0m2 8h0m2 2h0m0-10h0m1 5h0m1 1h0m2-2h0m2-2h0m1 4h0m3 3h0m1 0h0m1-6h0m9 5h0m9 1h0m1-3h0m2-6h0m10 10h0m4-8h0m0 7h0m3-9h0m0 7h0m2-1h0m1 2h0m8-6h0m7 4h0m5-4h0m1 0h0m8 1h0m22 3h0m23 4h0m-188 6h0m18 4h0m15-2h0m8 3h0m4-8h0m9 10h0m8-10h0m14 3h0m12-4h0m4 5h0m5 1h0m4 0h0m5-6h0m2 8h0m1 3h0m9-4h0m2-1h0m1-2h0m9 0h0m10 4h0m2-8h0m3 10h0m10-7h0m256 4h0m-282 8h0m22 2h0m-59 9h0m1 1h0m322 8h0"/><path d="M146 30h0m87-4h0m-54 21h0m88-6h0m-53 16h0m-81 10h0m66 18h0m15 7h0m-28 9h0m-6 18h0m37-10h0m-40 14h0m44 15h0m-61 17h0m19-10h0m12 7h0m95-8h0m248 20h0m247 2h0m-634 5h0m46 8h0m43-6h0m-38 14h0m-31 9h0m4-4h0m19 10h0m62-9h0m-68 16h0m75 0h0m176 5h0m29-6h0m-255 8h0m76 10h0m-145 4h0m10 7h0m3 2h0m29-6h0m9-1h0m366 6h0m-417 10h0m12-6h0m59 2h0m51 0h0m-55 19h0m125-3h0m35-2h0m-207 12h0m11 0h0m4-6h0m12 6h0m3-4h0m29-1h0m49 6h0m283 1h0m-409 12h0m60 2h0m17-8h0m349 8h0m365 0h0m-795 13h0m13-11h0m7 9h0m3 2h0m40-11h0m320 8h0m-392 8h0m52 3h0m88-7h0m208 9h0m289-1h0m62-8h0m-699 14h0m15-2h0m0 3h0m1 0h0m16 0h0m4 6h0m2 1h0m18-3h0m19 2h0m5-2h0m8 3h0m7-4h0m2-3h0m1 2h0m70 4h0m51-7h0m23-2h0m118 10h0m-353 7h0m22-3h0m18 4h0m28 2h0m38-3h0m132 4h0m109-9h0m-360 21h0m10-6h0m9 4h0m14-3h0m1 6h0m10 0h0m4-6h0m20-1h0m6 1h0m6 1h0m34 3h0m109-1h0m21-6h0m-226 17h0m5 1h0m0-2h0m3-4h0m1 5h0m4 5h0m1-8h0m25-1h0m1 1h0m17 4h0m1-3h0m3 3h0m17 3h0m4-8h0m28 5h0m2-2h0m42-1h0m0 7h0m35-1h0m62-7h0m135-2h0m199 7h0m-607 10h0m11 3h0m5-6h0m9 3h0m10 4h0m1-3h0m5-5h0m12 9h0m4-1h0m1-8h0m6 2h0m2-4h0m6 10h0m3-7h0m2-1h0m11-2h0m4 6h0m12-3h0m12 7h0m2-1h0m2-2h0m10 3h0m2-3h0m30-3h0m29 1h0m33 5h0m1-6h0m221-4h0m-433 12h0m2 11h0m0-7h0m3 5h0m0-3h0m3-3h0m3-3h0m3 5h0m3 3h0m1-6h0m1 2h0m2 1h0m2 6h0m2-7h0m3-2h0m5 2h0m1-4h0m2 8h0m0-3h0m0-3h0m2 3h0m5 3h0m4-5h0m1 6h0m5 2h0m0-4h0m1 3h0m1 0h0m2-3h0m10 1h0m2-7h0m15 9h0m7-2h0m1-8h0m2 7h0m0-7h0m4 11h0m0 0h0m19 0h0m2-1h0m1-9h0m9-1h0m17 0h0m0 10h0m1 1h0m19-7h0m39-4h0m65 4h0m-282 19h0m5-6h0m0 6h0m2-11h0m9 9h0m5-2h0m4-1h0m2 0h0m2-5h0m0 4h0m0 1h0m0 3h0m2-5h0m2 4h0m1 0h0m1-8h0m1 9h0m2-3h0m1 5h0m4-5h0m0 2h0m1-1h0m1 2h0m1 1h0m2-9h0m2 10h0m3-2h0m0 2h0m1-4h0m1 3h0m1-3h0m1 1h0m3-5h0m1 3h0m1 0h0m5 1h0m1-3h0m4 7h0m1-3h0m0 1h0m4-8h0m1 7h0m1 2h0m5 1h0m0-6h0m1 4h0m0 0h0m1-9h0m2 0h0m9 11h0m0-9h0m3 7h0m0-6h0m0 7h0m2-7h0m2 4h0m4-3h0m0-4h0m1 9h0m2-1h0m1-2h0m0 0h0m18-5h0m7-1h0m8 7h0m6 3h0m12-10h0m14 11h0m19-9h0m72 3h0m57-1h0m-325 11h0m1 1h0m0 6h0m1-4h0m0-6h0m1 6h0m2-2h0m2 4h0m1 3h0m2-7h0m2 2h0m2 1h0m1 3h0m3-9h0m0 3h0m1 3h0m1-5h0m2 0h0m4-1h0m3-1h0m5 0h0m8 2h0m3 0h0m0 0h0m2 0h0m4-1h0m6 0h0m0 6h0m3-2h0m1-5h0m0 6h0m0 3h0m2-4h0m1 1h0m0 0h0m1 0h0m0 3h0m1-9h0m2 6h0m1-3h0m1 2h0m1-5h0m1 1h0m3 8h0m1-6h0m1 6h0m5-9h0m1 7h0m3-6h0m0 4h0m1 1h0m1-1h0m0 0h0m2-1h0m1-3h0m1 3h0m2 0h0m0-4h0m2 7h0m1-1h0m3-2h0m0 5h0m1 2h0m4-2h0m0-3h0m3-5h0m3 5h0m0-4h0m4 7h0m3-2h0m0-1h0m1 5h0m1-3h0m2 3h0m0 0h0m3-3h0m7-5h0m0 5h0m1-2h0m0-4h0m6 8h0m1-5h0m2 6h0m16-7h0m6 5h0m9-6h0m4 5h0m5 3h0m0-5h0m6-4h0m1-1h0m2 10h0m13-2h0m1-7h0m5 6h0m11-3h0m15 6h0m13-8h0m52-1h0m168 9h0m-468 8h0m1 4h0m0-5h0m2 2h0m0 2h0m1-10h0m0 1h0m0 5h0m1-2h0m0-4h0m1 3h0m0 4h0m60-7h0m11 0h0m9 1h0m4 0h0m5-1h0m2 2h0m4-1h0m1 2h0m2-3h0m2 3h0m0-3h0m2 7h0m2 0h0m0-4h0m2 8h0m5-2h0m1-3h0m3-3h0m2 8h0m1-9h0m2 3h0m1 5h0m1-9h0m6 2h0m2 5h0m0 0h0m0 2h0m1-4h0m1 0h0m3-4h0m2 3h0m1-2h0m2 4h0m1-1h0m1 5h0m1 0h0m1-11h0m1 2h0m1 7h0m6-7h0m2-1h0m3 6h0m5-4h0m1 3h0m2 2h0m2 1h0m2-5h0m1 4h0m0-6h0m5 0h0m3 3h0m0-3h0m1-2h0m0 11h0m2-4h0m2-5h0m2 1h0m0 1h0m7 2h0m0-2h0m3 0h0m6 1h0m5-4h0m0 9h0m0-5h0m0 3h0m3-1h0m6 4h0m8-1h0m5-5h0m2-2h0m9 4h0m17 1h0m3-5h0m0 5h0m7-5h0m37 6h0m-310 9h0m0 5h0m0-2h0m0 1h0m0 1h0m0-6h0m0 1h0m0 1h0m2 2h0m0-5h0m0-3h0m0 6h0m1 3h0m1 0h0m0-1h0m0-5h0m1 1h0m1-2h0m0 1h0m113-4h0m3 1h0m3 3h0m1-3h0m6 0h0m4 2h0m1 0h0m7 0h0m2-1h0m1 2h0m2-4h0m2 9h0m2-1h0m0-3h0m0 5h0m2 0h0m1-8h0m1-2h0m1 0h0m1 9h0m4-3h0m0 4h0m0-9h0m4 2h0m4 7h0m6-4h0m0 4h0m1-8h0m1 2h0m3 6h0m1 1h0m0-7h0m2-1h0m0 6h0m1-2h0m1-3h0m2 7h0m1-3h0m1-6h0m2 3h0m0 5h0m3 1h0m0-9h0m1 0h0m2 6h0m0-7h0m4 10h0m3 0h0m0 0h0m1-6h0m0-3h0m1 6h0m1-3h0m2 1h0m0-3h0m2 0h0m3 2h0m0 2h0m6-1h0m1 3h0m18-7h0m5 3h0m8 2h0m6 2h0m2 2h0m8-5h0m25 3h0m21-1h0m-317 5h0m0 4h0m1 1h0m0-3h0m0 3h0m0 2h0m3-4h0m0 1h0m0 5h0m0-8h0m0 0h0m1 5h0m160 2h0m4-3h0m1 4h0m1-9h0m2 5h0m2-1h0m1 2h0m3-2h0m0 5h0m7-5h0m2 1h0m1 5h0m6-9h0m0-1h0m2 0h0m0 7h0m1-1h0m3 4h0m7-6h0m1 2h0m1 0h0m1 4h0m0 0h0m3-10h0m7 9h0m0-1h0m3-2h0m3-3h0m1-4h0m3 1h0m10 0h0m6 10h0m1-11h0m12 3h0m5-1h0m4 5h0m0-5h0m29 7h0m82-8h0m-379 20h0m0-6h0m0 7h0m0-9h0m0 8h0m0-3h0m0 1h0m1 0h0m0 4h0m0-5h0m1-4h0m1 2h0m1-2h0m0 9h0m153 0h0m2 0h0m0-1h0m1 1h0m2-6h0m1-3h0m2 8h0m0-2h0m5 2h0m0-3h0m0 1h0m1-7h0m1 2h0m1 1h0m1-4h0m2 8h0m2 3h0m4-2h0m1-6h0m2 0h0m5 4h0m1 2h0m2-3h0m2-6h0m0 11h0m2-9h0m1 2h0m2 5h0m1-3h0m0-1h0m6-3h0m7 8h0m2 1h0m4-7h0m12-4h0m9 0h0m0 7h0m1 1h0m0-4h0m2 5h0m1-7h0m0 7h0m6 2h0m2-10h0m4 6h0m30-2h0m6-1h0m-294 17h0m1-2h0m1-5h0m0 9h0m0-2h0m0-2h0m0 2h0m1-4h0m0 0h0m0-4h0m1 9h0m0-10h0m152 4h0m0-3h0m4 5h0m1 1h0m2-5h0m0 5h0m5 1h0m2-8h0m0 3h0m2 6h0m0-2h0m3-5h0m0 4h0m2 2h0m2-1h0m1 3h0m3-5h0m0-4h0m2 5h0m2-3h0m2 8h0m2-3h0m1 2h0m0-1h0m2-6h0m2 0h0m0-2h0m4 8h0m0 1h0m0-2h0m4 0h0m1-3h0m0-3h0m2-1h0m3 9h0m3-1h0m0-6h0m1-3h0m1 7h0m1 3h0m0-1h0m0-4h0m2-2h0m9-2h0m1 9h0m5-9h0m3 8h0m3-9h0m3 2h0m2-2h0m6 2h0m12 5h0m2-5h0m13 1h0m27 1h0m0 6h0m32-4h0m31-2h0m-366 10h0m0-1h0m0 4h0m1 6h0m0-5h0m0-2h0m1 3h0m0 0h0m1 2h0m0-4h0m0-3h0m1 2h0m0-3h0m0-1h0m164 3h0m4 0h0m5-2h0m0-1h0m5 2h0m2 2h0m0 4h0m0-8h0m2 4h0m2 4h0m3-3h0m2-3h0m3 3h0m1 4h0m0 1h0m2-8h0m1 9h0m2 0h0m4-5h0m1 0h0m0-1h0m0 6h0m2-9h0m2 5h0m1-3h0m1-3h0m0 3h0m0 5h0m1-6h0m1 2h0m1 0h0m2 4h0m0 1h0m0-5h0m4-2h0m1 7h0m2-1h0m5-2h0m4 1h0m1-7h0m1 9h0m1 1h0m5-6h0m1 5h0m0-1h0m4 2h0m1-7h0m0 0h0m2-3h0m5 8h0m5 1h0m1-8h0m11 5h0m3 0h0m9-1h0m2-1h0m63 4h0m-348 13h0m0 0h0m0-1h0m1-8h0m0 1h0m0 1h0m0-2h0m1 9h0m0 0h0m1 0h0m0-3h0m191-4h0m2 1h0m0 4h0m1-8h0m2 11h0m0-3h0m3-1h0m2-4h0m0 7h0m2-8h0m1-1h0m1 2h0m1-2h0m0 1h0m7 2h0m3-4h0m1 0h0m8 11h0m1-3h0m0-5h0m0-2h0m1 2h0m1 3h0m0-6h0m0 4h0m2-2h0m2 0h0m0 5h0m1-2h0m1 2h0m2 0h0m0 4h0m3-9h0m4 2h0m1 7h0m4-10h0m8 8h0m2-4h0m4-4h0m96 6h0m1-7h0m-364 15h0m0 4h0m1 2h0m0-3h0m0 5h0m3-9h0m0 4h0m0-3h0m1 5h0m0-7h0m196 1h0m0 5h0m0-1h0m1-4h0m1 5h0m0-6h0m0 9h0m1-4h0m0-1h0m0-4h0m3 4h0m3 4h0m3-8h0m1 6h0m0 4h0m3-5h0m0-1h0m3-3h0m1 0h0m0 6h0m1 0h0m3-5h0m1 4h0m3 0h0m1-3h0m4-4h0m1 4h0m1 0h0m4 3h0m20-5h0m4 8h0m2-5h0m15 3h0m1 0h0m0-8h0m9 9h0m14 1h0m11-6h0m-316 18h0m1-3h0m0-3h0m1 0h0m1 4h0m1-1h0m1 2h0m195-1h0m2-7h0m0 9h0m1-5h0m4-4h0m0 5h0m1-1h0m1-1h0m2-3h0m1 3h0m0-3h0m1 8h0m0-5h0m1 6h0m1 1h0m2-4h0m1-3h0m0 0h0m1 5h0m1-4h0m2-5h0m2 5h0m1 3h0m1-7h0m0 1h0m1 7h0m1-6h0m1-1h0m1 3h0m0 6h0m9-1h0m8-4h0m1 4h0m5-9h0m2 6h0m1-7h0m3 2h0m2 2h0m2-1h0m17 8h0m7-5h0m78-4h0m85 2h0m-449 13h0m0 5h0m1-7h0m0 4h0m0 0h0m1 4h0m0-6h0m1 5h0m0-8h0m1 4h0m198-6h0m3 10h0m3-7h0m1 7h0m0-10h0m2 8h0m1-6h0m1 9h0m4-8h0m3 6h0m2-4h0m4-2h0m1-2h0m1 1h0m12-2h0m7 10h0m9 0h0m4-4h0m2 3h0m10-8h0m0 5h0m6 4h0m11 0h0m17-8h0m16 0h0m53 5h0m33-2h0m10 3h0m-418 12h0m0 2h0m0-9h0m1 7h0m0-4h0m0 4h0m1-8h0m0 1h0m0 5h0m0-4h0m0 3h0m1 3h0m0-7h0m1 8h0m0-9h0m189 10h0m2 1h0m9-10h0m3 9h0m2 1h0m0-10h0m1 0h0m2 0h0m1 6h0m1 3h0m1-1h0m1-2h0m1-1h0m0-6h0m6 10h0m8-4h0m2 4h0m6-2h0m2-8h0m3 1h0m1 9h0m0-9h0m5 7h0m8-7h0m4-1h0m1 1h0m1 1h0m5-1h0m4 2h0m28 7h0m2-6h0m52 0h0m29 2h0m51 3h0m7 0h0m-443 4h0m2 0h0m0 9h0m0-4h0m0-4h0m2-2h0m1 0h0m1 1h0m0 4h0m1 2h0m1-4h0m0 8h0m1-3h0m0-7h0m0 1h0m0 4h0m3 1h0m2 0h0m1-2h0m5 5h0m2-2h0m158 3h0m0-1h0m2-2h0m5-5h0m1 1h0m3 1h0m0-2h0m1 8h0m0-5h0m1 5h0m2-3h0m1-6h0m1-1h0m4 5h0m0 5h0m0-6h0m3 1h0m4 4h0m0-9h0m6 1h0m3-1h0m4 10h0m1-9h0m13 3h0m11 6h0m8-4h0m1 4h0m16-2h0m6-9h0m11 8h0m2-7h0m5 4h0m-286 14h0m1-3h0m4-2h0m5 7h0m5-4h0m1 3h0m1-8h0m1 3h0m1 0h0m0 4h0m3-2h0m1-1h0m0-1h0m0-1h0m1 8h0m1-2h0m1-7h0m2 5h0m2 4h0m1-6h0m4-1h0m0 2h0m1-1h0m4 1h0m2 0h0m3 2h0m1 2h0m4 0h0m0-1h0m2 1h0m3 2h0m14-1h0m6 1h0m58-1h0m2 1h0m7-3h0m1 0h0m3-1h0m1-1h0m0 4h0m6 0h0m0-2h0m1 2h0m1-1h0m0 0h0m1-5h0m2 1h0m1-3h0m2 0h0m0 8h0m0-7h0m2-3h0m1 11h0m2-3h0m0-6h0m4 8h0m2 1h0m0-11h0m1 3h0m3 6h0m0-4h0m2 6h0m1-10h0m4 0h0m0 8h0m2-3h0m1 3h0m1 0h0m1-7h0m2 9h0m3 0h0m0-7h0m1-2h0m6 1h0m3 3h0m0-2h0m2 7h0m1-5h0m4 1h0m4-5h0m1 4h0m7 4h0m16-10h0m6 2h0m2 6h0m5 1h0m38-6h0m1 7h0m-277 8h0m7-1h0m8-1h0m1 3h0m6-5h0m1-2h0m5 4h0m1 2h0m4-5h0m2-1h0m1 8h0m1-5h0m2-2h0m1 3h0m1 0h0m2 2h0m1 4h0m2-4h0m4-1h0m5-1h0m3-1h0m1-3h0m0 8h0m2-8h0m4 7h0m3-5h0m1 2h0m0 7h0m1-1h0m1-1h0m2-4h0m0 5h0m4-7h0m0 1h0m2 2h0m1-2h0m0 6h0m2-1h0m2 2h0m1-4h0m1 1h0m1 3h0m1-3h0m2 2h0m2-3h0m1 4h0m2-4h0m1-5h0m5 9h0m1-9h0m0 4h0m0 1h0m1 0h0m0-4h0m1 1h0m4-2h0m0 2h0m1 3h0m1 0h0m1-7h0m1 2h0m0 7h0m1-4h0m0 1h0m1 2h0m0-5h0m1-1h0m1 1h0m0-2h0m3 9h0m1 0h0m0-6h0m1 4h0m2-8h0m1 6h0m1 2h0m2-3h0m4-2h0m0-2h0m2 0h0m1 1h0m3 0h0m1-1h0m2 8h0m0-3h0m3 2h0m1-5h0m0 1h0m1-4h0m4 5h0m1-3h0m1 5h0m2 1h0m2-7h0m8 4h0m2 1h0m0 5h0m3-4h0m1-6h0m0 2h0m3 2h0m4 2h0m1 4h0m5-3h0m0-1h0m3-1h0m2 3h0m4-4h0m2-2h0m3 3h0m1-3h0m2-3h0m7 0h0m1 5h0m4 1h0m8 0h0m4-4h0m9 7h0m1-1h0m41 1h0m3-6h0m-255 13h0m24-3h0m5-1h0m1 8h0m3-7h0m5-1h0m5 8h0m1-4h0m1 4h0m1 0h0m1 1h0m3-2h0m4-6h0m3 10h0m4-6h0m3 5h0m2-9h0m1 0h0m7 1h0m2 5h0m1-5h0m2 2h0m2-4h0m1 0h0m3 2h0m12 2h0m5 0h0m0 5h0m1-7h0m1 5h0m0-7h0m3 3h0m6-1h0m1 0h0m2 3h0m2-4h0m0 5h0m1 0h0m2-6h0m2 6h0m0-4h0m2 9h0m0-8h0m1 8h0m2-9h0m2 1h0m2 4h0m2-4h0m1-1h0m1 8h0m0-6h0m3-4h0m1 2h0m3 3h0m0 0h0m11-5h0m2 1h0m7 4h0m0 6h0m6-9h0m1 4h0m1-2h0m2-4h0m4 10h0m19-2h0m1-4h0m3-1h0m24 1h0m3 5h0m135-3h0m-331 13h0m73-1h0m13-6h0m2 3h0m2 3h0m4-4h0m4 8h0m1-7h0m6 1h0m18-1h0m5-1h0m8-2h0m4 2h0m3-1h0m7 4h0m103-1h0m-171 13h0m14 0h0m5 2h0m10-4h0m30-2h0m19 1h0m1 2h0m-39 8h0"/><path d="M158 25h0m36-1h0m16 2h0m-26 28h0m1 37h0m4 11h0m-54 14h0m28 3h0m18-5h0m20 4h0m40-9h0m52-1h0m-129 25h0m10 8h0m15-8h0m-15 11h0m24 17h0m10 10h0m121 6h0m-127 3h0m13 0h0m86 3h0m-158 18h0m9-8h0m10 8h0m1 1h0m86-3h0m41 3h0m18-5h0m75-2h0m-210 14h0m106 4h0m254-8h0m-253 15h0m-139 11h0m26 7h0m4-5h0m63-1h0m-39 8h0m61 4h0m133-3h0m-233 15h0m4-3h0m42 1h0m5 3h0m4-5h0m17 6h0m37-4h0m39 7h0m101 0h0m119-4h0m-372 10h0m0 4h0m3-7h0m8 2h0m14 6h0m4-8h0m-27 20h0m5-6h0m7 9h0m5-6h0m25 5h0m20-5h0m118 1h0m225-5h0m-416 17h0m5 0h0m16-5h0m20-1h0m4 7h0m8-5h0m19 6h0m43-3h0m21 0h0m31 6h0m186-1h0m23-9h0m-370 15h0m26-4h0m1 3h0m4 8h0m0-7h0m29 6h0m2-10h0m17 10h0m0-8h0m40 6h0m-115 9h0m25 2h0m8 0h0m83 2h0m69-1h0m-189 11h0m4 3h0m13 1h0m21-1h0m1-9h0m8 3h0m1 3h0m30-4h0m18 6h0m3 2h0m8-2h0m24 0h0m11-6h0m145-3h0m1 6h0m61-5h0m173-1h0m-547 12h0m6 3h0m3 5h0m9 3h0m7-3h0m4 0h0m20 3h0m17-9h0m16-2h0m14 6h0m1 4h0m7-7h0m16 6h0m3 0h0m19 1h0m48-10h0m-177 17h0m10-2h0m0 4h0m1-4h0m8 7h0m3 0h0m16-5h0m26 0h0m3 6h0m1-11h0m14 3h0m19 6h0m6-6h0m17 6h0m10-4h0m83 1h0m21 0h0m503-1h0m-748 16h0m0-6h0m19-3h0m4 4h0m1 5h0m8-6h0m4-2h0m0 8h0m1-6h0m1 8h0m5-1h0m10 1h0m7-3h0m8 2h0m5-2h0m0 1h0m17-2h0m15-5h0m16 1h0m14 6h0m8-1h0m29-6h0m23 9h0m13-1h0m59 1h0m367-7h0m99 3h0m-744 8h0m9 3h0m2 0h0m4 5h0m7-10h0m2 10h0m3-8h0m11 8h0m0-1h0m5-9h0m1 0h0m1 5h0m2-6h0m0 3h0m4 7h0m5-5h0m1 2h0m0 0h0m1 3h0m3-2h0m3 2h0m1-2h0m2 3h0m3-2h0m1-2h0m6-3h0m8 3h0m1 1h0m8-4h0m2 6h0m0-6h0m3 2h0m0-6h0m2 9h0m1-5h0m0 3h0m6-5h0m21 9h0m9-5h0m9 0h0m3 5h0m0-3h0m1-6h0m2-2h0m0 5h0m22-2h0m47 8h0m2-9h0m7 1h0m23 0h0m26 4h0m319-7h0m-595 12h0m1 5h0m3 0h0m1 0h0m4 6h0m2-9h0m3 2h0m0 4h0m0 1h0m2-4h0m0-1h0m1 3h0m6 0h0m1-3h0m1-2h0m3 4h0m2 1h0m1 1h0m3-6h0m0 2h0m0-1h0m1 1h0m1-4h0m4 5h0m3 6h0m2-5h0m1-3h0m3 4h0m2-2h0m3 2h0m0-4h0m1 0h0m3 8h0m5-5h0m2-1h0m3 3h0m0-1h0m1 1h0m0 1h0m1-4h0m2-4h0m1 10h0m3-9h0m0 8h0m3 0h0m6 0h0m0-4h0m3-6h0m4 0h0m0 5h0m0-4h0m6 10h0m10-5h0m6 3h0m4 2h0m2-9h0m8 4h0m4-2h0m2 4h0m1-8h0m11 1h0m1 2h0m3 1h0m7 4h0m11 2h0m1 0h0m3-1h0m3 2h0m18-1h0m42-3h0m12 2h0m69-2h0m-320 6h0m1 9h0m2-3h0m2 3h0m1-2h0m0-6h0m1 8h0m2-7h0m0 4h0m0 2h0m2 1h0m0-4h0m3-4h0m5 3h0m0-3h0m0 2h0m4-3h0m1 1h0m4 2h0m1-3h0m17-1h0m1 1h0m3-1h0m3 1h0m4 4h0m0-5h0m4 5h0m4 3h0m7-2h0m0-6h0m1 9h0m2 2h0m1-3h0m3-6h0m0 8h0m1-1h0m0-7h0m0 5h0m3 3h0m3 1h0m1-3h0m1-1h0m1 0h0m0-4h0m4-2h0m1 1h0m1 4h0m1-4h0m1 2h0m0 4h0m3 3h0m2-11h0m0 9h0m1-8h0m1-1h0m1 8h0m4-5h0m5 6h0m2 2h0m0-6h0m1 2h0m6-5h0m4 1h0m3 0h0m1 7h0m0-9h0m2 0h0m0 9h0m1-6h0m7 0h0m3 7h0m8-7h0m4 7h0m2 0h0m2-3h0m11-2h0m7-6h0m2 4h0m4 2h0m5-2h0m33 3h0m6-1h0m14 0h0m8-2h0m-249 10h0m1 8h0m0-3h0m2-4h0m1 3h0m0 0h0m1-3h0m0 8h0m1-8h0m1-2h0m1 1h0m90 2h0m1-2h0m1 1h0m3-2h0m1 6h0m1 0h0m1-2h0m0-4h0m1 6h0m1-2h0m2 0h0m0 4h0m1-2h0m0-3h0m0 0h0m0-2h0m1 6h0m0-4h0m0 1h0m2 3h0m1 3h0m0-2h0m0 0h0m1-9h0m2 8h0m0 2h0m2-9h0m1 3h0m3 4h0m3-2h0m3-5h0m1 0h0m1 7h0m0-7h0m1 10h0m2-2h0m1-4h0m4 6h0m1 0h0m2-2h0m1-6h0m3 1h0m3-3h0m3 1h0m2-1h0m2 10h0m0-8h0m2-2h0m1 2h0m1 6h0m1-7h0m0 0h0m6 8h0m2-5h0m4 6h0m9-4h0m0 0h0m1-5h0m1 4h0m4 3h0m3 0h0m1-8h0m0 4h0m1 1h0m1-5h0m1 2h0m0 1h0m0 5h0m15-9h0m12 5h0m4 1h0m6-4h0m3 9h0m2-3h0m4-7h0m0 8h0m5-1h0m3-7h0m24 1h0m5 8h0m-279 6h0m0-1h0m0 7h0m1-5h0m2-4h0m1 8h0m1-4h0m0-3h0m1 6h0m105-8h0m6 1h0m4-1h0m3 4h0m1-3h0m4-1h0m2 0h0m2 1h0m1 5h0m2-4h0m3 1h0m0-2h0m1 1h0m2 1h0m4 3h0m3-5h0m2 7h0m3 1h0m1-1h0m2-2h0m2 1h0m1-5h0m0 7h0m5-1h0m1 0h0m5-5h0m0 4h0m3 2h0m5-7h0m3 5h0m5 1h0m4 0h0m1-2h0m3-1h0m2 1h0m0-5h0m3 10h0m1-2h0m2 0h0m1-5h0m0 1h0m13 4h0m3 0h0m3-6h0m0-1h0m1 3h0m1 5h0m6-5h0m1 1h0m2-4h0m6-2h0m1 2h0m2 2h0m34 2h0m8-1h0m149-1h0m38-3h0m66 8h0m-538 8h0m0 6h0m0-6h0m2 3h0m1 2h0m1-7h0m0 8h0m155-6h0m1-2h0m4-1h0m0-2h0m1 8h0m1-2h0m2 5h0m0-7h0m2 4h0m0-6h0m2-2h0m1 11h0m1-11h0m2 0h0m1 11h0m1 0h0m3-3h0m2-8h0m1 11h0m1-4h0m0-5h0m2-1h0m0 7h0m0 0h0m1 0h0m9-6h0m1 3h0m2 1h0m8-6h0m0 6h0m1 5h0m1-9h0m0-1h0m3 5h0m1 1h0m0-4h0m3-2h0m1 4h0m0 3h0m1 1h0m2-8h0m4 0h0m2 6h0m9-1h0m7 0h0m11 4h0m6-6h0m31-2h0m16 2h0m2-2h0m8 8h0m26-3h0m-343 11h0m0-1h0m1 1h0m0-5h0m1-1h0m0 9h0m0-3h0m1 0h0m154 2h0m2 3h0m0-1h0m2-4h0m0-1h0m0 6h0m2-9h0m1 2h0m0-2h0m1 1h0m1-2h0m1 1h0m4 7h0m0-5h0m2-4h0m0 9h0m2-8h0m3 9h0m1-3h0m2-2h0m0 1h0m1-1h0m1 0h0m5-4h0m0 7h0m5 0h0m0 0h0m3 1h0m0-3h0m1 5h0m1-5h0m1 0h0m3 5h0m1 0h0m3-2h0m0 2h0m0-1h0m0-9h0m1 0h0m1 1h0m0 9h0m3-7h0m2-3h0m1 9h0m2-10h0m0 9h0m2-2h0m2 4h0m1-11h0m1 6h0m0 0h0m2 4h0m1-8h0m1 6h0m1 3h0m3-5h0m0 1h0m1 0h0m2 0h0m2-4h0m38 3h0m15 4h0m12-10h0m11 11h0m26-4h0m23-7h0m174 2h0m-535 20h0m1-10h0m0 2h0m0 8h0m0-8h0m1 6h0m0-6h0m0 3h0m0-2h0m0 1h0m1 3h0m0 2h0m1 0h0m0 2h0m1-2h0m0-9h0m0 5h0m154 3h0m1-2h0m3-1h0m1-3h0m1 8h0m3-4h0m1-4h0m0 4h0m1 1h0m2-6h0m0 9h0m3-2h0m1-7h0m1 3h0m2-3h0m1 10h0m1-11h0m2 11h0m1-1h0m0-7h0m1 4h0m3-1h0m2 3h0m2-5h0m1 1h0m3-4h0m1 6h0m1 4h0m1-1h0m1 1h0m7 0h0m4-7h0m7-1h0m10 0h0m1 0h0m5 3h0m3 0h0m4-5h0m6 6h0m1 1h0m0-3h0m3-5h0m0 11h0m1-1h0m4-6h0m11 2h0m11 1h0m39-1h0m-316 14h0m0 2h0m0-4h0m1-3h0m0 6h0m0-1h0m0-7h0m0 2h0m2 7h0m0-2h0m0 1h0m163-8h0m2 2h0m14-3h0m0 9h0m3 2h0m1-5h0m2-1h0m2-3h0m2 5h0m0 3h0m0-5h0m2-5h0m5 4h0m1 3h0m4-2h0m1-2h0m4 0h0m1 2h0m4-5h0m3 5h0m1 3h0m0 3h0m4-5h0m1-6h0m5 5h0m6 6h0m1-11h0m1 0h0m0 8h0m8-4h0m2-4h0m0 10h0m9-6h0m9 6h0m14 0h0m6-6h0m11 1h0m4 1h0m13-6h0m6 11h0m3 0h0m-321 6h0m0 4h0m0-5h0m0-3h0m1 1h0m1 4h0m1 5h0m1-1h0m186-10h0m0 5h0m1 0h0m1 1h0m4-4h0m0 0h0m0 0h0m0 5h0m3-5h0m1-1h0m1 1h0m0 1h0m1-3h0m1 6h0m2-1h0m1-3h0m0 5h0m1-5h0m2-2h0m1 7h0m0-3h0m0 1h0m2 3h0m0-7h0m0 4h0m2-3h0m1 8h0m1-3h0m2 2h0m0-2h0m1-2h0m1 0h0m0 5h0m0-9h0m3 5h0m0-6h0m1 10h0m1-8h0m7 7h0m2-7h0m1 0h0m4 1h0m2 2h0m0 0h0m3 0h0m3 2h0m12 2h0m0-3h0m16-4h0m4 8h0m26-1h0m46-7h0m89 3h0m320 3h0m-761 11h0m1-2h0m0 0h0m0-2h0m1-2h0m0 10h0m1-10h0m0 0h0m0 1h0m0-2h0m0 1h0m1 9h0m0-8h0m0 0h0m0 5h0m1-7h0m0 2h0m195 0h0m2 5h0m1 1h0m2 2h0m1-5h0m1 2h0m0 1h0m1-7h0m1 10h0m3 0h0m2-2h0m2-8h0m2 10h0m1-11h0m1 7h0m2-7h0m1 8h0m4-5h0m1 4h0m0-7h0m4 0h0m1 2h0m1 3h0m2-2h0m0 2h0m0 4h0m2-6h0m3-1h0m0-1h0m7 4h0m1 6h0m2 0h0m17-2h0m3-4h0m6 5h0m10-3h0m22 2h0m-308 12h0m1-4h0m0 5h0m0-9h0m1 7h0m1 1h0m0-7h0m1 2h0m196 1h0m0 5h0m1-8h0m3 6h0m2-8h0m2 4h0m2 0h0m4-1h0m2 4h0m3-5h0m1 4h0m0-2h0m2-2h0m2-1h0m2 8h0m2-4h0m0 0h0m4 3h0m1-1h0m2-1h0m1-2h0m3 3h0m0 1h0m2 3h0m1-1h0m5-5h0m1 0h0m1-4h0m0 9h0m2-6h0m4 3h0m3-5h0m6 9h0m5-11h0m2 0h0m1 5h0m2-4h0m3-1h0m6 5h0m63-2h0m-347 10h0m1 6h0m1-3h0m0-3h0m1-1h0m0 2h0m0 5h0m0-1h0m202-3h0m1-3h0m0 2h0m2 2h0m1-3h0m2 3h0m0-1h0m1 4h0m0-1h0m0-2h0m0-1h0m3 6h0m0-6h0m2 8h0m1-2h0m2-4h0m1 5h0m0-2h0m2-3h0m2-3h0m1 5h0m1 3h0m3-8h0m0 6h0m2 3h0m1-3h0m2 1h0m2-5h0m2-3h0m12 0h0m15 10h0m10-9h0m25 0h0m-301 12h0m0 8h0m1-3h0m0-1h0m1 4h0m1-2h0m1-6h0m0-2h0m0 7h0m0-1h0m0 0h0m1-5h0m0 10h0m187 0h0m5-3h0m1 1h0m1 2h0m1 0h0m5 0h0m1-9h0m1 4h0m0-3h0m3 3h0m1-1h0m1 0h0m1 4h0m3-1h0m0-4h0m1-4h0m2 3h0m8 6h0m1-5h0m1 2h0m2-3h0m2-3h0m4 5h0m6-3h0m0 3h0m1-2h0m15 5h0m7-2h0m3 1h0m11 3h0m63-2h0m53-5h0m150 8h0m25-9h0m-568 16h0m1 2h0m1-3h0m0-4h0m1 0h0m3-1h0m2 6h0m2 4h0m4-4h0m0 1h0m0 2h0m1 1h0m3-1h0m2 2h0m152 0h0m4-3h0m4 0h0m2 1h0m0-2h0m4-2h0m0-2h0m2 5h0m1-4h0m1 6h0m1-10h0m0 2h0m1 4h0m1-6h0m0 11h0m1-11h0m6 2h0m0 5h0m1 4h0m1-8h0m0 5h0m1-7h0m0 3h0m0 7h0m1-1h0m2-10h0m2 0h0m5 8h0m2 3h0m0-11h0m1 2h0m1 3h0m0 4h0m12-8h0m3 8h0m1-4h0m1 0h0m2 0h0m0-4h0m1 8h0m1 0h0m2-2h0m3 4h0m1-4h0m5 3h0m1-9h0m12-1h0m1 1h0m14 8h0m-272 8h0m3-5h0m2 8h0m2-4h0m2-4h0m4 6h0m4-6h0m1 5h0m2 2h0m0-3h0m0 1h0m1-3h0m1 0h0m0 4h0m1-4h0m0 4h0m1 2h0m0-4h0m1-3h0m1 4h0m0 5h0m1-9h0m1 3h0m0-2h0m0 4h0m1 2h0m3 1h0m1-6h0m1 1h0m1-1h0m6 6h0m3 0h0m2-3h0m5 3h0m1 2h0m13 0h0m4 0h0m62 0h0m5-1h0m12-3h0m5 0h0m3-1h0m1 4h0m0-5h0m1-2h0m1 0h0m1 8h0m1-6h0m0 4h0m4-3h0m3-4h0m1 8h0m0-4h0m3 0h0m1-6h0m1 0h0m0 8h0m2-8h0m0 10h0m1-1h0m1-4h0m2 4h0m3 2h0m4-4h0m0-3h0m1 3h0m3-7h0m2 3h0m1 3h0m0-1h0m4 0h0m0-4h0m4 0h0m5 10h0m4-4h0m3-1h0m4-4h0m5-2h0m19 10h0m11 1h0m0-7h0m69 3h0m-324 5h0m1 2h0m8-1h0m20-1h0m1 4h0m5-4h0m1 3h0m3-3h0m4 1h0m3 0h0m2-1h0m3 9h0m1 0h0m1-6h0m0-3h0m2 1h0m1 1h0m0 0h0m3 2h0m4-1h0m1 0h0m1-1h0m2-1h0m0 6h0m1-2h0m0-2h0m4-1h0m0 5h0m1-2h0m0-5h0m4 5h0m2-4h0m2 3h0m2 3h0m1-5h0m1 5h0m1-7h0m3 1h0m4 4h0m1 2h0m1 1h0m1-6h0m0 3h0m1 2h0m1-1h0m2-3h0m1 4h0m2 2h0m0 1h0m1-6h0m2 2h0m0 0h0m1-1h0m0 6h0m1-1h0m2-3h0m0-4h0m2 7h0m2-5h0m3 2h0m1 1h0m0-3h0m1-3h0m1 6h0m3-3h0m1 2h0m2 3h0m4-6h0m3-3h0m0-1h0m2 2h0m1-2h0m2 0h0m3 7h0m1 0h0m2 0h0m2-7h0m1 8h0m1-6h0m0 7h0m3-7h0m0-1h0m2-1h0m2 7h0m2-1h0m2-1h0m0 2h0m2-3h0m1 3h0m2 3h0m0 1h0m1 0h0m1-4h0m6-4h0m0-3h0m0 11h0m1-1h0m0-2h0m2 3h0m2-11h0m2 4h0m1-4h0m5 9h0m2 0h0m0-9h0m1 1h0m3 7h0m4-1h0m0-3h0m4-3h0m1 10h0m5-5h0m1 2h0m2-1h0m3-7h0m4 3h0m3-3h0m1 8h0m21-8h0m2 2h0m9-1h0m14 5h0m18-1h0m3 6h0m154-9h0m-393 15h0m12-3h0m1 5h0m14-6h0m1 0h0m5 4h0m9-4h0m4 1h0m1 3h0m2-1h0m4-2h0m5-1h0m4 2h0m0 2h0m1-3h0m2 6h0m1-2h0m7 3h0m0-7h0m0 2h0m2 5h0m5-8h0m4 4h0m2 6h0m2-5h0m0-2h0m8 0h0m1 2h0m1 2h0m7 2h0m4 0h0m1 1h0m0-7h0m1 5h0m0 1h0m1-7h0m3 0h0m2-2h0m0 2h0m6 4h0m2-3h0m0 2h0m1-5h0m2 3h0m0 3h0m9 0h0m4-1h0m0-6h0m2 9h0m2-9h0m0 8h0m2-7h0m1 0h0m1 5h0m7-1h0m0 0h0m10 2h0m7 1h0m7-7h0m9 8h0m0-7h0m14 9h0m4-7h0m11-4h0m-202 21h0m27-3h0m34 2h0m5-1h0m7-2h0m14-1h0m15-4h0m6 1h0m9 5h0m5 0h0m7 5h0m6-5h0m1-3h0m6 2h0m1 1h0m3-5h0m2 1h0m11 2h0m12 2h0m7-5h0m31 2h0m39 1h0m149-3h0m-323 17h0m6-4h0m16-1h0m4 1h0m81 4h0m-51 6h0m71 9h0"/><path d="M173 17h0m19 2h0m17 2h0m58-2h0m-108 10h0m38-4h0m91 10h0m58-8h0m-196 26h0m41-2h0m-19 10h0m27 3h0m117-3h0m-96 16h0m-91 11h0m64 3h0m41-3h0m52 15h0m-116 12h0m35 0h0m32 1h0m42-6h0m-68 12h0m-68 28h0m36-2h0m12-2h0m35-1h0m81 0h0m-166 32h0m72 1h0m-80 7h0m186-3h0m-168 12h0m47 5h0m41-1h0m-88 10h0m114-3h0m13 7h0m-133 9h0m58 17h0m23-3h0m59 3h0m-125 4h0m6 9h0m110-10h0m124 9h0m-239 3h0m20 7h0m17-6h0m28 6h0m14-6h0m-64 11h0m21 7h0m-39 6h0m0 6h0m10 3h0m19-10h0m-41 18h0m5-7h0m5 8h0m18-6h0m20-1h0m626 4h0m-683 11h0m5-1h0m11 8h0m5-10h0m13 0h0m13 1h0m3 3h0m21 2h0m17 2h0m15-4h0m13 2h0m9 0h0m273 4h0m201-5h0m-602 15h0m6 2h0m20-2h0m0-5h0m25-4h0m0 11h0m11-1h0m4-3h0m154 4h0m40-2h0m64-4h0m461-3h0m-780 12h0m13 8h0m1 0h0m9-7h0m28 2h0m46-5h0m281 8h0m60 1h0m3-5h0m-457 8h0m11 3h0m3-3h0m10 2h0m7 4h0m3 5h0m8-4h0m1-2h0m8 1h0m15-5h0m0 9h0m10-6h0m7 5h0m10-3h0m12-2h0m13 1h0m2-2h0m29 0h0m20 7h0m16-3h0m116 2h0m-289 14h0m16 0h0m13-2h0m3-7h0m1 3h0m6 4h0m3-9h0m7 10h0m5-6h0m9-1h0m2-1h0m8 4h0m4-1h0m4 2h0m8 1h0m13 3h0m7-8h0m22 7h0m68-6h0m28 6h0m-240 8h0m10-6h0m11 2h0m1 8h0m0-8h0m6 5h0m1 0h0m4 1h0m0 2h0m8-5h0m22-4h0m1 10h0m2-10h0m0 9h0m5 1h0m1-7h0m1-4h0m5 3h0m3-2h0m3 2h0m7 1h0m2 7h0m3 0h0m12-8h0m1 6h0m24-3h0m20-6h0m21 6h0m27 5h0m27-11h0m10 10h0m395-2h0m-628 14h0m2-8h0m3-2h0m1 11h0m2-2h0m3 1h0m0-7h0m3 3h0m4 3h0m0-3h0m4 3h0m1 1h0m2-6h0m3 4h0m3-5h0m2 4h0m10 2h0m2-4h0m2 3h0m1-5h0m5 7h0m4-7h0m1 2h0m1 6h0m2-1h0m1-6h0m1 6h0m3 1h0m15-4h0m6-6h0m1 5h0m4-4h0m4 7h0m25 2h0m65-9h0m29 4h0m18-2h0m2 4h0m-242 12h0m0-7h0m3 8h0m2 1h0m5-4h0m5 3h0m1 0h0m1-4h0m6 5h0m2-1h0m0-3h0m2-1h0m0 1h0m1-6h0m0 0h0m1 0h0m0 5h0m3 3h0m2 0h0m2 1h0m2-6h0m1 0h0m2 0h0m0 8h0m1-5h0m3 1h0m2 2h0m0 1h0m1 0h0m4-10h0m4 11h0m0-8h0m2 2h0m2-3h0m1 0h0m2 7h0m0-5h0m1 3h0m1 4h0m0-1h0m7-5h0m1 3h0m5-2h0m1-2h0m0-3h0m2 3h0m1 4h0m5-5h0m1 5h0m0-5h0m4 5h0m2-1h0m1-5h0m1 6h0m7 2h0m1-10h0m2 5h0m5 3h0m0 0h0m3-6h0m8 7h0m1-4h0m5-1h0m4 6h0m2-8h0m3 3h0m1 4h0m1-4h0m6 0h0m2 6h0m6-1h0m1-9h0m8 3h0m0 5h0m1-1h0m3-4h0m4 6h0m5-5h0m1 1h0m2 4h0m7-2h0m14-8h0m35 0h0m76 11h0m-310 11h0m0 0h0m2-9h0m1 10h0m2-10h0m3 10h0m1-5h0m4-6h0m1 3h0m3-2h0m2 1h0m4-2h0m21 1h0m9-1h0m6 5h0m3-2h0m0 4h0m5-5h0m3 6h0m2-5h0m0 4h0m2-1h0m2-2h0m0-1h0m1 0h0m0 8h0m0-1h0m2-9h0m2 0h0m1 8h0m1-4h0m1-2h0m1 3h0m3-5h0m1 9h0m2 1h0m1 0h0m0-10h0m2 10h0m2-4h0m3-4h0m6 0h0m0 2h0m0-4h0m1 9h0m3-7h0m8-1h0m2 5h0m2-3h0m1 3h0m4-7h0m1 5h0m2 5h0m5-6h0m3 4h0m5-5h0m4 0h0m2 2h0m1-3h0m1 1h0m1 3h0m0-2h0m2 6h0m1-2h0m3 0h0m5-3h0m3-5h0m6 10h0m2-3h0m5-1h0m0 3h0m9-2h0m0-1h0m14 3h0m4-8h0m1 10h0m4-10h0m7 1h0m1 8h0m20-5h0m8 0h0m0 0h0m13 6h0m-260 7h0m1 1h0m0 3h0m1-2h0m0-7h0m1 4h0m0-2h0m1 7h0m1-2h0m0-6h0m0 4h0m0-5h0m2 6h0m1-4h0m0 1h0m70-4h0m9 1h0m2 0h0m13 2h0m1-1h0m4 4h0m1-2h0m1-3h0m2 0h0m3 5h0m2-3h0m1-1h0m0-2h0m1 9h0m0 2h0m0-4h0m3-4h0m0 3h0m1 2h0m4 2h0m1-2h0m0-6h0m0-1h0m4 6h0m0 4h0m0-3h0m1-8h0m0 2h0m2 2h0m2 2h0m3 0h0m0 0h0m3-4h0m1-2h0m0 7h0m1-3h0m1-2h0m0 4h0m2 4h0m1-4h0m0 3h0m1 2h0m3-9h0m1 1h0m0 8h0m1 0h0m2-10h0m0 7h0m1 3h0m2 0h0m1-9h0m3 9h0m5-9h0m1 8h0m1 0h0m3-9h0m1 1h0m0 3h0m0 0h0m1 4h0m1-4h0m1 5h0m2-4h0m3-4h0m2 8h0m3-4h0m3 3h0m9-1h0m1-1h0m1-1h0m0 2h0m2-4h0m4 7h0m0-3h0m6-1h0m26-5h0m0 7h0m9-1h0m12-7h0m88 6h0m33 2h0m-381 3h0m2 7h0m1-4h0m0-3h0m1 9h0m0-7h0m0 1h0m0 7h0m2-7h0m117-2h0m1-1h0m3 4h0m1-4h0m1 1h0m2 0h0m6-1h0m1 5h0m0 1h0m1-5h0m1 2h0m2-1h0m2-2h0m1 0h0m1 5h0m1-4h0m1 2h0m2-3h0m1 3h0m2 6h0m1 1h0m3-4h0m1-2h0m1-3h0m0 0h0m1 4h0m0 6h0m2-2h0m2-3h0m2 3h0m1-4h0m4 0h0m0 6h0m0 0h0m1-11h0m0 7h0m7-4h0m0 4h0m0-2h0m3 4h0m3-2h0m5-6h0m2 1h0m0 2h0m4 7h0m2-2h0m1 1h0m1-3h0m2-7h0m0 8h0m1-3h0m2 3h0m2 1h0m1 0h0m15 0h0m14-8h0m3 2h0m3 1h0m3 4h0m6-8h0m7 11h0m37-1h0m-295 10h0m1-6h0m0 9h0m0-5h0m1-3h0m0-1h0m0 9h0m1-6h0m0 4h0m0-7h0m1 7h0m155-7h0m2-2h0m2 4h0m2 1h0m0-3h0m0 5h0m0-4h0m0 1h0m1-2h0m1 5h0m1-4h0m4 5h0m2 2h0m1 0h0m2 0h0m1-7h0m0 6h0m2-1h0m2-3h0m1 4h0m3 1h0m1 0h0m0-10h0m4 7h0m0-2h0m4-5h0m3 11h0m1 0h0m1-9h0m1 4h0m1 5h0m3-2h0m3-2h0m1-3h0m0-4h0m17 3h0m0 0h0m0 1h0m2 7h0m4-5h0m1 0h0m0 3h0m1-4h0m5-5h0m6 7h0m1 4h0m3-2h0m2-8h0m4 9h0m0-4h0m202-3h0m-458 10h0m1-1h0m0 3h0m0 7h0m0-1h0m1-1h0m0 0h0m1-7h0m0 7h0m1-1h0m0-1h0m0 4h0m0-8h0m0 4h0m1 2h0m0-8h0m0 8h0m156-3h0m2-1h0m0 1h0m2 0h0m3 3h0m1-4h0m8-2h0m1 7h0m4 0h0m0-3h0m4 0h0m3-2h0m3 2h0m0 4h0m0-3h0m2-4h0m1 3h0m1 0h0m1 2h0m3-1h0m0 1h0m0-3h0m0 4h0m7-5h0m5-1h0m2 0h0m3 5h0m0-2h0m3 5h0m2-7h0m1 5h0m4-8h0m0 9h0m6 0h0m8-9h0m3 1h0m7 6h0m8-4h0m5 1h0m34 6h0m-298 7h0m0-4h0m1-1h0m0 3h0m2-3h0m0 4h0m0 2h0m0-6h0m0-1h0m0 11h0m1-7h0m0 3h0m0 4h0m0-4h0m152-4h0m8-1h0m0 9h0m2-4h0m6 1h0m1 0h0m0 1h0m1-1h0m1 3h0m0-2h0m1-8h0m5 0h0m1 6h0m2 4h0m3-2h0m1-9h0m1 4h0m0-1h0m6 2h0m3 2h0m1-4h0m0 6h0m0-7h0m1 0h0m1-2h0m1 4h0m0-3h0m2 2h0m2 0h0m6-2h0m1 6h0m0 3h0m2-3h0m3 2h0m1-7h0m0 9h0m1-2h0m1-4h0m3-1h0m5-4h0m1 6h0m3 3h0m1-5h0m2 7h0m2-3h0m0-5h0m1 2h0m4 1h0m1 1h0m4-3h0m0 2h0m0-1h0m21-1h0m22 1h0m82-5h0m-372 22h0m0-3h0m1 2h0m0-4h0m0-1h0m0-1h0m0 0h0m1 6h0m0-3h0m1 5h0m0-6h0m0 3h0m1-3h0m164-1h0m3-1h0m3-3h0m3 0h0m1 1h0m2 4h0m0-4h0m0-1h0m1 3h0m2 1h0m1-2h0m1 3h0m0 5h0m0-8h0m1 1h0m2 3h0m1-6h0m2 3h0m1 0h0m3 8h0m3-9h0m1 8h0m0-8h0m1 3h0m5 5h0m1-3h0m1-6h0m0 2h0m1 4h0m0 3h0m4-2h0m6-1h0m15-5h0m4-1h0m1 6h0m1 4h0m1-3h0m0 1h0m2-5h0m0-4h0m5 6h0m0 0h0m1 1h0m3 1h0m0-7h0m4 5h0m3 3h0m2-7h0m4 0h0m12-1h0m12-1h0m16 3h0m3 0h0m23 2h0m216-2h0m-546 11h0m0 5h0m1-7h0m0 3h0m0 3h0m0 1h0m1 1h0m1 1h0m0 1h0m0-9h0m1 5h0m0 5h0m184-10h0m1 2h0m4 0h0m2 3h0m2-3h0m1 0h0m0 6h0m2 0h0m1-7h0m1 4h0m6-1h0m2 6h0m1-8h0m2-1h0m0 2h0m0-1h0m2 2h0m1 4h0m1 1h0m1 1h0m0-9h0m2 2h0m9 7h0m3-2h0m2-5h0m8-4h0m0 1h0m0 9h0m2 0h0m5-6h0m8 3h0m13 4h0m23 0h0m2-7h0m1 4h0m-296 14h0m0-8h0m1 0h0m0 3h0m1-1h0m0 7h0m0-8h0m1-1h0m0 6h0m0-7h0m0 8h0m0-3h0m198 4h0m2-2h0m0-3h0m2 3h0m1 2h0m1-8h0m1 4h0m1-3h0m7-2h0m0 5h0m5 3h0m8-5h0m2 5h0m3-4h0m0 6h0m1-4h0m4 0h0m2-1h0m2-3h0m11 2h0m3-1h0m1-3h0m2-1h0m3 7h0m1-6h0m1 1h0m6 9h0m7-1h0m8 1h0m16-8h0m5 8h0m5-10h0m8 9h0m3-4h0m4-6h0m8 9h0m165-2h0m-500 11h0m0 2h0m1 0h0m0 3h0m0-2h0m0 1h0m1-7h0m0 6h0m0-3h0m0-6h0m1 8h0m0-7h0m198 1h0m1-2h0m0 11h0m2-10h0m0 5h0m0 3h0m4 1h0m3-2h0m1 2h0m0 1h0m2-2h0m5 1h0m3 1h0m4-10h0m0 5h0m0 1h0m1-7h0m0 8h0m0-6h0m2 8h0m1-3h0m4 0h0m11-5h0m2 0h0m3 8h0m12 0h0m3-5h0m19 5h0m19 1h0m24-3h0m1 0h0m67-8h0m-396 23h0m0-4h0m1 2h0m0-8h0m0 2h0m1 6h0m1-6h0m0 4h0m1 3h0m0-1h0m0-1h0m0 0h0m0-8h0m0 3h0m1 8h0m0-9h0m201 9h0m0 0h0m4-10h0m1 10h0m0-9h0m0 9h0m2-3h0m0 2h0m0-10h0m2 9h0m1 1h0m0-4h0m1-3h0m1 0h0m0 0h0m1 2h0m1 3h0m0 2h0m3-4h0m5 1h0m2-6h0m4 9h0m0-4h0m4 5h0m2-3h0m4-6h0m4 8h0m0-4h0m5-4h0m1-2h0m5 1h0m2 9h0m19-4h0m23-3h0m25 1h0m26 1h0m-353 9h0m0 6h0m0-3h0m0-5h0m1 2h0m1 9h0m0-6h0m1 6h0m0-6h0m0-3h0m1-2h0m190 11h0m2-5h0m2 2h0m0 2h0m2 0h0m4-6h0m2-4h0m2 0h0m1 8h0m2 1h0m1-3h0m0 0h0m1 4h0m2-7h0m3 4h0m1-5h0m3 8h0m0-3h0m3-7h0m0 9h0m0-5h0m8 0h0m4 7h0m4-8h0m2 5h0m3-7h0m12 1h0m2 3h0m6 6h0m-269 1h0m3 9h0m1-7h0m1-1h0m1 1h0m1-2h0m1 2h0m0 6h0m0-6h0m1 7h0m2-4h0m3-1h0m6 3h0m1 4h0m0 0h0m4 0h0m155-1h0m7-6h0m1 5h0m2 1h0m0-4h0m3 1h0m0 3h0m2-10h0m2 8h0m0 2h0m1-7h0m1 0h0m3 0h0m0 2h0m0-2h0m1-3h0m2 2h0m2 9h0m0-10h0m2 7h0m1-4h0m2-3h0m2 4h0m0 3h0m2-5h0m1 7h0m1 0h0m0-6h0m2-2h0m0 0h0m1 2h0m0 6h0m1-6h0m6 7h0m5-8h0m1-1h0m1-1h0m18 1h0m4 9h0m17-3h0m5 1h0m4-4h0m50-1h0m27 1h0m-350 13h0m3-5h0m5 7h0m2-8h0m3 8h0m2-2h0m0-4h0m2 3h0m1-3h0m1 3h0m0 2h0m5-2h0m2-1h0m1-1h0m0 3h0m1 0h0m2-2h0m0-1h0m4 3h0m5-1h0m2 1h0m2 0h0m2 4h0m3-1h0m2 1h0m3-1h0m1-1h0m2 0h0m2 2h0m9 1h0m9 0h0m54-3h0m6 1h0m1-1h0m3-1h0m1-2h0m8 1h0m2 3h0m0 1h0m2-3h0m3-1h0m5-1h0m0-2h0m4 6h0m0 2h0m3-9h0m1-2h0m1 4h0m1 0h0m1-2h0m1 1h0m5 2h0m1 6h0m5-4h0m1 0h0m5 3h0m1-10h0m1 7h0m2-1h0m1 0h0m4-6h0m2 0h0m2 8h0m1-1h0m5 1h0m11-3h0m4 0h0m3 6h0m0-8h0m0 0h0m10-1h0m1 5h0m2-1h0m4 3h0m6-5h0m6 2h0m5 5h0m4-10h0m4 10h0m15-8h0m4 1h0m32-4h0m-312 22h0m1-6h0m13-3h0m1 6h0m8-7h0m0 1h0m2 8h0m6-6h0m2-3h0m0 0h0m5 6h0m4-6h0m1 11h0m1-8h0m1 2h0m1 0h0m1 2h0m0-2h0m0-5h0m2 8h0m2-5h0m1-1h0m3 0h0m1 9h0m5-11h0m1 3h0m1 0h0m0-3h0m3 11h0m3-4h0m1-3h0m0 1h0m1-4h0m3-1h0m0 4h0m0 2h0m0 4h0m0-6h0m1-2h0m0 3h0m2-2h0m2 1h0m0 5h0m1-9h0m0 2h0m4 8h0m0 1h0m0-8h0m1 5h0m2 2h0m1-2h0m1 2h0m3-6h0m1 3h0m1 4h0m2 0h0m4-1h0m1-6h0m3 7h0m2 0h0m0-1h0m4-7h0m3 4h0m1-7h0m1 1h0m0 5h0m4 5h0m0-10h0m0 4h0m1-2h0m5 7h0m0-7h0m1 4h0m0-4h0m2 0h0m3 2h0m3-2h0m1-1h0m4-1h0m2 10h0m0-4h0m2-4h0m1 6h0m0-1h0m4-7h0m1 10h0m4-11h0m0 5h0m3-1h0m4-4h0m0 7h0m0-3h0m2 4h0m0-1h0m1 2h0m5-5h0m1 7h0m0-11h0m3 7h0m1-2h0m1-2h0m0 3h0m3-2h0m0-4h0m2 4h0m1 1h0m3-4h0m2 2h0m1-2h0m5 3h0m4 0h0m4-4h0m1 5h0m0-5h0m3 11h0m1 0h0m2-5h0m2-1h0m9-1h0m1 4h0m1-7h0m8 5h0m3-3h0m1 7h0m1-9h0m6 6h0m7 3h0m2-6h0m4 2h0m11-5h0m5 10h0m8 0h0m236-3h0m41 3h0m-507 2h0m4-1h0m28 0h0m1 1h0m1 6h0m9-7h0m1 0h0m2 10h0m3-10h0m4 2h0m2 0h0m3 2h0m0-1h0m3 2h0m0-1h0m5-4h0m1 0h0m6 10h0m5-9h0m4 3h0m1-1h0m2 8h0m0-7h0m3 1h0m1 3h0m4-7h0m0 4h0m1-1h0m0 0h0m6-3h0m1 2h0m1 2h0m1 4h0m3-3h0m2 2h0m1-3h0m3 0h0m0 1h0m3-4h0m2 7h0m4 1h0m1-8h0m9 0h0m4 2h0m12 2h0m1-2h0m5 5h0m1-4h0m2-3h0m6 2h0m2-1h0m2 4h0m1-7h0m2 8h0m0-7h0m1 2h0m1-3h0m3 3h0m15 2h0m15-4h0m48 2h0m50 5h0m-236 6h0m6 8h0m11-4h0m2-3h0m3 0h0m3-1h0m5-1h0m1 1h0m9 7h0m2-6h0m7 8h0m3-10h0m10 10h0m16-1h0m19-5h0m7-5h0m3 9h0m1-2h0m3 3h0m74-3h0m-159 12h0m14-5h0m2 8h0m9-2h0m19-8h0m19 4h0m49 2h0m-99 6h0m18 0h0m63 2h0m25 7h0m94-3h0"/><path d="M167 23h0m27 0h0m586-8h0m-414 11h0m-195 19h0m1 0h0m109 5h0m8 7h0m11 1h0m-158 13h0m110-7h0m-105 10h0m35 3h0m-9 15h0m5-1h0m33 1h0m323-2h0m-343 12h0m9 14h0m52-5h0m12 1h0m-105 9h0m22 6h0m90-1h0m-115 12h0m9 4h0m40-5h0m29 0h0m15-1h0m54 0h0m38 3h0m-203 19h0m99 5h0m-63 20h0m69 6h0m-82 7h0m11-4h0m15 11h0m6-1h0m-39 12h0m83-7h0m34 6h0m-120 3h0m22 3h0m13-3h0m7 3h0m150 0h0m154-1h0m-349 21h0m49-7h0m-54 19h0m36 0h0m15-3h0m206-7h0m-244 21h0m22 0h0m7-4h0m40 4h0m-34 3h0m1 10h0m5 0h0m-25 3h0m37 4h0m13 1h0m5 3h0m7-7h0m230 6h0m84-2h0m-410 13h0m6-5h0m12 5h0m8 2h0m5-3h0m3 3h0m9-6h0m9 1h0m50 2h0m-97 8h0m6 5h0m7-3h0m12-4h0m8 2h0m46 5h0m189-4h0m97 0h0m11 1h0m257 5h0m144-1h0m-771 11h0m3-8h0m3 11h0m5 0h0m18-9h0m0 7h0m1 0h0m0-1h0m36-8h0m10 4h0m500 6h0m-578 10h0m10-3h0m2 1h0m3-2h0m6 4h0m8 1h0m8-4h0m15 4h0m21-8h0m107 2h0m38 0h0m481 1h0m90-1h0m-791 15h0m12 2h0m19 2h0m17-3h0m13 3h0m7-1h0m3-3h0m7 4h0m31-3h0m24-5h0m458 0h0m-603 15h0m8 6h0m3-7h0m11-3h0m3 5h0m11-1h0m4 5h0m12-1h0m2-1h0m5-7h0m0 4h0m9 2h0m2 4h0m21-7h0m18-2h0m1 7h0m22-7h0m30-2h0m30 7h0m5-5h0m75 2h0m204 1h0m61-4h0m-538 15h0m1-4h0m11 2h0m4-1h0m0 4h0m12 2h0m1-2h0m2-3h0m3 1h0m6 3h0m7-1h0m18-4h0m0 10h0m4-7h0m3-3h0m2 7h0m0-1h0m3 3h0m3-1h0m23-8h0m2 1h0m9 8h0m5-5h0m14 1h0m3-1h0m24-2h0m39 6h0m56-1h0m29 3h0m237-6h0m-528 12h0m1-4h0m6 1h0m2 4h0m8-1h0m2-5h0m1 4h0m0 7h0m3-4h0m3 1h0m0 1h0m5 0h0m1 2h0m1-6h0m3 4h0m5-9h0m0 7h0m2-2h0m3 3h0m2-4h0m5-1h0m1 7h0m2-9h0m0-1h0m4 3h0m0-2h0m2 7h0m4-2h0m2 5h0m0-7h0m11-4h0m6 1h0m6 3h0m3 7h0m3-9h0m0 8h0m6-4h0m1 2h0m14-6h0m1 9h0m9-3h0m4-4h0m15-1h0m28 2h0m0 2h0m77 3h0m62-9h0m20 1h0m-336 13h0m1-1h0m7 9h0m0-5h0m0 3h0m0 0h0m0-4h0m2 6h0m3-2h0m4-4h0m1 5h0m0-6h0m1-3h0m0 8h0m0 2h0m1-5h0m2-2h0m3 2h0m2-3h0m0 0h0m2 6h0m2-7h0m1-1h0m0 4h0m1 1h0m1 3h0m1-2h0m0-6h0m1 6h0m2 2h0m0-1h0m0-2h0m1-6h0m2 2h0m0 5h0m1 3h0m3-1h0m1-8h0m0 6h0m0-6h0m3 0h0m1 7h0m2-1h0m4-7h0m0 5h0m1-2h0m2 0h0m2 2h0m1 0h0m1 3h0m1-8h0m1 8h0m0 3h0m3-8h0m0 6h0m4-9h0m2 3h0m3 7h0m1-10h0m2 0h0m1 1h0m5-1h0m0 10h0m1-5h0m1 3h0m0 0h0m4-2h0m2-5h0m0 5h0m6-2h0m5 7h0m11-5h0m2 2h0m6 0h0m0-3h0m1 6h0m0-3h0m2 2h0m1 1h0m6 0h0m1-9h0m4 1h0m6 6h0m1 1h0m3 0h0m1-4h0m7 3h0m4 2h0m6-10h0m0-1h0m5 7h0m6-3h0m5-2h0m0 5h0m11 4h0m9-8h0m13 5h0m7-8h0m83 9h0m-308 3h0m0 4h0m0-2h0m0 3h0m2 1h0m0-3h0m1-1h0m1-2h0m1 10h0m2-3h0m0-4h0m1 4h0m3 3h0m1-1h0m1-5h0m1-3h0m1 6h0m1-7h0m1 5h0m6 0h0m18-5h0m4 0h0m5 2h0m1 2h0m0 1h0m2 1h0m0-2h0m1 4h0m4-1h0m2-4h0m0 7h0m3-8h0m1 8h0m1-2h0m1 3h0m1-1h0m1-7h0m1 4h0m1 2h0m1 1h0m2 0h0m0-3h0m2-1h0m0 5h0m0-8h0m4 0h0m5-3h0m2 3h0m1 2h0m0 3h0m3-2h0m1 2h0m1-6h0m4 2h0m0 3h0m2-6h0m2 7h0m1 1h0m0-1h0m1 0h0m1-1h0m1-6h0m0 8h0m3 2h0m3-9h0m4 2h0m1-3h0m4 2h0m0 5h0m2-2h0m0-5h0m0 9h0m7-9h0m2 9h0m1 1h0m0-7h0m3-1h0m4 5h0m6-4h0m0 6h0m6-7h0m1-2h0m3 6h0m24 2h0m1-4h0m0-4h0m1 6h0m0-6h0m9 4h0m12 2h0m3 0h0m1 4h0m7-4h0m6 1h0m2-1h0m8-6h0m5-1h0m1 10h0m23-3h0m11 0h0m9-6h0m8 7h0m-286 9h0m1-1h0m0 5h0m1-4h0m0-1h0m1 6h0m1-2h0m0 0h0m3-8h0m1 6h0m84-5h0m0 0h0m5-1h0m3 3h0m3 2h0m1 0h0m3 1h0m1 0h0m1 3h0m3-6h0m1 7h0m3-2h0m0 3h0m3-1h0m2-1h0m2 0h0m0-5h0m4 1h0m4-5h0m4 3h0m1 8h0m1-6h0m2 0h0m3 4h0m5-7h0m0 4h0m1-3h0m1 3h0m2 2h0m2 0h0m0-7h0m10 6h0m2-7h0m7 0h0m4 10h0m5-10h0m1 7h0m3-6h0m0 10h0m3-2h0m0-2h0m8-4h0m3 8h0m2-2h0m3-7h0m3 9h0m6 0h0m4-4h0m2 4h0m1-9h0m11 0h0m11 1h0m13 4h0m18 4h0m2-1h0m8-10h0m312 9h0m-595 5h0m0 0h0m0 2h0m0 7h0m2-1h0m0 1h0m1-7h0m0 3h0m0-3h0m1-1h0m1 1h0m0 2h0m0 3h0m1-6h0m0 1h0m115-4h0m6 0h0m4 2h0m1 0h0m0-2h0m6 2h0m2-1h0m0-1h0m5 0h0m0 1h0m2 7h0m1-1h0m1-3h0m2-2h0m1-2h0m1 10h0m0-10h0m0 9h0m2 2h0m1-9h0m0 3h0m0 6h0m2-5h0m6-3h0m0 4h0m2 3h0m4 0h0m1 1h0m0-2h0m2-9h0m1 7h0m0-2h0m1-4h0m1 5h0m2-1h0m3-3h0m2 1h0m0 8h0m4-1h0m1-10h0m10 10h0m2-7h0m4 7h0m2-7h0m3 3h0m4-3h0m1 4h0m6-7h0m2 11h0m1-1h0m6-9h0m3 9h0m8-4h0m5-4h0m8 0h0m4-1h0m33 7h0m18 1h0m-308 5h0m0 5h0m0 1h0m1-5h0m1-3h0m0 3h0m1 0h0m1 5h0m156-7h0m1 2h0m0 0h0m1-1h0m2 4h0m1-2h0m0 3h0m3 2h0m0-9h0m1 8h0m0 2h0m1 0h0m3-9h0m0 9h0m2-1h0m1-7h0m0 7h0m0-7h0m2 6h0m2-5h0m0 3h0m1 0h0m4-4h0m1 7h0m1-4h0m1-3h0m4 2h0m3-3h0m9 6h0m1 4h0m3-9h0m0 0h0m0-1h0m3 7h0m2 0h0m2-2h0m3-6h0m3 7h0m2 1h0m0-5h0m2 7h0m2-2h0m0-7h0m1 10h0m2-9h0m0 0h0m2 6h0m2 0h0m4-2h0m0 5h0m6-8h0m1 2h0m2-5h0m0 0h0m2 4h0m3 0h0m1-3h0m1 1h0m7 6h0m2-8h0m2 5h0m7 3h0m3 2h0m41-5h0m1 5h0m-317 12h0m1 1h0m1-8h0m1-1h0m1-1h0m0-1h0m0 5h0m153 3h0m4 2h0m3-6h0m2 3h0m0 0h0m1-1h0m6-6h0m2 0h0m0 11h0m0-6h0m1 4h0m1-5h0m0 4h0m1 0h0m0-6h0m3 8h0m0 0h0m2-8h0m5 1h0m1-3h0m1 8h0m1 3h0m0-7h0m0-1h0m0 2h0m2-3h0m3 6h0m0 3h0m2-4h0m0-6h0m6 9h0m3-4h0m1-6h0m1 10h0m9-7h0m3-1h0m7-1h0m0 0h0m5 2h0m6-1h0m3 3h0m1 4h0m2-8h0m1 8h0m1-2h0m7-4h0m7-1h0m15 5h0m29-2h0m22-3h0m4 1h0m-331 20h0m0-4h0m0-1h0m1-3h0m0 1h0m0 0h0m0 6h0m0-7h0m0 4h0m1-5h0m1 7h0m0-1h0m1-3h0m151-2h0m3 2h0m3-3h0m2 4h0m8 3h0m0-9h0m1 1h0m0 7h0m1-4h0m0-4h0m4 9h0m3-6h0m2 8h0m1-4h0m3 2h0m0 2h0m1-2h0m1-2h0m0 0h0m2-6h0m3 10h0m0-2h0m1 1h0m2 0h0m0-10h0m0 6h0m1 0h0m1-4h0m4 7h0m9 0h0m2-5h0m2 6h0m0-7h0m2 7h0m2 0h0m4 0h0m3-1h0m0-9h0m4 7h0m0-3h0m3 0h0m13-4h0m1 4h0m15-2h0m2 1h0m7-3h0m4 2h0m4-1h0m6-1h0m8 11h0m64-11h0m-357 19h0m1-7h0m1 4h0m0-2h0m0 8h0m0-3h0m1-7h0m0 3h0m1 6h0m0-8h0m0 0h0m0 5h0m168-6h0m5 3h0m1-1h0m2 2h0m2 4h0m3-8h0m1 10h0m0-8h0m1 5h0m1 0h0m0-7h0m3 0h0m0 2h0m1 5h0m0-6h0m3 10h0m1-11h0m1 3h0m1 7h0m1-2h0m1-2h0m1-5h0m0 10h0m0-9h0m2 3h0m1-2h0m2 6h0m1-8h0m3 5h0m0 3h0m4-9h0m2 9h0m2-8h0m5 4h0m0 5h0m1-2h0m2-3h0m5 1h0m3-1h0m3 3h0m4-7h0m1 2h0m2 3h0m5-1h0m0 4h0m3-5h0m0 5h0m9-3h0m11-5h0m18 9h0m1 0h0m0-5h0m-291 10h0m0 6h0m2-6h0m0 0h0m0 2h0m1 3h0m0-4h0m0 6h0m0 0h0m0-9h0m187 0h0m1 3h0m1 3h0m0-3h0m2 4h0m3-1h0m0 2h0m2-8h0m2-1h0m6 1h0m1 6h0m2-3h0m2 2h0m2-2h0m5 2h0m2-4h0m3 4h0m2 1h0m3-6h0m0 2h0m2 1h0m1 0h0m0-4h0m3 2h0m1-1h0m0 8h0m2 2h0m11-4h0m1-7h0m1 3h0m4 0h0m7 2h0m17 1h0m6-1h0m48 3h0m64-6h0m170 5h0m-568 14h0m1-8h0m1 3h0m0-4h0m1 4h0m1 1h0m195-4h0m0-1h0m1 0h0m3 5h0m1 6h0m0-7h0m1 4h0m1-5h0m0 6h0m0-2h0m1-1h0m3-4h0m1 6h0m2 0h0m5-5h0m1 0h0m1-3h0m4 4h0m1 4h0m5-3h0m1-5h0m4 0h0m0 8h0m1-7h0m6 8h0m5-8h0m5 4h0m0-1h0m5 7h0m7-10h0m5-1h0m9 1h0m5 5h0m17-6h0m30 8h0m-329 13h0m0-5h0m0-3h0m0 3h0m1-3h0m0 7h0m1-3h0m0 4h0m0 1h0m0-7h0m1 0h0m0-2h0m195 6h0m3-5h0m3 2h0m3 2h0m0-1h0m2 6h0m3-4h0m3 2h0m0-4h0m1-1h0m0 1h0m1-2h0m5 8h0m0-9h0m3 5h0m1-3h0m5-4h0m1 10h0m9-4h0m6-4h0m3 5h0m2-6h0m1 4h0m1 0h0m4 5h0m3-5h0m1 0h0m1 6h0m13-10h0m10 6h0m-286 10h0m0 6h0m0-5h0m0-6h0m0 0h0m0 2h0m1 4h0m1 0h0m1-2h0m0 3h0m0-5h0m1 2h0m203-2h0m0 2h0m4-2h0m4 3h0m4 1h0m0 3h0m1 0h0m3 2h0m1-3h0m1-6h0m0-2h0m6 6h0m5 4h0m0-6h0m3 0h0m4 4h0m0-4h0m5 2h0m73-5h0m340 1h0m-662 13h0m0-1h0m1 1h0m1 0h0m0 6h0m2-8h0m0 10h0m0-10h0m1 7h0m198-6h0m1 0h0m0 2h0m0 0h0m2 4h0m5-7h0m1 9h0m5-8h0m0 0h0m3 8h0m1 0h0m3-6h0m2 1h0m1 4h0m0-9h0m6 1h0m2 3h0m0-3h0m2 2h0m4 8h0m3-3h0m7-8h0m4 6h0m0 1h0m2 0h0m1-5h0m3-1h0m2 4h0m3 6h0m11 0h0m9-3h0m10-3h0m2-2h0m94 6h0m-390 12h0m0-8h0m2 3h0m2 3h0m1 0h0m0-2h0m3 5h0m4-5h0m0 5h0m1-3h0m3 2h0m1 0h0m2 2h0m1-2h0m1 2h0m4 0h0m150 0h0m3 0h0m3-1h0m1 1h0m2-2h0m6 1h0m1-3h0m1-1h0m0 4h0m1-4h0m1-5h0m8 8h0m4-3h0m1 0h0m2-5h0m2 3h0m1-2h0m3-1h0m0 3h0m1 4h0m4-7h0m2 2h0m1 2h0m1 2h0m1 0h0m0-7h0m3 9h0m3-8h0m3 7h0m2-5h0m4-3h0m7 8h0m1-1h0m4-5h0m3 7h0m9-3h0m3-2h0m1 7h0m0-11h0m13 9h0m21 0h0m17-3h0m27-2h0m15 7h0m11-4h0m-365 12h0m1-3h0m2-1h0m2 8h0m1-6h0m6 6h0m1-2h0m2 1h0m1-5h0m0 2h0m4-5h0m1 3h0m0-3h0m1-1h0m2 3h0m2 1h0m3 1h0m2-2h0m1 6h0m0-8h0m0 2h0m2 1h0m1 5h0m0-7h0m0 4h0m0-4h0m2 3h0m2 2h0m1-3h0m1 4h0m0-3h0m1 2h0m2 1h0m2-1h0m0 1h0m2 2h0m3-1h0m0-1h0m6 1h0m1 0h0m1 1h0m9 0h0m4 0h0m2 0h0m1 0h0m51 0h0m2-1h0m3-2h0m2 1h0m2 2h0m1-3h0m2 3h0m1-6h0m1 6h0m7-1h0m3-2h0m2 1h0m4-4h0m1 0h0m3 0h0m1-2h0m1 2h0m1 0h0m0 5h0m1-9h0m1 10h0m2-2h0m1-1h0m1-5h0m0-2h0m0 6h0m1 3h0m3-9h0m2 7h0m3-4h0m7 6h0m1-2h0m1-3h0m3-2h0m3 0h0m1 3h0m1-1h0m1 0h0m1-4h0m1 4h0m0 2h0m6-3h0m3 0h0m0 4h0m1-4h0m1-2h0m5 3h0m1 0h0m0-5h0m1 0h0m2 0h0m1 5h0m0 2h0m1-7h0m0 11h0m1-10h0m1 9h0m3-5h0m6 2h0m0-7h0m5 9h0m5-5h0m2 2h0m1-6h0m65 9h0m400 1h0m-663 6h0m3-2h0m1 2h0m0 3h0m5 0h0m1-6h0m2 0h0m0 1h0m2 3h0m2-3h0m1 7h0m1-1h0m1-5h0m4-2h0m0 1h0m0 0h0m1 2h0m5 5h0m2-9h0m1 5h0m0-1h0m2-3h0m2 2h0m0-2h0m1 4h0m1-4h0m2 1h0m0 4h0m0-4h0m2-2h0m0 1h0m3 6h0m3-4h0m2 5h0m1-2h0m7 3h0m1 0h0m1 0h0m0-1h0m4 2h0m1-2h0m2-4h0m3 6h0m1-5h0m1 6h0m0-5h0m4 4h0m1-2h0m1-1h0m2-6h0m0 10h0m3-1h0m1-9h0m1 1h0m0 4h0m1-6h0m1 3h0m1 4h0m7 3h0m2-10h0m0 4h0m1-3h0m0 3h0m0 7h0m4-9h0m1 1h0m0-3h0m4 4h0m1-2h0m4 5h0m4-6h0m1 4h0m7-5h0m1 8h0m0-3h0m1 1h0m2 3h0m2-6h0m1 3h0m2-3h0m0-3h0m1 5h0m0 6h0m1-9h0m1 4h0m11 1h0m3 2h0m6-2h0m1-7h0m2 7h0m4-3h0m5 2h0m3-3h0m2 6h0m3-5h0m1-1h0m3 2h0m5 5h0m10-7h0m2 2h0m2 3h0m20-1h0m50-6h0m191 0h0m-491 17h0m9-5h0m30 8h0m11-5h0m0-3h0m14 8h0m1-8h0m1 4h0m2-5h0m13 4h0m4 6h0m3-5h0m1-4h0m1 1h0m2 9h0m0-9h0m2 0h0m0 5h0m7 2h0m1-9h0m2 7h0m3 0h0m7-6h0m2 9h0m2-2h0m7-5h0m3 2h0m1-3h0m0 1h0m1-3h0m1 3h0m4 3h0m2-4h0m1 0h0m2 5h0m1-4h0m12 2h0m0-5h0m0 11h0m3-8h0m6-3h0m1 10h0m7-8h0m1 3h0m0 1h0m5-1h0m0-4h0m9 8h0m6-2h0m7-3h0m6-2h0m1 1h0m6-1h0m1 1h0m4 6h0m4 2h0m52 0h0m73-4h0m-255 15h0m10-4h0m3-6h0m8 4h0m2-3h0m1 4h0m25-5h0m3 6h0m2 5h0m5-11h0m3 6h0m4 0h0m5-2h0m3 7h0m5-11h0m8 5h0m3-1h0m5 5h0m0-7h0m2 2h0m1-4h0m8 9h0m3-7h0m1 3h0m0 1h0m1 0h0m7 3h0m7-8h0m5 3h0m14-2h0m36 9h0m287-5h0m-457 15h0m37-6h0m36-3h0m51 10h0m-46 4h0m-10 14h0m277 24h0"/></g></g></g><line x1="46.5" y1="182.75" x2="471" y2="182.75" stroke="#000" stroke-width="1.5" stroke-dasharray="3.8 5.43"/><line x1="46.5" y1="244.07" x2="196.50" y2="244.07" stroke="#000" stroke-width="1.5" stroke-dasharray="3.8 5.43"/><line x1="196.50" y1="331" x2="196.50" y2="12.5" stroke="#000" stroke-width="1.5" stroke-dasharray="3.8 5.4"/><line x1="97.70" y1="331" x2="97.70" y2="182.75" stroke="#000" stroke-width="1.5" stroke-dasharray="3.8 5.4"/><path d="M46.5 12.5V331.5H471" fill="none" stroke="#000" stroke-width="1.1"/><line x1="43.3" y1="33.83" x2="46.5" y2="33.83" stroke="#000" stroke-width="0.8"/><text x="41.3" y="37.83" font-size="11.3" text-anchor="end" fill="#000">12</text><line x1="43.3" y1="86.39" x2="46.5" y2="86.39" stroke="#000" stroke-width="0.8"/><text x="41.3" y="90.39" font-size="11.3" text-anchor="end" fill="#000">9</text><line x1="43.3" y1="138.95" x2="46.5" y2="138.95" stroke="#000" stroke-width="0.8"/><text x="41.3" y="142.95" font-size="11.3" text-anchor="end" fill="#000">6</text><line x1="43.3" y1="182.75" x2="46.5" y2="182.75" stroke="#000" stroke-width="0.8"/><text x="41.3" y="186.75" font-size="11.3" text-anchor="end" fill="#000">3.5</text><line x1="43.3" y1="244.07" x2="46.5" y2="244.07" stroke="#000" stroke-width="0.8"/><text x="41.3" y="248.07" font-size="11.3" text-anchor="end" fill="#000">0</text><line x1="43.3" y1="305.39" x2="46.5" y2="305.39" stroke="#000" stroke-width="0.8"/><text x="41.3" y="309.39" font-size="11.3" text-anchor="end" fill="#000">-3.5</text><line x1="97.70" y1="331.5" x2="97.70" y2="334.7" stroke="#000" stroke-width="0.8"/><text x="97.70" y="345.4" font-size="11.3" text-anchor="middle" fill="#000">0</text><line x1="196.50" y1="331.5" x2="196.50" y2="334.7" stroke="#000" stroke-width="0.8"/><text x="196.50" y="345.4" font-size="11.3" text-anchor="middle" fill="#000">3.5</text><line x1="267.08" y1="331.5" x2="267.08" y2="334.7" stroke="#000" stroke-width="0.8"/><text x="267.08" y="345.4" font-size="11.3" text-anchor="middle" fill="#000">6</text><line x1="351.77" y1="331.5" x2="351.77" y2="334.7" stroke="#000" stroke-width="0.8"/><text x="351.77" y="345.4" font-size="11.3" text-anchor="middle" fill="#000">9</text><line x1="436.46" y1="331.5" x2="436.46" y2="334.7" stroke="#000" stroke-width="0.8"/><text x="436.46" y="345.4" font-size="11.3" text-anchor="middle" fill="#000">12</text><text x="258.7" y="359.2" font-size="11.5" text-anchor="middle" fill="#000">Productivity</text><text x="0" y="0" font-size="11.5" text-anchor="middle" fill="#000" transform="translate(11.4 172.5) rotate(-90)">Journal prestige</text><text x="7.4" y="10.4" font-size="13.8" text-anchor="middle" fill="#000">(a)</text><rect x="156.3" y="162.4" width="35.5" height="16.099999999999994" rx="4" fill="#e6e6e6" stroke="#333" stroke-width="0.9"/><text x="174.1" y="174.4" font-size="11.5" text-anchor="middle" fill="#000" font-style="italic">I++</text><rect x="200.4" y="162.4" width="36.19999999999999" height="16.099999999999994" rx="4" fill="#e6e6e6" stroke="#333" stroke-width="0.9"/><text x="218.5" y="174.4" font-size="11.5" text-anchor="middle" fill="#000" font-style="italic">IP++</text><rect x="200.4" y="187.4" width="36.19999999999999" height="16.0" rx="4" fill="#e6e6e6" stroke="#333" stroke-width="0.9"/><text x="218.5" y="199.4" font-size="11.5" text-anchor="middle" fill="#000" font-style="italic">P++</text><rect x="57.4" y="223.5" width="35.199999999999996" height="16.099999999999994" rx="4" fill="#e6e6e6" stroke="#333" stroke-width="0.9"/><text x="75.0" y="235.6" font-size="11.5" text-anchor="middle" fill="#000" font-style="italic">I+P-</text><rect x="101.7" y="223.5" width="35.89999999999999" height="16.099999999999994" rx="4" fill="#e6e6e6" stroke="#333" stroke-width="0.9"/><text x="119.7" y="235.6" font-size="11.5" text-anchor="middle" fill="#000" font-style="italic">I+P+</text><rect x="57.4" y="248.2" width="35.199999999999996" height="16.100000000000023" rx="4" fill="#e6e6e6" stroke="#333" stroke-width="0.9"/><text x="75.0" y="260.2" font-size="11.5" text-anchor="middle" fill="#000" font-style="italic">I-P-</text><rect x="101.7" y="248.2" width="35.89999999999999" height="16.100000000000023" rx="4" fill="#e6e6e6" stroke="#333" stroke-width="0.9"/><text x="119.7" y="260.2" font-size="11.5" text-anchor="middle" fill="#000" font-style="italic">I-P+</text><rect x="336.4" y="15.4" width="127.10000000000002" height="95.69999999999999" fill="#fff"/><g clip-path="url(#ci)" fill="none" stroke-linecap="round"><g transform="scale(0.5)"><path stroke="#965fb4" stroke-width="2.6" d="M687 95h0m0-7h0m0 3h0m7 3h0m1-10h0m-10 15h0m1 5h0m2-8h0m0 12h0m-3 21h0m1 2h0m1 0h0m0 0h0m1 0h0m1 0h0m31-1h0m-36 9h0m1-5h0m0 1h0m0 8h0m0 0h0m0-11h0m1 2h0m0 9h0m0-7h0m0 6h0m0-4h0m0-4h0m0 5h0m1-7h0m0 11h0m0-3h0m1 3h0m0-7h0m0 0h0m0 7h0m0-4h0m0-5h0m1 9h0m0-4h0m0-1h0m0-4h0m1-2h0m1 8h0m0 2h0m0-1h0m1-3h0m2 5h0m-10 10h0m0 1h0m1-9h0m0 0h0m0 9h0m0-1h0m0-7h0m0 3h0m0 6h0m0-1h0m0-1h0m0-5h0m0 4h0m0-7h0m1 7h0m0-7h0m0 4h0m0-2h0m0 5h0m0-6h0m0 3h0m0 2h0m0-1h0m1-1h0m1-5h0m0 9h0m0 2h0m0-3h0m0-6h0m0 4h0m1 2h0m0-7h0m0 0h0m0 8h0m0-2h0m1-6h0m0 10h0m0-5h0m0-1h0m0-3h0m0 5h0m1-1h0m1 1h0m2-4h0m0-3h0m2 11h0m0-1h0m1-2h0m3-5h0m2 7h0m1-6h0m0 0h0m14 3h0m12-1h0m138-6h0m-183 22h0m0-1h0m0-6h0m1-1h0m0 3h0m0 4h0m0-6h0m0 3h0m0 1h0m0 4h0m0-7h0m0 4h0m0-4h0m0-2h0m0 5h0m0 0h0m0-2h0m0-1h0m0 5h0m0-3h0m0 3h0m1 2h0m0-11h0m0 3h0m0 7h0m0 1h0m0-11h0m0 1h0m0 1h0m1 0h0m0 4h0m0-6h0m0 4h0m0 3h0m0 2h0m0-2h0m0-2h0m1 2h0m0 4h0m0-4h0m1-7h0m0 7h0m1 4h0m0-8h0m0-3h0m0 7h0m0 2h0m0 0h0m0-3h0m1 5h0m0-1h0m0-8h0m0-1h0m2 8h0m0 1h0m0-1h0m1-4h0m0 6h0m0-1h0m0-10h0m5 10h0m4-9h0m0-1h0m4 4h0m2 7h0m0 0h0m3-1h0m0 0h0m6-7h0m9 6h0m13 0h0m-56 4h0m0 9h0m0 0h0m0-5h0m0-4h0m0 6h0m1 2h0m0 1h0m0-9h0m0 6h0m0 3h0m0-1h0m0-8h0m0 0h0m0 0h0m0-1h0m0 11h0m0-9h0m0 8h0m0-9h0m0 6h0m0 4h0m0-6h0m0 0h0m0 6h0m0-8h0m1-1h0m0 3h0m0 2h0m0-2h0m0 2h0m0-4h0m0-1h0m0 2h0m0 1h0m0 2h0m0-2h0m0-1h0m0 0h0m0-1h0m0 1h0m0-1h0m0 3h0m0 1h0m0-6h0m0 3h0m0-2h0m0 4h0m0-3h0m0 2h0m1 2h0m0 1h0m0 0h0m0 2h0m0-2h0m1-4h0m0 6h0m0 1h0m0-6h0m0 2h0m0 2h0m0-7h0m0 1h0m1 0h0m0 3h0m1-3h0m0 2h0m0-2h0m0-1h0m1 7h0m0-6h0m0 3h0m1-4h0m1 1h0m0-2h0m0 4h0m0-2h0m0-1h0m1 5h0m0 1h0m0 1h0m0-5h0m0-1h0m0 4h0m1 2h0m0-6h0m0 2h0m0-5h0m0 1h0m1 4h0m1 5h0m0 1h0m0-9h0m0 7h0m0-8h0m1 2h0m0 5h0m0-4h0m0 2h0m0-3h0m1 7h0m0 0h0m0-6h0m1 5h0m0-5h0m0 6h0m2-2h0m0-4h0m0 0h0m1 5h0m3-7h0m2 3h0m0-4h0m1 6h0m1 3h0m2-2h0m3 1h0m2 2h0m1-7h0m9 2h0m5-4h0m0 9h0m112-3h0m8-3h0m11-3h0m-179 21h0m0-5h0m0 0h0m0 0h0m0-3h0m0-1h0m0 7h0m0 2h0m0-3h0m0 1h0m0-5h0m0 6h0m0-7h0m0 8h0m1-1h0m0 1h0m0-11h0m0 7h0m0-4h0m0 7h0m0-5h0m0 6h0m0-6h0m0 4h0m0-3h0m0-3h0m0 7h0m0 0h0m0-7h0m0-3h0m0 2h0m0 4h0m0-1h0m0-3h0m0 6h0m0 2h0m0-7h0m0-2h0m0 6h0m0 3h0m0-1h0m0 0h0m0 1h0m0-3h0m0 0h0m0-6h0m0 10h0m0-11h0m0 2h0m0 0h0m0 0h0m1-2h0m0 4h0m0 4h0m0-8h0m0 6h0m0 3h0m0-1h0m0 2h0m0-10h0m0 5h0m0 1h0m0-5h0m1-1h0m0 7h0m0-3h0m1 7h0m0-1h0m0-2h0m1 1h0m0 0h0m0-6h0m0 2h0m0-5h0m1 5h0m0 4h0m0-5h0m0 3h0m0-7h0m1 5h0m0 4h0m0 1h0m0 1h0m0-3h0m0 3h0m0-9h0m1 5h0m0-2h0m0 6h0m1-11h0m0 1h0m0 9h0m1-8h0m1 6h0m0-8h0m0 3h0m0 4h0m0 1h0m0-2h0m1 4h0m0-8h0m1 0h0m0 4h0m0-2h0m1 7h0m0-2h0m0 2h0m0-9h0m0-1h0m1 4h0m0 4h0m0 1h0m0-4h0m0 0h0m0 0h0m0-6h0m1 7h0m0-4h0m1 8h0m0-5h0m0-4h0m0 6h0m1 1h0m0-4h0m0-2h0m0 8h0m0-9h0m0-2h0m0 8h0m1 3h0m0-2h0m0-7h0m1 1h0m0 6h0m0 0h0m0-7h0m1 9h0m0-3h0m1 1h0m0 1h0m0-2h0m0 2h0m1 0h0m0-7h0m0 7h0m0-6h0m0 1h0m0-5h0m0 8h0m0-2h0m0 0h0m1 5h0m0-7h0m0 6h0m0 0h0m0-8h0m0 5h0m1-1h0m0-1h0m0 6h0m1-3h0m0-4h0m0 4h0m1 0h0m1 0h0m0-7h0m0-1h0m0 3h0m0 7h0m0-7h0m1 5h0m1 3h0m0-7h0m0 2h0m1-1h0m0 6h0m0-11h0m0 1h0m1 6h0m0-3h0m0 6h0m0 0h0m1-2h0m0-4h0m1 2h0m0 0h0m1 1h0m0-4h0m0-2h0m1 6h0m0 1h0m0-1h0m0-4h0m1 7h0m0-2h0m1 2h0m1-6h0m0 1h0m0 6h0m1-10h0m0 4h0m0 2h0m0-7h0m0 5h0m1 5h0m2-1h0m1 1h0m1-1h0m1-7h0m3 9h0m2-8h0m3 6h0m9-7h0m13 8h0m10-1h0m49-1h0m67-8h0m8 1h0m20 8h0m-231 13h0m0-1h0m0-2h0m0 4h0m0-1h0m1-4h0m0 5h0m0 0h0m0-1h0m0 1h0m0-2h0m0 0h0m0-7h0m0 5h0m0-1h0m0 4h0m0 1h0m0-4h0m0 4h0m0-6h0m0 3h0m0-1h0m0-1h0m0 4h0m0-2h0m0 0h0m0 3h0m0 0h0m0-1h0m0 0h0m0-1h0m0 2h0m0-3h0m0 3h0m0-4h0m0 2h0m0 0h0m0-5h0m0 7h0m0-5h0m0-1h0m0 5h0m0-2h0m0 3h0m0-2h0m0-2h0m0 1h0m0 0h0m0 2h0m0-2h0m0 3h0m0-1h0m0-2h0m0-2h0m0 1h0m0 0h0m0 2h0m0-5h0m0 2h0m0 3h0m0-4h0m0 4h0m0 1h0m0-2h0m0-1h0m0-2h0m0 1h0m0 5h0m0-1h0m0-2h0m0-3h0m0 1h0m0 5h0m0-1h0m0-3h0m0 1h0m0-3h0m0 4h0m0 1h0m0-2h0m0-3h0m0-5h0m0 6h0m0 1h0m0 2h0m0-5h0m0 3h0m0 4h0m0-6h0m0 6h0m0 0h0m0-4h0m0 2h0m0 1h0m0-3h0m0 3h0m0-1h0m0 1h0m0 0h0m0 0h0m0-1h0m0-2h0m0 2h0m0-2h0m0 4h0m0-1h0m0 1h0m0 0h0m0-4h0m0-5h0m0 3h0m0 4h0m0 2h0m0-2h0m0 1h0m0-1h0m0-1h0m0-4h0m0 2h0m0 3h0m0-1h0m0-2h0m0 0h0m0 0h0m0 2h0m0-2h0m0 5h0m0-5h0m0 5h0m0-6h0m0 2h0m0 3h0m0-4h0m0-1h0m0 2h0m0-6h0m0 10h0m0-5h0m0-1h0m0 2h0m0 0h0m0 3h0m0-3h0m0 2h0m0-2h0m0-2h0m0 5h0m0-5h0m0 3h0m0 2h0m0-7h0m0 4h0m0 3h0m0-3h0m0-1h0m0 2h0m0-3h0m0 2h0m0 2h0m0-1h0m0 2h0m0-2h0m0-3h0m0 5h0m0-3h0m0 0h0m0-2h0m0 2h0m0-1h0m0 4h0m0-4h0m0-2h0m0 5h0m0 0h0m0-4h0m0 3h0m0 0h0m0-2h0m0 1h0m0 2h0m0 0h0m0-2h0m0-6h0m0 6h0m0 0h0m0 2h0m0 0h0m0-3h0m0 1h0m0 2h0m0-4h0m0 4h0m0-5h0m0 2h0m0 2h0m0-3h0m0 0h0m0 4h0m0-3h0m0 0h0m0 3h0m0-2h0m0 0h0m0-1h0m0 1h0m0-3h0m0 1h0m0 0h0m0 2h0m0-2h0m0 1h0m0 1h0m0 0h0m0 0h0m0-4h0m0 2h0m0 4h0m0-4h0m0 1h0m0 3h0m0-5h0m0 2h0m0 3h0m0-4h0m0 3h0m0 1h0m0-3h0m0 0h0m0-1h0m0 1h0m0 0h0m0-1h0m0 2h0m0-1h0m0 1h0m0-3h0m0 3h0m0-5h0m0 4h0m0-2h0m0 2h0m0-3h0m0 4h0m0-1h0m0 1h0m0 0h0m0-2h0m0 1h0m0 0h0m0-1h0m0 2h0m0-2h0m0 1h0m0 1h0m0-3h0m0 2h0m0 1h0m0 0h0m0-2h0m0 1h0m0-1h0m0 2h0m0-3h0m0 3h0m0-2h0m0 1h0m0 0h0m0 0h0m0-4h0m0 2h0m0 3h0m0 0h0m0 0h0m0-1h0m0 0h0m0 0h0m0-2h0m0 2h0m0 1h0m0-3h0m0-4h0m0 7h0m0-5h0m0 5h0m0-1h0m0 0h0m0 1h0m0-3h0m0 2h0m0-6h0m0 4h0m0 3h0m0-2h0m0 0h0m0-1h0m0 3h0m0 0h0m0-1h0m0-1h0m0 2h0m0 0h0m0 0h0m0-2h0m0 2h0m0 0h0m0-2h0m0 1h0m0-3h0m0 4h0m0-3h0m0-2h0m0 5h0m0-2h0m0-5h0m0 4h0m0 1h0m0-2h0m0 3h0m0 1h0m0-2h0m0 2h0m0-2h0m0-1h0m0 0h0m0 3h0m0 0h0m0-2h0m0 1h0m0-2h0m0 1h0m0 2h0m0-4h0m0 2h0m0-2h0m0 4h0m0-2h0m0-1h0m0 2h0m0 0h0m0 1h0m0-4h0m0 4h0m1 2h0m0-3h0m0 4h0m0 0h0m0-8h0m0 5h0m0 3h0m0-5h0m0 0h0m0-2h0m0 2h0m0 1h0m0-2h0m0 0h0m0-2h0m1 9h0m0 0h0m0 0h0m0-7h0m0 5h0m0-2h0m1-2h0m0 5h0m0-1h0m0 2h0m0-9h0m0 9h0m0-6h0m0-1h0m0 7h0m0-2h0m0-4h0m1 4h0m0 1h0m0-1h0m0 0h0m0-9h0m0 3h0m0 0h0m0-3h0m1 8h0m0 0h0m0-1h0m0 4h0m0-6h0m0-2h0m0-3h0m0 2h0m0-2h0m1 8h0m0 0h0m0-3h0m0 0h0m1 4h0m0 2h0m0-6h0m0-3h0m0 0h0m0 0h0m0-2h0m0 0h0m0 0h0m0 0h0m0 0h0m1 11h0m0-5h0m0-1h0m0-2h0m0-1h0m0-1h0m1 8h0m0-2h0m0 0h0m0-5h0m0-1h0m0 0h0m1 3h0m0 4h0m0-2h0m0-5h0m0 5h0m0-3h0m0-1h0m0-2h0m1 8h0m0-4h0m0 6h0m0-6h0m0-4h0m0 1h0m0-1h0m0 0h0m1 8h0m0 0h0m0-7h0m0 5h0m0-6h0m1 9h0m0-3h0m0-6h0m0 3h0m0-1h0m1 5h0m0-1h0m0 5h0m0-8h0m0 2h0m0-1h0m0-2h0m0 1h0m0-1h0m1 6h0m0-4h0m0 7h0m0-7h0m0 7h0m0-3h0m0-4h0m0-2h0m1 6h0m1-4h0m0 3h0m0 1h0m0 1h0m0-7h0m1 5h0m0 4h0m1-5h0m0-6h0m0 0h0m1 11h0m0-7h0m0-2h0m0 5h0m0 3h0m0-1h0m0-5h0m0-4h0m0 0h0m0 4h0m1 5h0m0 2h0m0-7h0m0-2h0m1 7h0m0-3h0m1-2h0m0-4h0m0 5h0m0 1h0m0 2h0m1 3h0m0-10h0m0 8h0m0-8h0m0-1h0m1 0h0m0 3h0m0 5h0m0-2h0m1 5h0m0-9h0m0 0h0m0 9h0m0-1h0m1-1h0m0-6h0m0 5h0m0 1h0m0 1h0m0-2h0m0-7h0m1 5h0m0 0h0m0-1h0m0-3h0m0-2h0m1 2h0m0 7h0m0-9h0m0 10h0m0-4h0m0-1h0m0-2h0m1-1h0m0 1h0m0 5h0m0-7h0m1 10h0m0-11h0m0 4h0m1 3h0m0-3h0m1 4h0m0-6h0m1 3h0m0-4h0m0 9h0m0-3h0m0 4h0m0-5h0m0 2h0m1-2h0m0-5h0m0 6h0m0-6h0m0 9h0m1-6h0m0 2h0m0-1h0m0 1h0m0-1h0m0 2h0m1-6h0m0 0h0m0-1h0m1 0h0m0 1h0m0 4h0m1-2h0m0 2h0m0-5h0m1 0h0m0 10h0m0-9h0m0 9h0m0-8h0m0 1h0m1 8h0m0-6h0m1 6h0m0 0h0m0-7h0m1 7h0m0-8h0m2 0h0m1 6h0m0-7h0m1-1h0m0 5h0m1-1h0m1 3h0m0 3h0m1-1h0m0-7h0m0 7h0m2-8h0m1 2h0m0-3h0m0 1h0m1-1h0m4-1h0m1 4h0m0-4h0m0 4h0m3 0h0m1-1h0m1 4h0m1-7h0m5 11h0m0-2h0m1-4h0m1 3h0m7-2h0m51 3h0m2-8h0m-133 20h0m0-7h0m0-1h0m0 5h0m0-2h0m0 3h0m0-6h0m0 0h0m0 3h0m1-1h0m0 6h0m0 0h0m0-5h0m0-4h0m0 5h0m0-4h0m0 3h0m0 4h0m0-1h0m0-6h0m0 6h0m0 1h0m0-3h0m0 5h0m0-4h0m0-3h0m0 5h0m0-2h0m0-2h0m0-1h0m0 5h0m0-6h0m0 7h0m0-4h0m0 1h0m0-1h0m0 1h0m0-2h0m0 2h0m0-2h0m0-1h0m0 0h0m0-3h0m0 2h0m0 7h0m0-6h0m0 4h0m0-1h0m0-1h0m0-2h0m0-3h0m0 1h0m0 0h0m0 3h0m0 1h0m0-4h0m0 10h0m0-2h0m0-4h0m0-5h0m0 3h0m0-2h0m0-1h0m0 4h0m0-4h0m0 5h0m0 0h0m0 6h0m0 0h0m0-7h0m0 5h0m0-8h0m0 5h0m0 4h0m0-9h0m0 2h0m0 8h0m0-9h0m0 4h0m0-1h0m0 1h0m0-4h0m0 1h0m0 2h0m0-4h0m0 2h0m0-1h0m0 0h0m0-2h0m0 0h0m0 7h0m0-5h0m0 1h0m0 1h0m0 7h0m0-10h0m0 0h0m0 2h0m0 6h0m0 0h0m0-5h0m0 6h0m0-3h0m0-1h0m0 0h0m0-1h0m0 6h0m0-10h0m0 10h0m0-11h0m0 1h0m0 8h0m0-8h0m0 10h0m0-1h0m0-9h0m0-1h0m0 9h0m0-9h0m0 10h0m0 1h0m0-10h0m0 8h0m0 0h0m0 0h0m0 2h0m0-10h0m0 8h0m0 1h0m0-1h0m0 1h0m0-1h0m0 0h0m0 1h0m0-1h0m0 0h0m0 1h0m0 0h0m0-1h0m0 2h0m0-1h0m0-1h0m0 0h0m0 0h0m0 1h0m0 1h0m0 0h0m0-2h0m0 2h0m0-1h0m0 1h0m0-1h0m0-1h0m0 0h0m0 0h0m0 0h0m0 0h0m0 0h0m0 0h0m0 1h0m0 0h0m0-1h0m0 1h0m0-1h0m0 1h0m0-1h0m0 2h0m0 0h0m0-2h0m0 0h0m0 0h0m0 1h0m0-1h0m0 0h0m0 0h0m0 2h0m0 0h0m0-2h0m0 2h0m0-1h0m0-1h0m0 1h0m1-2h0m0-2h0m0-1h0m0-4h0m0-1h0m0 8h0m0-1h0m0 2h0m0 1h0m0 0h0m0 0h0m0 0h0m0 0h0m0 1h0m0 0h0m0 0h0m1-10h0m0 1h0m0 3h0m0-1h0m0 0h0m0 4h0m0 1h0m0 2h0m1-10h0m0 0h0m0 10h0m0-1h0m0 0h0m1-6h0m0 0h0m0-2h0m0 4h0m0 5h0m0-9h0m0 9h0m0-1h0m0 1h0m1-8h0m0 2h0m0-3h0m0 5h0m0-5h0m2 1h0m0 6h0m0-1h0m0-7h0m0 8h0m0 1h0m0 0h0m1-5h0m0-5h0m1 3h0m0 3h0m0-2h0m0 1h0m0 5h0m0 1h0m1-2h0m0 1h0m1-7h0m0-3h0m0 7h0m0-4h0m0 2h0m0 6h0m1-2h0m1-5h0m0 3h0m0-6h0m0 4h0m0-5h0m0 0h0m0 11h0m0 0h0m0-1h0m0 0h0m0 1h0m0 0h0m1-6h0m0-3h0m0 2h0m0 1h0m0 6h0m1-4h0m0-7h0m0 11h0m0-10h0m0 10h0m0-1h0m0 1h0m0 0h0m0 0h0m1-5h0m0 4h0m0-10h0m0 0h0m0 4h0m0 5h0m0-3h0m0-6h0m0 7h0m0 2h0m0 0h0m0 0h0m0 2h0m0 0h0m0 0h0m1-10h0m0 9h0m0 1h0m1-10h0m0 2h0m0-2h0m1 3h0m0 2h0m0-2h0m0 5h0m0 1h0m0-2h0m0 0h0m0 1h0m1-4h0m0-3h0m0-1h0m1 7h0m0 0h0m0-3h0m0 3h0m1-5h0m0 0h0m0 5h0m0 0h0m0 1h0m0-1h0m1-7h0m0 7h0m1-2h0m0-1h0m1-3h0m0 4h0m0 2h0m0 0h0m0 1h0m1-5h0m0 4h0m0-1h0m0-7h0m0 7h0m1-1h0m0-5h0m0 10h0m1-7h0m0 4h0m0-2h0m0 2h0m0-5h0m0 7h0m1-2h0m0 0h0m0-6h0m1-1h0m0 5h0m0-5h0m0 7h0m0-4h0m0 2h0m1-4h0m0 9h0m0-7h0m0 5h0m0-5h0m1-4h0m0 10h0m0-6h0m0 6h0m1-8h0m0 1h0m1 1h0m0 1h0m0-1h0m0 0h0m1 3h0m0-6h0m0-1h0m0 8h0m1-7h0m0 0h0m1 3h0m0-3h0m1 1h0m0 5h0m0 0h0m0-6h0m0 10h0m0-5h0m1-6h0m0 0h0m1 2h0m0 6h0m0-8h0m0 5h0m1-4h0m1 1h0m0 6h0m1-3h0m2 5h0m0-6h0m1 6h0m2-2h0m0-2h0m1-4h0m1 0h0m0 6h0m2 2h0m2-9h0m1-1h0m1 3h0m0 2h0m2-1h0m3-4h0m23 6h0m13-6h0m126 0h0m-223 16h0m0-4h0m0 0h0m0 1h0m0 0h0m0 0h0m0-1h0m0 0h0m0 0h0m0 0h0m1 0h0m0 2h0m0-2h0m0 0h0m0 0h0m0 0h0m0 0h0m0 0h0m0 0h0m0 0h0m0 2h0m1-2h0m0 2h0m1 0h0m0 0h0m1-2h0m0 2h0m0 1h0m0 1h0m0-2h0m0 0h0m0 0h0m0 0h0m1-1h0m0 0h0m0-1h0m0 0h0m1 0h0m1 0h0m0 0h0m0 2h0m0 1h0m1-3h0m1 1h0m0 1h0m0 1h0m1 2h0m0-2h0m1 0h0m0-1h0m1 0h0m0 0h0m1-1h0m0 2h0m0 0h0m0-1h0m1 0h0m0-1h0m0 0h0m0 0h0m0-1h0m0 1h0m1-1h0m0 1h0m0-1h0m2 4h0m0-4h0m0 0h0m1 0h0m1 1h0m1-1h0m0 1h0m1 0h0m1-1h0m0 2h0m0 2h0m1-4h0m3 0h0m7 2h0m0 0h0m7-2h0"/></g><g transform="scale(0.5)"><path stroke="#5aa85a" stroke-width="2.6" d="M685 46h0m0 9h0m0 16h0m0 3h0m0-1h0m2 4h0m-2 15h0m0 4h0m4 23h0m3-5h0m-7 16h0m0 12h0m-1 12h0m0 1h0m1-6h0m0-2h0m0 2h0m0 3h0m0 0h0m0-6h0m0 7h0m0 1h0m0-2h0m0-4h0m0 3h0m0-3h0m0 4h0m0 1h0m1-1h0m0 3h0m0-3h0m0-3h0m0 0h0m1 2h0m0-7h0m1 6h0m0-6h0m0 11h0m1-3h0m0-6h0m1 0h0m1 6h0m1 1h0m-8 4h0m0 10h0m0-3h0m1-3h0m0 1h0m0 1h0m0 1h0m0 1h0m0-8h0m0 0h0m0 3h0m1 7h0m0-4h0m0-1h0m0-1h0m0 6h0m0-6h0m0-1h0m0-3h0m1-1h0m0 11h0m0-3h0m0-5h0m0 8h0m0-3h0m0 1h0m0 0h0m0-9h0m1 2h0m0-1h0m0 6h0m0-6h0m1 8h0m0-4h0m0-3h0m0 7h0m1-5h0m0 7h0m1-1h0m1-2h0m0-4h0m1 2h0m2-4h0m17 9h0m8-8h0m-36 19h0m0 1h0m0-6h0m0-2h0m0 4h0m1-3h0m0-4h0m0 9h0m0-8h0m0-1h0m0 9h0m0-1h0m0 2h0m0-2h0m0-6h0m0-2h0m0 11h0m1-6h0m0 5h0m0-6h0m0 3h0m0-1h0m0 0h0m0-6h0m0 5h0m0 3h0m0 0h0m1-8h0m0 7h0m0 0h0m0-2h0m0-4h0m1 8h0m0-5h0m0-4h0m0 5h0m0 2h0m1-4h0m0 8h0m0-4h0m0 2h0m0-4h0m0 2h0m0 0h0m0 0h0m1-5h0m0 5h0m0 1h0m0-7h0m0 6h0m1-6h0m0 8h0m0-2h0m0 3h0m0-4h0m0-2h0m1-1h0m0 4h0m1-7h0m0 9h0m1 2h0m0-11h0m4 0h0m3 11h0m0-6h0m8 3h0m3 3h0m9 0h0m6-1h0m-43 8h0m0-1h0m0 5h0m0 1h0m0-6h0m0 6h0m0 0h0m0-2h0m0 2h0m0-10h0m1 7h0m0 3h0m0-9h0m0 8h0m0-1h0m0-2h0m0 0h0m0 3h0m0 0h0m0-10h0m0 2h0m0 4h0m0 4h0m0-2h0m0-6h0m0 8h0m0-4h0m0-2h0m0-1h0m0 7h0m0 0h0m0-7h0m0-1h0m0 5h0m0-3h0m0 1h0m0-2h0m0 0h0m0-2h0m0 1h0m1 7h0m0-6h0m0 5h0m0 2h0m0-7h0m0-2h0m1 5h0m0 5h0m0-6h0m0-5h0m1 11h0m0-1h0m1-3h0m0-5h0m0 3h0m0 1h0m0-6h0m0 10h0m0 1h0m0-5h0m0 5h0m0-8h0m0 8h0m1-5h0m0 0h0m0-3h0m0 7h0m1-6h0m0-2h0m0 5h0m0-6h0m0 0h0m0 4h0m1-4h0m1 8h0m0-2h0m0-3h0m1 6h0m1-4h0m0 1h0m0 3h0m0-3h0m0-5h0m1 9h0m0-5h0m0 1h0m1-4h0m1 0h0m0 6h0m1 2h0m1-7h0m1 3h0m0 3h0m0-7h0m0 8h0m0-1h0m1-2h0m0 1h0m0-3h0m0 3h0m1 0h0m1-5h0m4 7h0m2 0h0m1 0h0m0 0h0m0 0h0m2-1h0m1 1h0m3-4h0m1 4h0m0-2h0m1 1h0m3-8h0m9 4h0m11-3h0m-58 20h0m0-1h0m0 0h0m0 0h0m0 0h0m0 0h0m0-3h0m0 3h0m0-4h0m0 0h0m0 2h0m0 3h0m0-4h0m0 4h0m0 0h0m0-3h0m0 0h0m0 0h0m0 3h0m0-3h0m0 2h0m0 1h0m0-1h0m0 0h0m0-1h0m0-5h0m0 7h0m0-9h0m0 9h0m0-5h0m0 4h0m0-9h0m0 8h0m0 1h0m0 0h0m0-2h0m0 1h0m0-3h0m0 4h0m0 0h0m0-2h0m0 1h0m0-4h0m0 6h0m0-4h0m0 0h0m0 3h0m0 0h0m0-1h0m0 0h0m0 0h0m0 2h0m0-5h0m0 3h0m0-7h0m0 8h0m0-1h0m0 1h0m0 1h0m0-4h0m0 0h0m0 2h0m0 2h0m0-2h0m0 0h0m0 1h0m0 1h0m0-3h0m0 3h0m0-2h0m0 2h0m0-3h0m0 2h0m0 0h0m0-1h0m0 2h0m0-1h0m0 1h0m0-6h0m0 4h0m0-1h0m0 0h0m0 1h0m0-1h0m0 2h0m0 0h0m0 1h0m0-2h0m0 2h0m0-1h0m0-5h0m0 6h0m0-4h0m0 0h0m0-5h0m0 4h0m0 5h0m0-3h0m0 1h0m0-1h0m0-4h0m0 6h0m0 1h0m0-2h0m0 2h0m0-5h0m0 4h0m0 1h0m0-3h0m0 2h0m0-1h0m0-1h0m0 2h0m0 1h0m0-2h0m0-1h0m0 3h0m0-3h0m0 0h0m0-1h0m0 1h0m0-2h0m0 5h0m0-4h0m0 3h0m0 1h0m0-1h0m0 0h0m0 1h0m0-1h0m0 1h0m0-1h0m0 1h0m0-2h0m0 2h0m0 0h0m0-1h0m0 0h0m0-2h0m0 2h0m0 0h0m0 1h0m0-1h0m0-1h0m0 2h0m0-1h0m0-1h0m0 1h0m0-3h0m0 4h0m0-2h0m0-1h0m0 3h0m0-1h0m0 0h0m0-2h0m0 1h0m0 0h0m0 0h0m0 1h0m0-1h0m0-1h0m0 0h0m0 2h0m0-1h0m0 1h0m0-1h0m0 0h0m0 2h0m0-1h0m0-2h0m0 3h0m0-1h0m0-2h0m0 2h0m0-1h0m0 0h0m0 1h0m0 1h0m0-5h0m0 4h0m0-5h0m0 5h0m0-2h0m0-2h0m0 2h0m0 1h0m0 2h0m0-4h0m0 4h0m0-1h0m0-2h0m0 1h0m0-2h0m0 3h0m0-1h0m0 1h0m0-1h0m0-2h0m0 4h0m0-2h0m0 0h0m0-1h0m0 0h0m0 1h0m0 2h0m0 0h0m0 0h0m0 0h0m0-3h0m0 3h0m0 0h0m0-3h0m0 0h0m0 1h0m0 2h0m0-1h0m0 1h0m0-8h0m0 4h0m0 4h0m0-3h0m0 1h0m0 2h0m0 0h0m0-1h0m0-1h0m0 2h0m0 0h0m0 0h0m0-1h0m0 1h0m0 0h0m0-3h0m0 3h0m0-4h0m0 1h0m0 3h0m0-1h0m0-4h0m0 1h0m0 2h0m0 2h0m0 0h0m0-3h0m0 0h0m0 0h0m0 2h0m0 1h0m0 0h0m0-1h0m0-2h0m0-1h0m0 4h0m0-3h0m0 3h0m0-2h0m0 2h0m0-2h0m0 2h0m0 0h0m0-2h0m0 2h0m0-1h0m0 1h0m0-1h0m0 1h0m0-5h0m0 3h0m0-3h0m0 5h0m0-4h0m0 4h0m0 0h0m0 0h0m0 0h0m0 0h0m0-3h0m0 0h0m0 3h0m0 0h0m0-2h0m0-5h0m0 5h0m0 1h0m0-3h0m0 0h0m0-2h0m0 4h0m0-1h0m0 1h0m0 2h0m0-1h0m0-3h0m0 1h0m0 2h0m0 0h0m0-2h0m0-1h0m0 3h0m0 0h0m0 0h0m0 1h0m0-4h0m0 2h0m0 0h0m0-1h0m0 2h0m0 0h0m0 0h0m0-2h0m0 2h0m0 0h0m0 1h0m0-2h0m0 2h0m0-4h0m0 3h0m0-3h0m0 4h0m0-1h0m0 0h0m0-1h0m0 0h0m0 2h0m0-3h0m0-1h0m0 4h0m0 0h0m0 0h0m0-6h0m0 2h0m0 3h0m0-10h0m0 8h0m0 2h0m0-2h0m0-1h0m0 1h0m0-2h0m0 5h0m0-2h0m0 1h0m0-1h0m0 2h0m0-2h0m0-3h0m0 4h0m0 1h0m0-3h0m0 2h0m0-1h0m0 1h0m0 1h0m0 0h0m0-8h0m0 5h0m0 1h0m0 2h0m0 0h0m0-2h0m0-1h0m0 1h0m0 2h0m0-4h0m0 0h0m0 3h0m0 1h0m0-4h0m0 3h0m0 0h0m0-2h0m0 2h0m0 1h0m0-4h0m0 4h0m0-3h0m0 1h0m0-8h0m0 4h0m0 5h0m0 1h0m0-1h0m0 1h0m0-1h0m0 1h0m0-3h0m0 1h0m0 1h0m0 1h0m0-1h0m0 0h0m0 1h0m0-2h0m0 0h0m0 1h0m0-1h0m0 1h0m0-1h0m0-1h0m0-2h0m0 5h0m0 0h0m0-3h0m0-6h0m0 9h0m0-4h0m0 3h0m0 1h0m0-5h0m0 5h0m0 0h0m0-4h0m0 4h0m0-2h0m0-1h0m0-1h0m0 4h0m0 0h0m0 0h0m0-3h0m0-7h0m0 8h0m0 2h0m0-1h0m0 0h0m0 0h0m0-5h0m0 5h0m0-3h0m0 0h0m0-1h0m0 5h0m0-1h0m0-2h0m0 1h0m0 2h0m0 0h0m0-1h0m0-1h0m0 1h0m0-3h0m0 4h0m0-2h0m0-1h0m0 3h0m0-3h0m0 3h0m0-3h0m0 0h0m0-1h0m0 3h0m0-1h0m0-4h0m0 6h0m0 0h0m0-7h0m0 5h0m0 1h0m0-3h0m0-1h0m0 5h0m0 0h0m0-1h0m0-1h0m0 2h0m0-1h0m0-3h0m0 4h0m0-1h0m0-2h0m0 3h0m0 0h0m0-3h0m0-4h0m0 7h0m0-4h0m0 4h0m0 0h0m0 0h0m0-2h0m0 1h0m0-1h0m0-1h0m0 0h0m0 3h0m0-1h0m0 0h0m0-1h0m0-1h0m0 3h0m0-1h0m0-2h0m0 2h0m0-4h0m0 5h0m0 0h0m0-7h0m0 6h0m0-3h0m0 2h0m0 1h0m0-2h0m0 3h0m0-3h0m0 2h0m0-4h0m0-1h0m0 3h0m0 1h0m0 0h0m0 1h0m0-2h0m0 2h0m0-5h0m0 3h0m0 3h0m0-5h0m0 3h0m0-4h0m0 2h0m0 0h0m0 2h0m0 1h0m0 0h0m0-2h0m0 2h0m0 1h0m0 0h0m0-4h0m0 2h0m0 2h0m0 0h0m0-3h0m0 3h0m0-2h0m0-7h0m0 5h0m0 1h0m0 1h0m0 0h0m0-2h0m0 4h0m0-3h0m0 1h0m0-3h0m0 3h0m0 0h0m0-3h0m0 4h0m0 0h0m0-1h0m0 0h0m0 0h0m0-1h0m0 3h0m0-1h0m0 0h0m0 1h0m0-2h0m0-4h0m0 2h0m0 2h0m0 1h0m0-4h0m0 4h0m0 0h0m0 1h0m0 0h0m0-5h0m0 4h0m0-5h0m0 4h0m0 2h0m0 0h0m0-2h0m0 0h0m0-2h0m0 3h0m0-1h0m0 2h0m0-1h0m0 0h0m0 1h0m0 0h0m0-1h0m0-1h0m0 1h0m0 0h0m0-1h0m0 2h0m0-1h0m0 0h0m0-1h0m0 2h0m0-2h0m0 2h0m0-1h0m0 0h0m0-2h0m0 3h0m0-1h0m0-2h0m0-1h0m0 1h0m0-4h0m0 4h0m0 0h0m0 3h0m0 0h0m0-4h0m0 1h0m0-3h0m0 1h0m0 3h0m0-2h0m0 4h0m0 0h0m0-1h0m0-2h0m0-2h0m0 2h0m0 1h0m0 1h0m0 0h0m0 1h0m0-2h0m0-7h0m0 9h0m0 0h0m0-2h0m0-3h0m0 4h0m0 1h0m0-2h0m0 1h0m0-2h0m0 0h0m0 2h0m0 0h0m0 1h0m0 0h0m0 0h0m0-2h0m0 2h0m0-3h0m0 0h0m0 0h0m0 2h0m0-3h0m0 4h0m0-1h0m0-1h0m0-2h0m0 4h0m0-1h0m0-1h0m0 0h0m0-1h0m0 2h0m0 0h0m0 1h0m0 0h0m0-3h0m0 3h0m0 0h0m0-1h0m0 1h0m0-5h0m0 4h0m0 0h0m0 0h0m0-1h0m0-2h0m0 4h0m0-7h0m0 5h0m0 2h0m0 0h0m0-1h0m0-1h0m0 0h0m0 1h0m0 1h0m0-3h0m0 3h0m0-4h0m0 1h0m0 3h0m0-4h0m0 3h0m0 0h0m0 1h0m0-1h0m0-6h0m0 6h0m0 1h0m0-1h0m0-2h0m0 1h0m0 1h0m0 0h0m0-1h0m0 0h0m0 0h0m0 1h0m0-2h0m0-1h0m0 4h0m0 0h0m0-1h0m0 1h0m0 0h0m0 0h0m0-1h0m0-1h0m0 2h0m0-2h0m0-1h0m0-6h0m0 6h0m0 3h0m0-6h0m0 5h0m0 0h0m0 0h0m0-2h0m0 2h0m0-3h0m0 3h0m0-2h0m0 2h0m0 0h0m0 1h0m0-1h0m0 0h0m0-4h0m0-3h0m0 4h0m0 4h0m0-4h0m0 3h0m0 1h0m0-1h0m0 1h0m0 0h0m0-2h0m0 1h0m0-3h0m0 2h0m0 0h0m0-4h0m0 2h0m0 3h0m0 0h0m0 0h0m0-6h0m0 3h0m0 4h0m0-2h0m0 0h0m0 2h0m0-3h0m0-3h0m0 5h0m0 0h0m0 1h0m0-1h0m0-2h0m0 2h0m0 1h0m0-2h0m0 2h0m0-5h0m0 3h0m0-1h0m0 1h0m0 0h0m0 2h0m0 0h0m0-6h0m0 6h0m0 0h0m0 0h0m0-2h0m0 0h0m0 2h0m0-2h0m0 2h0m0 0h0m0 0h0m0-5h0m0 5h0m0-1h0m0 0h0m0 0h0m0-6h0m0 5h0m0 2h0m0-6h0m0 5h0m0 1h0m0-2h0m0 2h0m0-1h0m0-1h0m0 2h0m0 0h0m0 0h0m0-1h0m0-1h0m0 1h0m0-1h0m0 1h0m0 1h0m0-3h0m0 3h0m0-1h0m0 0h0m0 1h0m0-1h0m0-3h0m0 3h0m0 0h0m0 0h0m0 1h0m0-2h0m0-1h0m0-1h0m0 2h0m0-1h0m0 3h0m0-1h0m0-2h0m0 3h0m0-2h0m0-5h0m0 6h0m0 1h0m0-2h0m0 2h0m0-3h0m0 3h0m0-7h0m0 7h0m0 0h0m0-3h0m0-2h0m0 1h0m0 3h0m0 1h0m0-1h0m0 0h0m0 1h0m0-1h0m0-2h0m0-2h0m0 5h0m0-1h0m0 0h0m0 1h0m0-2h0m0 1h0m0-1h0m0-1h0m0-2h0m0 2h0m0 1h0m0-1h0m0 3h0m0-3h0m0 2h0m0-2h0m0 0h0m0 0h0m0-1h0m0 4h0m0-2h0m0 0h0m0 2h0m0-3h0m0 2h0m0 0h0m0 0h0m0 0h0m0 0h0m0 0h0m0 1h0m0 0h0m0 0h0m0-4h0m0 2h0m0 0h0m0 2h0m0-2h0m0-1h0m0 0h0m0 2h0m0-2h0m0 1h0m0 0h0m0 1h0m0 1h0m0-1h0m0 0h0m0 0h0m0 0h0m0 1h0m0-1h0m0-4h0m0 3h0m0 0h0m0-1h0m0 3h0m0 0h0m0 0h0m0-5h0m0 4h0m0-1h0m0-1h0m0-2h0m0 4h0m0-3h0m0 3h0m0-3h0m0-4h0m0 7h0m0 0h0m0-3h0m0 1h0m0 2h0m0 0h0m0-2h0m0 3h0m0 0h0m0-5h0m0 5h0m0-3h0m0 3h0m0 0h0m0-7h0m0 7h0m0-4h0m0 4h0m0-1h0m0-3h0m0 1h0m0 2h0m0-1h0m0 0h0m0 2h0m0-2h0m0 1h0m0-3h0m0-1h0m0 5h0m0-2h0m0 2h0m0 0h0m0-1h0m0 0h0m0 1h0m0 0h0m0-2h0m0 2h0m0-1h0m0 0h0m0 1h0m0 0h0m0-1h0m0-1h0m0-1h0m0 3h0m0-1h0m0 1h0m0-3h0m0 3h0m0 0h0m0 0h0m0-2h0m0-2h0m0-1h0m0 2h0m0 2h0m0 0h0m0 1h0m0-3h0m0 2h0m0-2h0m0 0h0m0 3h0m0 0h0m0-5h0m0 1h0m0 0h0m0 0h0m0 3h0m0 1h0m0-2h0m0-1h0m0 3h0m0-5h0m0 3h0m0-3h0m0 3h0m0-9h0m0 10h0m0-7h0m0 6h0m0-1h0m0-1h0m0 2h0m0 2h0m0-2h0m0-7h0m0 6h0m0 2h0m0-1h0m0 0h0m0 2h0m0-1h0m0-4h0m1 4h0m0 1h0m0 0h0m0-2h0m0-1h0m0 2h0m0-4h0m0 3h0m0-6h0m0-2h0m0 3h0m0 1h0m0-3h0m0-1h0m0 0h0m0-1h0m1 9h0m0-3h0m0 4h0m0-2h0m0-2h0m0-2h0m0-3h0m0-1h0m0 1h0m1 6h0m0 4h0m0 0h0m0-2h0m0-3h0m0-4h0m0 0h0m0 7h0m0-3h0m0 1h0m0-2h0m0 1h0m0 0h0m1 4h0m0-1h0m0-2h0m0 0h0m0 0h0m0-2h0m0-3h0m0-1h0m1 10h0m0-1h0m0 0h0m0-1h0m0-3h0m0-4h0m1 7h0m0-4h0m0-3h0m0-1h0m0-1h0m1 8h0m0 0h0m0 2h0m0-4h0m0 3h0m0 1h0m0-2h0m0 0h0m0 0h0m0-2h0m0-1h0m0-2h0m0-3h0m1 10h0m1 0h0m0-2h0m0-1h0m0 0h0m1 4h0m0-1h0m0-6h0m0-3h0m0 0h0m0 4h0m0-4h0m1 6h0m0 4h0m0-6h0m0 5h0m0-1h0m0 1h0m0 0h0m0-5h0m0-5h0m1 5h0m0 3h0m0 1h0m0 1h0m0-3h0m0 1h0m0-3h0m1 4h0m0 0h0m0 1h0m0-9h0m0 1h0m0 8h0m0 0h0m0-2h0m0-2h0m0 0h0m0 2h0m0 1h0m0-2h0m0-1h0m1 4h0m0-5h0m0 6h0m0 0h0m0-2h0m0 1h0m1 1h0m1-9h0m0-1h0m0 9h0m0-2h0m1-8h0m0 6h0m0-6h0m0 3h0m1 6h0m0 1h0m0-5h0m0-1h0m1 2h0m0-5h0m0 3h0m0 0h0m0 6h0m0-9h0m0 9h0m1-1h0m0-1h0m0-5h0m1-1h0m1 9h0m0-2h0m0-5h0m1 5h0m0-8h0m0 2h0m1-3h0m1 1h0m0 7h0m0-3h0m0-2h0m1 4h0m0-5h0m1 2h0m0 0h0m1-4h0m0 10h0m1-8h0m0 4h0m1-5h0m1 3h0m1-1h0m2-3h0m0 1h0m1 6h0m0-4h0m2-2h0m3 5h0m1-1h0m2 4h0m3-8h0m5 8h0m12-9h0m-64 19h0m1 0h0m0-3h0m0 0h0m0 2h0m0-6h0m0 5h0m0-3h0m0-2h0m0 1h0m0 5h0m0 4h0m0 0h0m0-6h0m0-2h0m0 1h0m0 4h0m0-1h0m0-3h0m0 4h0m0-4h0m0 7h0m0-10h0m0 5h0m0-2h0m0 4h0m0-4h0m0 1h0m0-3h0m0 2h0m0 5h0m0-1h0m0-7h0m0 10h0m0-8h0m0 0h0m0-2h0m0 2h0m0 7h0m0-8h0m0 1h0m0 3h0m0 0h0m0 1h0m0 1h0m0 0h0m0-5h0m0 0h0m0 2h0m0 2h0m0-3h0m0-3h0m0 6h0m0-5h0m0 3h0m0-1h0m0 7h0m0-2h0m0-3h0m0-2h0m0 0h0m0 1h0m0-1h0m0 0h0m0 1h0m0 3h0m0-3h0m0 4h0m0 2h0m0-5h0m0 2h0m0 1h0m0-6h0m0 4h0m0 0h0m0 2h0m0-4h0m0 1h0m0-3h0m0 3h0m0-4h0m0 7h0m0-2h0m0-4h0m0 0h0m0 6h0m0-8h0m0 4h0m0 6h0m0-6h0m0 3h0m0 3h0m0-5h0m0 0h0m0 3h0m0-7h0m0-1h0m0 5h0m0 1h0m0 1h0m0-7h0m0 3h0m0 2h0m0 0h0m0 1h0m0-5h0m0 2h0m0 6h0m0-9h0m0 3h0m0-1h0m0 6h0m0-5h0m0 5h0m0-8h0m0 0h0m0 1h0m0 7h0m0 3h0m0-10h0m0-1h0m0 6h0m0-3h0m0 3h0m0 1h0m0 0h0m0 0h0m0-2h0m0 2h0m0-6h0m0 1h0m0 0h0m0 4h0m0 1h0m0 3h0m0-10h0m0 7h0m0-2h0m0 0h0m0 1h0m0 4h0m0 1h0m0-4h0m0-2h0m0 0h0m0 0h0m0 1h0m0-1h0m0 1h0m0-3h0m0-1h0m0 2h0m0 3h0m0-2h0m0-5h0m0 5h0m0-5h0m0 5h0m0-1h0m0 2h0m0-4h0m0 1h0m0 1h0m0-1h0m0-2h0m0 5h0m0 1h0m0 0h0m0-3h0m0 5h0m0-3h0m0-2h0m0 0h0m0-1h0m0-3h0m0 1h0m0 4h0m0-2h0m0 7h0m0-9h0m0 6h0m0 1h0m0-5h0m0 3h0m0-4h0m0 7h0m0-2h0m0-2h0m0 1h0m0 0h0m0-2h0m0-4h0m0 1h0m0-1h0m0 8h0m0-1h0m0-5h0m0 5h0m0-4h0m0-2h0m0 4h0m0 3h0m0-5h0m0 7h0m0-6h0m0-2h0m0 6h0m0-8h0m0 0h0m0 6h0m0-2h0m0 1h0m0-3h0m0 5h0m0 0h0m0-5h0m0 1h0m0 6h0m0-2h0m0-3h0m0-3h0m0 9h0m0-2h0m0-6h0m0-1h0m0 6h0m0-1h0m0-4h0m0 2h0m0 1h0m0 3h0m0-3h0m0-4h0m0 6h0m0-1h0m0-1h0m0 1h0m0-1h0m0-4h0m0 8h0m0-7h0m0 1h0m0 1h0m0-4h0m0 7h0m0-2h0m0 2h0m0-6h0m0 2h0m0 2h0m0 2h0m0 1h0m0-5h0m0-2h0m0 10h0m0-5h0m0-6h0m0 7h0m0-4h0m0 0h0m0 2h0m0-4h0m0 7h0m0-2h0m0-6h0m0 4h0m0-1h0m0 2h0m0-4h0m0 4h0m0-5h0m0 5h0m0 2h0m0-1h0m0-2h0m0 3h0m0-2h0m0-2h0m0 4h0m0-3h0m0 3h0m0-1h0m0 1h0m0-7h0m0 5h0m0 3h0m0-1h0m0-4h0m0-2h0m0 5h0m0 0h0m0-5h0m0 4h0m0-4h0m0 9h0m0-5h0m0-2h0m0-3h0m0 7h0m0-2h0m0 2h0m0 0h0m0 3h0m0-3h0m0-1h0m0-3h0m0 2h0m0 1h0m0 4h0m0-9h0m0 9h0m0-7h0m0 7h0m0-10h0m0 4h0m0-3h0m0 2h0m0 6h0m0-1h0m0-1h0m0 1h0m0-8h0m0 8h0m0-2h0m0-5h0m0 3h0m0-2h0m0 0h0m0 4h0m0-5h0m0 9h0m0-9h0m0 4h0m0 5h0m0-4h0m0-3h0m0-2h0m0 5h0m0-3h0m0-3h0m0 7h0m0 3h0m0-9h0m0 0h0m0 9h0m0-10h0m0 9h0m0-8h0m0 9h0m0-7h0m0-3h0m0 5h0m0-2h0m0-3h0m0 2h0m0-1h0m0 8h0m0-3h0m0 2h0m0-6h0m0 1h0m0-1h0m0 2h0m0-1h0m0 5h0m0-3h0m0 0h0m0 2h0m0 0h0m0 2h0m0-4h0m0-4h0m0 8h0m0-6h0m0 5h0m0-2h0m0-5h0m0 1h0m0 4h0m0-5h0m0 6h0m0-1h0m0 3h0m0-7h0m0 3h0m0 5h0m0-6h0m0-2h0m0-2h0m0 4h0m0 5h0m0 0h0m0-4h0m0-4h0m0-1h0m0 1h0m0 5h0m0-3h0m0 3h0m0 3h0m0-6h0m0 4h0m0-3h0m0-3h0m0 2h0m0 4h0m0-2h0m0-2h0m0 3h0m0 3h0m0-2h0m0-7h0m0 3h0m0 4h0m0-1h0m0 5h0m0-8h0m0 7h0m0-10h0m0 1h0m0 8h0m0-3h0m0-1h0m0 3h0m0-1h0m0-4h0m0 1h0m0 5h0m0-3h0m0-1h0m0-5h0m0 11h0m0-5h0m0-3h0m0 1h0m0-1h0m0 2h0m0-5h0m0 1h0m0 6h0m0 2h0m0-4h0m0 3h0m0-8h0m0 6h0m0-3h0m0 1h0m0 1h0m0-4h0m0 1h0m0-2h0m0 7h0m0-3h0m0 5h0m0-4h0m0 5h0m0-3h0m0-4h0m0 6h0m0-8h0m0 6h0m0-2h0m0-5h0m0 5h0m0-3h0m0 1h0m0 5h0m0-4h0m0-4h0m0 2h0m0-2h0m0 8h0m0-4h0m0-3h0m0 3h0m0 0h0m0-4h0m0 2h0m0 1h0m0 6h0m0-3h0m0-1h0m0-4h0m0 4h0m0-5h0m0 7h0m0-1h0m0-1h0m0-2h0m0-1h0m0 9h0m0-4h0m0-4h0m0 2h0m0 1h0m0-1h0m0-5h0m0 4h0m0 1h0m0-3h0m0 0h0m0-2h0m0 9h0m0-4h0m0 0h0m0-5h0m0 2h0m0 6h0m0-4h0m0 2h0m0-5h0m0 5h0m0-6h0m0 9h0m0-5h0m0-3h0m0 0h0m0 3h0m0-1h0m0-3h0m0 4h0m0-2h0m0 9h0m0-6h0m0 1h0m0-5h0m0-1h0m0 9h0m0-9h0m0 4h0m0 5h0m0-7h0m0-1h0m0 4h0m0-4h0m0 6h0m0-5h0m0-2h0m0 0h0m0 5h0m0-2h0m0 5h0m0-3h0m0-3h0m0 1h0m0 5h0m0 0h0m0-4h0m0-4h0m0 10h0m0-10h0m0 6h0m0-6h0m0 7h0m0-1h0m0-3h0m0 4h0m0-3h0m0-1h0m0-3h0m0 4h0m0-2h0m0 2h0m0-1h0m0-2h0m0 5h0m0-6h0m0 8h0m0-6h0m0 3h0m0-1h0m0 0h0m0-1h0m0 6h0m0-9h0m0 3h0m0 2h0m0-5h0m0 2h0m0 4h0m0 1h0m0-1h0m0 1h0m0 1h0m0-2h0m0-5h0m0 9h0m0-10h0m0 5h0m0 3h0m0-4h0m0-4h0m0 1h0m0 1h0m0-2h0m0 5h0m0 2h0m0-1h0m0-3h0m0 0h0m0 2h0m0-2h0m0-1h0m0 5h0m0-1h0m0 0h0m0 0h0m0-3h0m0 5h0m0-8h0m0 3h0m0 5h0m0-7h0m0 1h0m0-2h0m0 9h0m0-4h0m0-4h0m0 3h0m0 1h0m0-4h0m0 8h0m0-8h0m0 1h0m0-1h0m0 4h0m0 4h0m0-9h0m0 6h0m0-6h0m0 11h0m0-9h0m0 7h0m0-3h0m0 2h0m0-4h0m0 2h0m0-3h0m0-1h0m0 7h0m0-2h0m0-2h0m0-5h0m0 4h0m0-3h0m0 1h0m0 3h0m0 0h0m0 4h0m0-3h0m0-5h0m0 6h0m0-2h0m0-3h0m0 1h0m0 1h0m0 2h0m0 0h0m0-2h0m0 0h0m0-2h0m0 3h0m0 3h0m0-6h0m0-2h0m0 8h0m0 0h0m0-3h0m0 0h0m0 3h0m0-3h0m0 4h0m0-8h0m0 0h0m0 1h0m0 6h0m0-3h0m0-4h0m0 1h0m0 3h0m0-2h0m0-2h0m0 1h0m0 5h0m0-2h0m0 2h0m0-3h0m0 4h0m0-3h0m0-4h0m0 2h0m0 4h0m0 0h0m0-5h0m0-1h0m0 6h0m0-4h0m0 1h0m0-1h0m0-1h0m0 5h0m0 1h0m0-4h0m0 0h0m0-2h0m0 0h0m0 1h0m0-2h0m0 0h0m0 3h0m0-2h0m0 1h0m0 8h0m0-10h0m0 5h0m0-3h0m0-3h0m0 6h0m0-6h0m0 3h0m0-2h0m0 3h0m0-2h0m0 4h0m0-1h0m0-4h0m0 1h0m0 7h0m0-1h0m0-6h0m0 0h0m0 4h0m0-3h0m0 4h0m0-7h0m0 4h0m0 4h0m0-6h0m0 1h0m0-2h0m0 9h0m0-1h0m0-2h0m0 2h0m0-3h0m0 4h0m0-4h0m0 2h0m0-1h0m0-3h0m0 4h0m0-6h0m0 0h0m0 1h0m0 1h0m0 3h0m0-7h0m0 7h0m0-7h0m0 10h0m0-5h0m0 3h0m0-3h0m0-3h0m0 2h0m0 2h0m0-3h0m0 2h0m0 0h0m0 1h0m0 4h0m0-4h0m0-1h0m0 0h0m0 5h0m0-8h0m0 4h0m0 1h0m0 1h0m0-5h0m0 1h0m0-2h0m0 5h0m0 2h0m0-7h0m0 5h0m0-5h0m0-2h0m0 3h0m0 5h0m0-2h0m0 4h0m0-10h0m0 6h0m0-5h0m0 3h0m0 0h0m0 5h0m0-6h0m0 2h0m0-2h0m0 6h0m0-2h0m0-2h0m0 3h0m0-8h0m0 10h0m0-1h0m0-8h0m0 7h0m0-6h0m0 2h0m0 1h0m0 3h0m0-7h0m0 4h0m0-4h0m0 5h0m0 2h0m0-3h0m0 5h0m0-9h0m0 1h0m0 3h0m0-2h0m0 2h0m0-5h0m0 4h0m0 2h0m0 3h0m0-6h0m0-2h0m0 1h0m0 3h0m0-3h0m0 3h0m0 2h0m0-3h0m0 7h0m0-7h0m0-4h0m0 6h0m0-3h0m0-1h0m0 5h0m0 2h0m0-5h0m0 5h0m0-8h0m0 3h0m0-3h0m0 6h0m0-6h0m0 1h0m0 6h0m0-1h0m0-4h0m0 1h0m0-4h0m0 2h0m0 4h0m0 2h0m0 0h0m0-2h0m0 0h0m0-2h0m0-1h0m0 0h0m0 2h0m0-4h0m0 4h0m0-4h0m0 0h0m0 0h0m0 4h0m0-1h0m0-3h0m0 5h0m0-4h0m0 4h0m0-3h0m0 3h0m0 2h0m0-3h0m0-5h0m0 9h0m0-3h0m0 4h0m0-4h0m0-6h0m0 6h0m0-1h0m0-1h0m0 6h0m0-5h0m0 2h0m0 2h0m0-3h0m0 0h0m0-5h0m0 5h0m0-5h0m0 8h0m0-4h0m0-1h0m0 5h0m0-6h0m0 5h0m0-1h0m0-7h0m0 2h0m0 6h0m0-5h0m0 1h0m0-2h0m0 4h0m0-2h0m0-2h0m0 5h0m0-3h0m0-1h0m0 0h0m0-1h0m0-2h0m0 0h0m0 4h0m0-3h0m0 6h0m0-3h0m0-3h0m0 5h0m0 4h0m0-9h0m0 8h0m0-9h0m0 6h0m0-6h0m0 6h0m0-4h0m0 3h0m0 3h0m0 0h0m0-8h0m0 8h0m0 1h0m0 0h0m0-5h0m0-2h0m0 1h0m0 6h0m0-2h0m0-1h0m0-2h0m0-1h0m0-1h0m0 3h0m0 0h0m0-5h0m0 1h0m0 0h0m0 2h0m0 3h0m0 4h0m0-5h0m0-5h0m0 5h0m0 1h0m0-1h0m0 3h0m0 1h0m0 1h0m0-7h0m0 3h0m0-6h0m0 6h0m0-1h0m0-5h0m0 0h0m0 7h0m0-2h0m0-1h0m0 5h0m0-6h0m0 2h0m0-4h0m0 1h0m0 4h0m0-2h0m0-1h0m0 1h0m0-1h0m0 3h0m0-1h0m0 3h0m0 2h0m0-7h0m0-2h0m0-1h0m0 3h0m0-2h0m0 4h0m0 4h0m0-7h0m0 4h0m0 1h0m0 0h0m0-4h0m0 4h0m0 1h0m0-2h0m0 0h0m0-6h0m0 1h0m0 2h0m0 0h0m0 0h0m0-1h0m0 6h0m0-6h0m0 2h0m0-1h0m0 2h0m0-3h0m0 1h0m0 0h0m0-3h0m0 5h0m0-3h0m0-1h0m0-1h0m0 10h0m0-1h0m0-3h0m0 2h0m0-6h0m0 4h0m0-5h0m0 0h0m0 0h0m0 2h0m0-1h0m0-2h0m0 9h0m0-9h0m0 5h0m0 4h0m0-2h0m0 2h0m0 1h0m0-5h0m0-5h0m0 5h0m0 1h0m0-2h0m0-4h0m0 0h0m0 0h0m0 5h0m0-1h0m0-2h0m0 5h0m0 0h0m0-4h0m0 0h0m0 3h0m0-2h0m0 7h0m0-5h0m0-6h0m0 0h0m0 2h0m0 0h0m0 2h0m0 0h0m0-1h0m0 5h0m0-2h0m0-3h0m0-2h0m0 8h0m0-4h0m0 0h0m0 1h0m0-1h0m0-5h0m0 7h0m0-4h0m0 0h0m0-2h0m0 0h0m0 7h0m0-6h0m0-2h0m0 3h0m0-2h0m0 7h0m0-7h0m0 3h0m0-3h0m0 1h0m0 4h0m0 0h0m0 0h0m0-1h0m0-1h0m0 2h0m0 2h0m0-8h0m0 7h0m0 1h0m0-7h0m0 2h0m0 7h0m0-8h0m0-1h0m0 0h0m0 0h0m0 6h0m0-2h0m0-2h0m0-3h0m0 8h0m0-2h0m0-5h0m0 8h0m0-4h0m0 0h0m0-5h0m0 6h0m0 3h0m0-6h0m0 0h0m0-1h0m0 1h0m0 3h0m0-4h0m0 6h0m0-3h0m0-1h0m0-1h0m0 8h0m0-10h0m0 8h0m0-1h0m0-1h0m0 0h0m0-1h0m0 4h0m0-4h0m0-5h0m0 7h0m0 3h0m0-7h0m0 6h0m0 1h0m0-10h0m0 7h0m0-4h0m0-2h0m0 6h0m0-3h0m0 1h0m0-6h0m0 6h0m0-6h0m0 9h0m0 2h0m0-3h0m0-1h0m0-3h0m0-2h0m0 1h0m0 4h0m0-1h0m0-3h0m0 3h0m0-2h0m0-2h0m0 1h0m0 0h0m0 6h0m0-9h0m0 8h0m0-3h0m0 3h0m0-3h0m0 3h0m0-1h0m0-5h0m0 3h0m0 2h0m0-2h0m0 0h0m0-1h0m0 1h0m0-4h0m0 6h0m0-3h0m0-4h0m0 4h0m0 2h0m0-6h0m0 8h0m0 1h0m0-9h0m0 5h0m0 0h0m0 3h0m0-2h0m0-5h0m0 6h0m0-2h0m0-4h0m0-1h0m0 11h0m0-11h0m0 1h0m0 5h0m0-6h0m0 4h0m0-1h0m0-3h0m0 1h0m0 2h0m0 6h0m0 0h0m0 0h0m0-5h0m0 0h0m0 2h0m0-6h0m0 2h0m0 9h0m0-8h0m0-2h0m0 3h0m0 4h0m0 0h0m0-3h0m0-5h0m0 7h0m0-4h0m0 7h0m0 0h0m0-4h0m0 3h0m0-1h0m0-7h0m0 8h0m0-9h0m0 3h0m0 1h0m0-2h0m0 2h0m0-3h0m0 0h0m0 0h0m0 0h0m0 0h0m0 6h0m0 3h0m0-2h0m0-5h0m0-3h0m0 0h0m0 6h0m0 2h0m0 0h0m0-5h0m0 3h0m0 0h0m0 4h0m0-6h0m0 6h0m0-3h0m0-5h0m0 1h0m0-2h0m0 2h0m0 6h0m0-7h0m0 8h0m0-8h0m0 1h0m0-1h0m0-1h0m0 1h0m0-1h0m0 8h0m0-5h0m0 3h0m0-3h0m0 3h0m0-3h0m0 2h0m0-1h0m0 2h0m0 2h0m0-5h0m0 2h0m0-5h0m0 2h0m0 4h0m0-4h0m0-3h0m0 9h0m0-2h0m0 1h0m0 2h0m0-5h0m0-2h0m0 5h0m0-3h0m0-3h0m0-2h0m0 9h0m0-1h0m0 0h0m0-3h0m0-3h0m0 0h0m0 5h0m0 0h0m0 1h0m0-7h0m0 10h0m0-4h0m0-7h0m0 1h0m0 0h0m0 6h0m0 4h0m0-3h0m0-1h0m0 1h0m0-3h0m0-5h0m0 3h0m0-2h0m0 3h0m0 7h0m0-11h0m0 3h0m0 3h0m0-1h0m0-4h0m0 7h0m0 1h0m0-9h0m0 3h0m0 3h0m0-5h0m0 2h0m0-2h0m0 3h0m0 5h0m0-6h0m0 6h0m0-3h0m0-1h0m0 1h0m0-6h0m0 3h0m0 4h0m0-3h0m0 4h0m0-3h0m0 1h0m0-1h0m0 6h0m0-11h0m0 9h0m0-9h0m0 2h0m0 3h0m0-5h0m0 3h0m0 2h0m0-2h0m0 0h0m0-3h0m0 3h0m0-1h0m0 0h0m0 4h0m0 5h0m0-6h0m0-2h0m0 1h0m0-4h0m0 6h0m0-5h0m0 7h0m0-6h0m0 1h0m0-3h0m0 2h0m0 3h0m0 2h0m0 0h0m0-3h0m0-4h0m0 3h0m0-2h0m0 8h0m0 0h0m0-1h0m0 0h0m0-5h0m0 3h0m0-4h0m0 7h0m0-6h0m0 7h0m0-10h0m0 2h0m0 1h0m0 4h0m0 0h0m0-2h0m0-2h0m0 3h0m0 4h0m0-5h0m0 1h0m0-2h0m0-2h0m0-2h0m0 3h0m0 5h0m0 0h0m0 0h0m0-6h0m0 6h0m0 2h0m0-7h0m0 0h0m0 0h0m0-2h0m0 6h0m0 1h0m0 1h0m0-9h0m0 0h0m0 7h0m0-6h0m0 3h0m0 0h0m0 5h0m0-2h0m0-2h0m0 0h0m0-5h0m0 8h0m0 0h0m0 2h0m0-3h0m0-4h0m0-1h0m0 4h0m0-3h0m0 5h0m0-4h0m0 1h0m0 2h0m0-3h0m0 6h0m0-4h0m0 0h0m0 1h0m0-1h0m0-5h0m0-1h0m0 0h0m0 4h0m0 2h0m0-6h0m0 1h0m0 5h0m0-2h0m0-4h0m0 6h0m0-1h0m0 3h0m0-6h0m0 0h0m0 3h0m0-3h0m0 1h0m0-2h0m0 0h0m0 4h0m0-1h0m0-4h0m0 5h0m0 3h0m0 0h0m0-2h0m0-1h0m0 1h0m0 0h0m0 2h0m0-4h0m0-4h0m0 5h0m0-5h0m0 0h0m0 5h0m0-1h0m0 1h0m0-3h0m0 1h0m0 1h0m0 1h0m0-4h0m0 5h0m0-4h0m0 5h0m0-4h0m0 4h0m0-1h0m0 0h0m0-6h0m0 0h0m0 3h0m0 0h0m0-2h0m0 3h0m0-1h0m0 0h0m0 8h0m0-11h0m0 8h0m0 1h0m0 0h0m0-8h0m0-1h0m0 5h0m0-1h0m0 0h0m0 1h0m0 2h0m0-5h0m0 1h0m0-2h0m0 4h0m0 2h0m0 4h0m0-4h0m0-5h0m0 6h0m0-1h0m0-3h0m0-2h0m0 6h0m0-3h0m0 2h0m0-6h0m0-1h0m0 1h0m0 0h0m0 1h0m0-2h0m0 9h0m0-3h0m0-2h0m0-1h0m0 6h0m0-9h0m0 3h0m0-2h0m0-1h0m0 8h0m0-8h0m0 6h0m0-4h0m0 4h0m0 1h0m0-1h0m0-2h0m0 5h0m0-3h0m0-6h0m0 0h0m0 6h0m0-3h0m0-2h0m0 7h0m0-1h0m0-1h0m0-5h0m0 1h0m0 6h0m0 0h0m0-5h0m0 3h0m0 1h0m0 1h0m0 2h0m0-3h0m0-3h0m0-4h0m0 10h0m0-8h0m0 5h0m0-6h0m0 4h0m0 3h0m0-2h0m0-5h0m0 4h0m0-4h0m0 6h0m0-4h0m0-1h0m0-1h0m0 7h0m0-7h0m0 6h0m0-5h0m0-1h0m0 3h0m0-3h0m0 4h0m0 1h0m0-1h0m0-1h0m0 0h0m0-1h0m0 1h0m0-1h0m0-1h0m0 0h0m0 5h0m0-6h0m0 6h0m0 0h0m0-7h0m0 3h0m0 2h0m0-4h0m0 4h0m0-5h0m0 2h0m0-1h0m0 0h0m0 2h0m0 3h0m0-3h0m0 5h0m0-8h0m0 7h0m0-1h0m0-1h0m0 1h0m0-4h0m0-1h0m0 5h0m0 0h0m0-3h0m0-2h0m0 5h0m0-2h0m0-1h0m0 1h0m0-2h0m0-1h0m0-1h0m0 4h0m0 6h0m0-10h0m0 2h0m0 0h0m0-1h0m0 1h0m0 0h0m0 5h0m0 2h0m0-3h0m0-6h0m0 3h0m0 2h0m0 2h0m0-1h0m0 0h0m0 0h0m0-2h0m0-4h0m0 4h0m0-2h0m0 2h0m0-1h0m0 3h0m0 3h0m0-4h0m0-4h0m0 7h0m0 1h0m0-7h0m0 6h0m0-2h0m0 1h0m0 2h0m0-2h0m0 2h0m0-8h0m0 3h0m0 1h0m0 1h0m0 2h0m0-4h0m0 3h0m0-2h0m0 1h0m0 1h0m0-2h0m0-4h0m0 1h0m0 1h0m0 4h0m0-6h0m0 10h0m0-2h0m0-5h0m0 3h0m0-2h0m0-3h0m0 3h0m0 4h0m0-9h0m0 5h0m0-4h0m0 2h0m0-2h0m0 5h0m0-6h0m0 7h0m0 1h0m0-1h0m0-6h0m0 8h0m0-5h0m0-1h0m0-2h0m0 2h0m0-1h0m0 0h0m0 0h0m0 3h0m0-5h0m0 2h0m0 1h0m0 1h0m0 5h0m0-8h0m0 2h0m0 2h0m0 0h0m0-5h0m0 8h0m0-7h0m0 2h0m0 7h0m0-9h0m0 5h0m0-2h0m0 4h0m0-5h0m0-2h0m0 1h0m0 4h0m0-2h0m0 2h0m0-2h0m0 5h0m0-1h0m0-2h0m0-5h0m0 5h0m0-2h0m0 0h0m0 1h0m0 4h0m0-9h0m0 5h0m0-2h0m0-3h0m0 8h0m0-2h0m0-2h0m0 3h0m0-5h0m0 0h0m0 6h0m0-3h0m0-5h0m0 7h0m0-1h0m0 4h0m0-4h0m0 0h0m0 1h0m0 3h0m0-3h0m0-3h0m0 3h0m0-5h0m0 4h0m0 1h0m0 1h0m0-6h0m0 4h0m0 0h0m0-4h0m0 1h0m0-1h0m0 9h0m0-6h0m0 1h0m0-1h0m0-5h0m0 9h0m0-4h0m0-3h0m0 4h0m0-6h0m0 8h0m0-2h0m0 4h0m0-7h0m0 4h0m0-1h0m0-2h0m0 1h0m0 1h0m0-4h0m0-1h0m0 2h0m0 0h0m0 1h0m0 3h0m0-7h0m0 4h0m0-3h0m0 3h0m0-4h0m0 5h0m0 0h0m0 4h0m0-5h0m0 5h0m0 0h0m0-8h0m0 2h0m0-3h0m0 0h0m0 5h0m0-5h0m0 4h0m0 3h0m0-4h0m0 4h0m0-4h0m0 1h0m0 0h0m0 2h0m0-3h0m0 7h0m0-1h0m0-5h0m0 0h0m0-2h0m0 7h0m0-5h0m0 2h0m0 2h0m0-7h0m0 8h0m0-5h0m0 6h0m0 0h0m0-3h0m0-4h0m0 2h0m0-5h0m0 5h0m0 4h0m0-8h0m0 10h0m0-8h0m0-2h0m0 1h0m0 6h0m0 1h0m0-4h0m0 2h0m0-2h0m0 1h0m0-2h0m0 2h0m0-5h0m0 9h0m0-4h0m0-1h0m0 1h0m0-1h0m0 3h0m0-2h0m0-5h0m0 2h0m0-2h0m0 1h0m0 2h0m0 5h0m0-8h0m0 1h0m0 0h0m0 0h0m0 8h0m0-8h0m0 3h0m0-1h0m0 4h0m0-2h0m0-5h0m0 7h0m0-1h0m0-3h0m0-4h0m0 5h0m0-3h0m0-1h0m0 1h0m0 2h0m0-4h0m0 3h0m0 0h0m0 3h0m0-6h0m0 10h0m0-6h0m0-4h0m0 3h0m0 4h0m0-5h0m0 7h0m0-9h0m0 8h0m0 0h0m0-6h0m0 5h0m0-6h0m0-1h0m0 9h0m0-8h0m0-1h0m0 5h0m0-1h0m0-1h0m0 2h0m0-3h0m0 1h0m0-2h0m0 3h0m0 2h0m0-6h0m0 1h0m0 6h0m0 1h0m0-5h0m0-1h0m0 3h0m0-3h0m0 5h0m0 1h0m0-8h0m0 4h0m0 1h0m0-4h0m0 7h0m0-4h0m0-4h0m0 4h0m0-1h0m0 5h0m0-6h0m0 2h0m0 5h0m0-6h0m0 5h0m0-8h0m0 8h0m0-1h0m0-2h0m0-4h0m0 8h0m0-4h0m0 0h0m0 2h0m0-2h0m0-3h0m0 2h0m0-4h0m0 6h0m0-4h0m0 3h0m0-3h0m0 3h0m0 5h0m0-6h0m0 3h0m0-1h0m0-3h0m0 5h0m0-6h0m0 4h0m0-1h0m0-5h0m0 3h0m0 0h0m0-1h0m0 2h0m0 3h0m0 2h0m0-9h0m0 3h0m0 3h0m0-4h0m0 2h0m0-2h0m0 5h0m0-3h0m0 2h0m0 4h0m0-7h0m0-3h0m0 6h0m0-4h0m0 6h0m0-3h0m0-3h0m0 7h0m0-5h0m0 1h0m0-5h0m0 3h0m0-2h0m0-1h0m0 7h0m0-1h0m0-1h0m0-3h0m0 2h0m0-1h0m0 2h0m0-2h0m0-3h0m0 7h0m0-2h0m0-2h0m0 0h0m0-2h0m0 4h0m0 5h0m0-8h0m0-1h0m0 7h0m0-3h0m0 3h0m0 0h0m0 0h0m0-2h0m0 1h0m0-1h0m0-1h0m0 2h0m0-4h0m0-1h0m0 1h0m0 6h0m0-3h0m0-3h0m0-2h0m0-1h0m0 6h0m0 1h0m0-1h0m0-6h0m0 10h0m0-10h0m0 6h0m0 2h0m0-7h0m0 4h0m0 4h0m0-1h0m0-4h0m0-4h0m0 1h0m0 6h0m0 1h0m0 1h0m0 0h0m0-9h0m0 7h0m0-7h0m0 4h0m0-1h0m0-3h0m0 4h0m0-2h0m0 1h0m0-2h0m0 9h0m0-4h0m0 0h0m0 0h0m0 1h0m0-1h0m0-2h0m0 4h0m0-2h0m0 0h0m0-6h0m0 6h0m0-1h0m0 2h0m0-1h0m0-2h0m0-2h0m0 4h0m0 3h0m0-3h0m0-1h0m0 3h0m0-8h0m0 3h0m0 2h0m0 1h0m0 0h0m0-5h0m0 5h0m0-5h0m0 6h0m0-5h0m0 0h0m0-1h0m0-1h0m0 0h0m0 5h0m0-4h0m0 0h0m0 0h0m0 3h0m0 1h0m0-2h0m0-1h0m0-1h0m0 2h0m0 0h0m0 0h0m0 0h0m0 0h0m0 8h0m0-8h0m0 7h0m0-5h0m0 4h0m0-5h0m0-2h0m0 1h0m0-2h0m0 9h0m0-4h0m0 1h0m0 0h0m0 1h0m0 1h0m0-4h0m0-3h0m0-1h0m0 0h0m0 9h0m0-1h0m0 0h0m0-7h0m0 2h0m0-3h0m0 1h0m0 7h0m0-1h0m0 0h0m0-3h0m0 0h0m0-3h0m0 2h0m0 3h0m0-6h0m0 1h0m0 2h0m0-2h0m0-2h0m0 0h0m0 0h0m0 2h0m0 2h0m0 1h0m0 1h0m0-6h0m0 10h0m0-9h0m0 0h0m0 6h0m0-5h0m0 1h0m0 2h0m0 0h0m0-5h0m0 0h0m0 1h0m0 1h0m0 1h0m0 3h0m0 0h0m0 0h0m0-1h0m0-2h0m0-3h0m0 7h0m0-7h0m0 1h0m0 0h0m0 9h0m0-8h0m0 4h0m0-3h0m0 0h0m0 4h0m0 2h0m0-2h0m0 1h0m0-5h0m0 3h0m0-4h0m0 4h0m0-1h0m0 3h0m0-2h0m0 4h0m0-7h0m0 3h0m0 1h0m0-1h0m0-3h0m0-2h0m0 8h0m0-7h0m0 4h0m0-6h0m0 8h0m0 0h0m0-6h0m0 0h0m0 1h0m0 3h0m0 0h0m0-4h0m0-2h0m0 5h0m0 5h0m0-5h0m0 0h0m0-4h0m0 6h0m0 2h0m0-9h0m0 0h0m0 6h0m0-4h0m0 1h0m0 6h0m0-6h0m0 2h0m0 0h0m0-1h0m0 1h0m0 6h0m0-7h0m0 1h0m0 2h0m0-5h0m0 7h0m0-7h0m0-1h0m0 4h0m0 0h0m0-3h0m0 1h0m0 6h0m0 2h0m0-9h0m0 0h0m0 0h0m0 4h0m0-1h0m0 0h0m0 3h0m0-1h0m0-5h0m0 3h0m0-2h0m0-3h0m0 1h0m0 0h0m0 2h0m0 1h0m0-4h0m0 11h0m0-7h0m0 3h0m0-5h0m0-1h0m0 2h0m0 0h0m0-1h0m0-1h0m0 8h0m0-4h0m0-2h0m0 2h0m0 1h0m0-2h0m0-2h0m0 1h0m0 4h0m0-6h0m0 6h0m0 2h0m0-6h0m0 5h0m0-3h0m0-5h0m0 0h0m0 7h0m0-6h0m0 5h0m0-6h0m0 1h0m0 1h0m0 2h0m0 0h0m0 5h0m0-2h0m0-7h0m0 4h0m0 2h0m0 5h0m0-9h0m0 2h0m0 2h0m0 3h0m0-1h0m0-7h0m0 0h0m0 9h0m0-10h0m0 0h0m0 1h0m0 6h0m0-7h0m0 1h0m0 8h0m0-2h0m0-3h0m0-4h0m0 4h0m0 1h0m0-4h0m0 4h0m0 4h0m0 2h0m0-11h0m0 6h0m0-5h0m0 4h0m0 2h0m0-3h0m0-3h0m0 1h0m0 7h0m0-5h0m0-1h0m0-1h0m0 1h0m0 0h0m0 7h0m0 1h0m0-9h0m0-1h0m0-1h0m0 8h0m0-6h0m0 8h0m0-2h0m0-2h0m0-3h0m0-3h0m0 6h0m0-4h0m0 5h0m0-7h0m0 4h0m0 7h0m0-10h0m0 4h0m0 0h0m0-2h0m0-2h0m0 1h0m0 1h0m0 2h0m0-5h0m0 7h0m0-7h0m0 3h0m0 1h0m0 2h0m0-6h0m0 4h0m0 2h0m0 1h0m0-1h0m0-6h0m0 4h0m0 4h0m0-2h0m0-4h0m0 2h0m0 3h0m0-2h0m0 4h0m0-7h0m0 2h0m0 2h0m0 0h0m0 3h0m0 0h0m0-3h0m0-1h0m0 6h0m0-8h0m0 7h0m0-9h0m0 1h0m0-2h0m0 5h0m0 1h0m0-3h0m0 1h0m0 1h0m0 0h0m0-3h0m0 3h0m0 4h0m0 1h0m0-7h0m0 1h0m0 0h0m0 5h0m0-1h0m0-7h0m0 1h0m0 8h0m0-6h0m0 2h0m0-3h0m0 8h0m0-4h0m0-6h0m0 3h0m0-4h0m0 7h0m0-2h0m0-3h0m0 3h0m0 3h0m0-5h0m0 6h0m0-5h0m0-3h0m0 0h0m0 4h0m0-3h0m0 0h0m0-1h0m0 8h0m0-7h0m0 1h0m0-2h0m0-1h0m0 8h0m0-1h0m0-1h0m0 1h0m0 0h0m0-2h0m0-4h0m0 5h0m0 2h0m0-1h0m0-5h0m0 6h0m0-2h0m0-5h0m0 7h0m0-7h0m0 0h0m0 2h0m0 7h0m0-10h0m0 6h0m0-2h0m0-4h0m0 8h0m0-3h0m0-4h0m0 1h0m0 3h0m0 0h0m0-3h0m0 0h0m0-2h0m0 1h0m0 6h0m0 1h0m0-2h0m0-2h0m0-4h0m0 7h0m0-5h0m0 2h0m0 5h0m0-7h0m0 4h0m0 2h0m0 1h0m0-2h0m0-2h0m0-2h0m0 3h0m0-1h0m0 0h0m0-1h0m0 0h0m0-1h0m0 6h0m0-5h0m0 0h0m0 1h0m0-4h0m0-1h0m0 6h0m0 2h0m0-4h0m0-1h0m0 0h0m0-2h0m0 4h0m0 3h0m0 3h0m0-4h0m0-6h0m0 3h0m0-3h0m0 7h0m0-2h0m0 1h0m0-1h0m0 3h0m0-6h0m0 6h0m0-3h0m0-2h0m0-1h0m0 3h0m0-1h0m0-2h0m0 2h0m0-1h0m0-3h0m0 5h0m0-3h0m0-1h0m0 3h0m0 3h0m0 2h0m0-10h0m0 6h0m0-4h0m0-1h0m0 0h0m0 1h0m0 6h0m0-1h0m0-6h0m0 5h0m0-5h0m0 3h0m0 4h0m0-8h0m0 6h0m0-5h0m0 0h0m0 5h0m0-3h0m0 3h0m0 2h0m0-5h0m0-2h0m0 8h0m0-5h0m0 4h0m0-2h0m0 0h0m0 0h0m1-3h0m0 4h0m0 1h0m0 0h0m0-7h0m0 7h0m0-6h0m0 1h0m0 0h0m0 0h0m0 4h0m0 3h0m0 0h0m0 1h0m0 0h0m0 0h0m0 0h0m1-6h0m0-3h0m0 3h0m0-3h0m0 7h0m0-2h0m0 1h0m0 1h0m0 1h0m0-2h0m1-7h0m0 2h0m0 7h0m0-8h0m0 9h0m0-6h0m0 1h0m0-1h0m0 6h0m0 0h0m0-2h0m0 2h0m1-2h0m0-5h0m0 1h0m0 4h0m0-3h0m0 1h0m0 4h0m1-6h0m0 3h0m0 1h0m0 2h0m1-8h0m0-3h0m0 5h0m0 3h0m0 1h0m0 2h0m0 0h0m0 0h0m0 0h0m1-6h0m0 0h0m0-2h0m0 3h0m0-1h0m0 1h0m0-5h0m0 2h0m0 6h0m0 2h0m0 0h0m0 0h0m1-11h0m0 1h0m0 4h0m0 0h0m0-3h0m0 5h0m0 1h0m0-4h0m0 7h0m0-6h0m0-4h0m1 6h0m0-1h0m0-6h0m0 9h0m0 2h0m0 0h0m0 0h0m1-1h0m0-9h0m0 5h0m0 4h0m0 0h0m0 1h0m0-2h0m0 1h0m0-1h0m0 0h0m0 1h0m0 1h0m0 0h0m0-1h0m0 1h0m0 0h0m0-1h0m0 0h0m1-4h0m0 3h0m0-6h0m0 4h0m0-2h0m0 1h0m0 3h0m0-3h0m0 2h0m0-3h0m0 1h0m0-1h0m0 4h0m0-1h0m0-2h0m0 0h0m0 3h0m0 0h0m0 1h0m0 0h0m0 0h0m1-8h0m0-1h0m0 3h0m0-2h0m0-1h0m0 8h0m0 0h0m0-4h0m0 5h0m0 0h0m0-1h0m0 2h0m0 0h0m1-2h0m0-4h0m0-5h0m0 2h0m0 1h0m0 0h0m0 8h0m0 0h0m0-1h0m1-8h0m0 5h0m1 0h0m0-7h0m0 7h0m0-1h0m0 4h0m0-8h0m0 0h0m0 7h0m0-9h0m0 10h0m0-8h0m0 0h0m0-2h0m1 10h0m0-8h0m0 3h0m0 0h0m0-3h0m0 4h0m1-1h0m0 5h0m0-5h0m0 2h0m1-5h0m0 5h0m0 0h0m1-3h0m0 5h0m0 2h0m0-6h0m0-5h0m1 5h0m1 4h0m0 2h0m0-8h0m1 2h0m0 4h0m1-8h0m0 6h0m0-1h0m1 5h0m0-9h0m0 4h0m0 4h0m3-2h0m0-5h0m1 2h0m1-3h0m1 7h0m2-7h0m5 5h0m3-1h0m0 0h0m12-4h0m-52 10h0m0 1h0m0-1h0m0 0h0m0 0h0m0 0h0m0 1h0m0-1h0m0 0h0m0 0h0m0 0h0m0 0h0m0 1h0m0-1h0m1 0h0m0 0h0m0 0h0m0 0h0m0 0h0m0 0h0m0 0h0m0 3h0m0-1h0m0 0h0m0-1h0m0 0h0m0 0h0m0 0h0m0 0h0m1-1h0m0 0h0m0 0h0m0 0h0m0 1h0m0 0h0m1-1h0m0 1h0m0-1h0m0 0h0m0 2h0m0 1h0m1-3h0m0 0h0m0 3h0m0-2h0m0 0h0m1-1h0m0 0h0m0 2h0m0 1h0m1-1h0m0 1h0m0 0h0m1-1h0m0 2h0m1-1h0m0-2h0m0 1h0m0-1h0m0 0h0m0 0h0m0 0h0m0 0h0m0 0h0m1-1h0m1 0h0m0 0h0m0 1h0m0-1h0m0 1h0m1 0h0m0-1h0m0 1h0m1-1h0m3 1h0m5 3h0m1-2h0"/></g></g><line x1="336.4" y1="98.08" x2="463.5" y2="98.08" stroke="#000" stroke-width="1" stroke-dasharray="3 2.2"/><line x1="347.60" y1="111.1" x2="347.60" y2="15.4" stroke="#000" stroke-width="1" stroke-dasharray="3 2.2"/><rect x="336.4" y="15.4" width="127.10000000000002" height="95.69999999999999" fill="none" stroke="#000" stroke-width="0.9"/><line x1="333.79999999999995" y1="103.20" x2="336.4" y2="103.20" stroke="#000" stroke-width="0.7"/><text x="331.4" y="106.80" font-size="10" text-anchor="end" fill="#000">0</text><line x1="333.79999999999995" y1="73.93" x2="336.4" y2="73.93" stroke="#000" stroke-width="0.7"/><text x="331.4" y="77.53" font-size="10" text-anchor="end" fill="#000">20</text><line x1="333.79999999999995" y1="44.67" x2="336.4" y2="44.67" stroke="#000" stroke-width="0.7"/><text x="331.4" y="48.27" font-size="10" text-anchor="end" fill="#000">40</text><line x1="333.79999999999995" y1="15.40" x2="336.4" y2="15.40" stroke="#000" stroke-width="0.7"/><text x="331.4" y="19.00" font-size="10" text-anchor="end" fill="#000">60</text><line x1="343.40" y1="111.1" x2="343.40" y2="113.69999999999999" stroke="#000" stroke-width="0.7"/><text x="343.40" y="123.0" font-size="10" text-anchor="middle" fill="#000">0</text><line x1="403.45" y1="111.1" x2="403.45" y2="113.69999999999999" stroke="#000" stroke-width="0.7"/><text x="403.45" y="123.0" font-size="10" text-anchor="middle" fill="#000">50</text><line x1="463.50" y1="111.1" x2="463.50" y2="113.69999999999999" stroke="#000" stroke-width="0.7"/><text x="463.50" y="123.0" font-size="10" text-anchor="middle" fill="#000">100</text><rect x="378.4" y="21.3" width="79.9" height="35.9" rx="2" fill="#fff" fill-opacity="0.85" stroke="#ddd" stroke-width="0.8"/><circle cx="394.4" cy="31" r="2.9" fill="#9a6db8"/><circle cx="394.4" cy="47.6" r="2.9" fill="#5aac5a"/><text x="415.6" y="34.3" font-size="11.4" text-anchor="start" fill="#000">Male</text><text x="415.6" y="50.7" font-size="11.4" text-anchor="start" fill="#000">Female</text><text x="493.7" y="10.4" font-size="13.8" text-anchor="middle" fill="#000">(b)</text><text x="553.2" y="8.9" font-size="10.2" text-anchor="middle" fill="#000">Male</text><circle cx="553.5" cy="60.5" r="50.4" fill="#cccccc"/><circle cx="579.3" cy="50.4" r="22.4" fill="#a07ab3"/><circle cx="579.1" cy="76.0" r="20.3" fill="#c541cc"/><path d="M562.16 64.82A22.4 22.4 0 0 0 596.22 65.08A20.3 20.3 0 0 0 562.16 64.82Z" fill="#5b1b63"/><text x="556.8" y="25.4" font-size="7.2" text-anchor="middle" fill="#7c4896">Perfectionist (<tspan font-style="italic">I++</tspan>)</text><text x="544.0" y="101.8" font-size="7.2" text-anchor="middle" fill="#b62abf">Hyperprolific (<tspan font-style="italic">P++</tspan>)</text><text x="523.9" y="56.8" font-size="7.1" text-anchor="middle" fill="#222">Nonoutliers</text><text x="523.8" y="64.9" font-size="7.8" text-anchor="middle" fill="#111">2943</text><text x="523.8" y="69.3" font-size="4.5" text-anchor="middle" fill="#222">(69%)</text><text x="0" y="0" font-size="6.6" text-anchor="middle" fill="#5a1a60" font-weight="bold" transform="translate(549.3 61.5) rotate(-90)">Outliers</text><text x="0" y="0" font-size="4.3" text-anchor="middle" fill="#333" transform="translate(553.4 60.5) rotate(-90)">(31%)</text><path d="M558.2 32.7H555.6V90.7H558.2" fill="none" stroke="#333" stroke-width="0.8"/><text x="578.4" y="50.2" font-size="7.2" text-anchor="middle" fill="#111">651</text><text x="578.4" y="54.1" font-size="4.4" text-anchor="middle" fill="#111">(49%)</text><text x="578.4" y="66.1" font-size="7.2" text-anchor="middle" fill="#fff">196</text><text x="578.4" y="70.5" font-size="4.4" text-anchor="middle" fill="#fff">(15%)</text><text x="578.4" y="82.8" font-size="7.2" text-anchor="middle" fill="#111">483</text><text x="578.4" y="87.3" font-size="4.4" text-anchor="middle" fill="#111">(36%)</text><path d="M584.9 64.1L643.3 46.3M584.9 64.1L641.3 81.1" stroke="#444" stroke-width="0.6" stroke-dasharray="2.2 1" fill="none"/><circle cx="649.8" cy="64.1" r="19.0" fill="#5e2468"/><circle cx="649.6" cy="69.6" r="13.3" fill="#231b22"/><text x="649.8" y="51.3" font-size="7.2" text-anchor="middle" fill="#fff">99</text><text x="649.8" y="55.9" font-size="4.4" text-anchor="middle" fill="#fff">(8%)</text><text x="649.6" y="71.5" font-size="7.2" text-anchor="middle" fill="#fff">97</text><text x="649.6" y="76.2" font-size="4.4" text-anchor="middle" fill="#fff">(7%)</text><text x="647.8" y="91.4" font-size="7" text-anchor="middle" fill="#222">Hyperprolific</text><text x="647.8" y="99.80000000000001" font-size="7" text-anchor="middle" fill="#222">perfectionists (<tspan font-style="italic">IP++</tspan>)</text><text x="642.6" y="18.6" font-size="7.2" text-anchor="middle" fill="#5e1f6c">Always outlier researchers</text><text x="642.6" y="28.0" font-size="7.2" text-anchor="middle" fill="#5e1f6c">(<tspan font-style="italic">I++</tspan> or <tspan font-style="italic">P++</tspan> or <tspan font-style="italic">IP++</tspan>)</text><circle cx="642.4" cy="34.8" r="4.3" fill="#5e2468"/><text x="642.4" y="37.1" font-size="6.2" text-anchor="middle" fill="#fff" font-weight="bold">7</text><text x="553.2" y="124.3" font-size="10.2" text-anchor="middle" fill="#000">Female</text><circle cx="554.0" cy="176.0" r="49.6" fill="#cccccc"/><circle cx="579.6" cy="173.3" r="23.4" fill="#6db56d"/><circle cx="579.9" cy="198.5" r="14.9" fill="#4ccf4c"/><path d="M566.25 192.52A23.4 23.4 0 0 0 593.40 192.20A14.9 14.9 0 0 0 566.25 192.52Z" fill="#2d6a2d"/><text x="562.4" y="148.3" font-size="7.2" text-anchor="middle" fill="#3a963a">Perfectionist (<tspan font-style="italic">I++</tspan>)</text><text x="542.8" y="217.8" font-size="7.2" text-anchor="middle" fill="#1fa51f">Hyperprolific (<tspan font-style="italic">P++</tspan>)</text><text x="523.9" y="172.0" font-size="7.1" text-anchor="middle" fill="#222">Nonoutliers</text><text x="523.8" y="179.7" font-size="7.8" text-anchor="middle" fill="#111">1268</text><text x="523.8" y="184.2" font-size="4.5" text-anchor="middle" fill="#222">(72.5%)</text><text x="0" y="0" font-size="6.6" text-anchor="middle" fill="#2e6b2e" font-weight="bold" transform="translate(549.3 183.0) rotate(-90)">Outliers</text><text x="0" y="0" font-size="4.3" text-anchor="middle" fill="#333" transform="translate(553.4 177.0) rotate(-90)">(27.5%)</text><path d="M557.9 158.3H555.3V207.3H557.9" fill="none" stroke="#333" stroke-width="0.8"/><text x="579.4" y="175.3" font-size="7.2" text-anchor="middle" fill="#111">335</text><text x="579.4" y="179.7" font-size="4.4" text-anchor="middle" fill="#111">(70%)</text><text x="579.4" y="191.6" font-size="7.2" text-anchor="middle" fill="#fff">58</text><text x="579.4" y="195.6" font-size="4.4" text-anchor="middle" fill="#fff">(12%)</text><text x="579.4" y="205.1" font-size="7.2" text-anchor="middle" fill="#111">87</text><text x="579.4" y="210.2" font-size="4.4" text-anchor="middle" fill="#111">(10%)</text><path d="M585.0 193.0L641.9 174.2M585.0 193.0L639.9 209.0" stroke="#444" stroke-width="0.6" stroke-dasharray="2.2 1" fill="none"/><circle cx="648.4" cy="192.0" r="18.9" fill="#2f6a2f"/><circle cx="648.5" cy="197.6" r="13.1" fill="#262b24"/><text x="648.4" y="179.4" font-size="7.2" text-anchor="middle" fill="#fff">34</text><text x="648.4" y="183.8" font-size="4.4" text-anchor="middle" fill="#fff">(7%)</text><text x="648.5" y="199.0" font-size="7.2" text-anchor="middle" fill="#fff">24</text><text x="648.5" y="204.1" font-size="4.4" text-anchor="middle" fill="#fff">(6%)</text><text x="647.8" y="218.4" font-size="7" text-anchor="middle" fill="#222">Hyperprolific</text><text x="647.8" y="226.8" font-size="7" text-anchor="middle" fill="#222">perfectionists (<tspan font-style="italic">IP++</tspan>)</text><text x="493.65" y="226.6" font-size="13.8" text-anchor="middle" fill="#000">(c)</text><path d="M530.5 237.5V331H680" fill="none" stroke="#000" stroke-width="1"/><line x1="527.3" y1="327.20" x2="530.5" y2="327.20" stroke="#000" stroke-width="0.8"/><text x="525.2" y="331.10" font-size="11.3" text-anchor="end" fill="#000">0.0</text><line x1="527.3" y1="283.30" x2="530.5" y2="283.30" stroke="#000" stroke-width="0.8"/><text x="525.2" y="287.20" font-size="11.3" text-anchor="end" fill="#000">0.5</text><line x1="527.3" y1="239.40" x2="530.5" y2="239.40" stroke="#000" stroke-width="0.8"/><text x="525.2" y="243.30" font-size="11.3" text-anchor="end" fill="#000">1.0</text><line x1="537.30" y1="331" x2="537.30" y2="334.2" stroke="#000" stroke-width="0.8"/><text x="537.30" y="345.5" font-size="11.3" text-anchor="middle" fill="#000">0</text><line x1="569.00" y1="331" x2="569.00" y2="334.2" stroke="#000" stroke-width="0.8"/><text x="569.00" y="345.5" font-size="11.3" text-anchor="middle" fill="#000">10</text><line x1="600.70" y1="331" x2="600.70" y2="334.2" stroke="#000" stroke-width="0.8"/><text x="600.70" y="345.5" font-size="11.3" text-anchor="middle" fill="#000">20</text><line x1="632.40" y1="331" x2="632.40" y2="334.2" stroke="#000" stroke-width="0.8"/><text x="632.40" y="345.5" font-size="11.3" text-anchor="middle" fill="#000">30</text><line x1="664.10" y1="331" x2="664.10" y2="334.2" stroke="#000" stroke-width="0.8"/><text x="664.10" y="345.5" font-size="11.3" text-anchor="middle" fill="#000">40</text><text x="604.7" y="359.3" font-size="11.5" text-anchor="middle" fill="#000">Hyperprolific years</text><text x="0" y="0" font-size="11.6" text-anchor="middle" fill="#000" transform="translate(489.4 284) rotate(-90)">Probability of being</text><text x="0" y="0" font-size="11.6" text-anchor="middle" fill="#000" transform="translate(501.1 284) rotate(-90)">perfectionist</text><path d="M537.30 263.10L538.09 264.18L538.88 265.30L539.68 266.44L540.47 267.61L541.26 268.80L542.05 270.02L542.85 271.26L543.64 272.53L544.43 273.81L545.22 275.11L546.02 276.43L546.81 277.75L547.60 279.09L548.39 280.44L549.19 281.79L549.98 283.15L550.77 284.50L551.56 285.85L552.36 287.20L553.15 288.54L553.94 289.87L554.73 291.19L555.53 292.50L556.32 293.78L557.11 295.05L557.90 296.30L558.70 297.52L559.49 298.72L560.28 299.90L561.07 301.05L561.87 302.17L562.66 303.26L563.45 304.32L564.25 305.35L565.04 306.34L565.83 307.31L566.62 308.24L567.41 309.15L568.21 310.02L569.00 310.85L569.79 311.66L570.58 312.43L571.38 313.18L572.17 313.89L572.96 314.57L573.75 315.22L574.55 315.85L575.34 316.44L576.13 317.01L576.92 317.56L577.72 318.07L578.51 318.57L579.30 319.04L580.09 319.48L580.89 319.91L581.68 320.31L582.47 320.69L583.26 321.05L584.06 321.40L584.85 321.72L585.64 322.03L586.43 322.32L587.23 322.60L588.02 322.86L588.81 323.11L589.60 323.34L590.40 323.57L591.19 323.77L591.98 323.97L592.77 324.16L593.57 324.33L594.36 324.50L595.15 324.66L595.94 324.81L596.74 324.95L597.53 325.08L598.32 325.20L599.12 325.32L599.91 325.43L600.70 325.53L601.49 325.63L602.28 325.72L603.08 325.81L603.87 325.89L604.66 325.97L605.45 326.04L606.25 326.11L607.04 326.18L607.83 326.24L608.62 326.29L609.42 326.35L610.21 326.40L611.00 326.45L611.79 326.49L612.59 326.53L613.38 326.57L614.17 326.61L614.96 326.64L615.76 326.68L616.55 326.71L617.34 326.74L618.13 326.77L618.93 326.79L619.72 326.82L620.51 326.84L621.30 326.86L622.10 326.88L622.89 326.90L623.68 326.92L624.47 326.93L625.27 326.95L626.06 326.97L626.85 326.98L627.64 326.99L628.44 327.00L629.23 327.02L630.02 327.03L630.81 327.04L631.61 327.05L632.40 327.06L633.19 327.07L633.98 327.07L634.78 327.08L635.57 327.09L636.36 327.09L637.15 327.10L637.95 327.11L638.74 327.11L639.53 327.12L640.32 327.12L641.12 327.13L641.91 327.13L642.70 327.14L643.49 327.14L644.29 327.14L645.08 327.15L645.87 327.15L646.66 327.15L647.46 327.16L648.25 327.16L649.04 327.16L649.83 327.16L650.63 327.17L651.42 327.17L652.21 327.17L653.00 327.17L653.80 327.17L654.59 327.17L655.38 327.18L656.17 327.18L656.97 327.18L657.76 327.18L658.55 327.18L659.34 327.18L660.14 327.18L660.93 327.18L661.72 327.19L662.51 327.19L663.31 327.19L664.10 327.19L664.89 327.19L665.68 327.19L666.48 327.19L667.27 327.19L668.06 327.19L668.86 327.19L669.65 327.19L670.44 327.19L671.23 327.19L672.02 327.19L672.82 327.19L673.61 327.19L674.40 327.19L675.19 327.19L675.99 327.20L676.78 327.20L677.57 327.20L678.37 327.20L679.16 327.20L679.95 327.20" fill="none" stroke="#9b6fb5" stroke-width="1.3"/><path d="M537.30 249.24L538.09 250.32L538.88 251.50L539.68 252.79L540.47 254.19L541.26 255.70L542.05 257.33L542.85 259.07L543.64 260.93L544.43 262.91L545.22 265.00L546.02 267.20L546.81 269.49L547.60 271.88L548.39 274.33L549.19 276.84L549.98 279.40L550.77 281.99L551.56 284.58L552.36 287.17L553.15 289.73L553.94 292.24L554.73 294.70L555.53 297.08L556.32 299.38L557.11 301.57L557.90 303.66L558.70 305.64L559.49 307.51L560.28 309.26L561.07 310.89L561.87 312.40L562.66 313.80L563.45 315.09L564.25 316.27L565.04 317.35L565.83 318.34L566.62 319.24L567.41 320.05L568.21 320.79L569.00 321.46L569.79 322.06L570.58 322.61L571.38 323.09L572.17 323.53L572.96 323.93L573.75 324.28L574.55 324.60L575.34 324.88L576.13 325.13L576.92 325.36L577.72 325.56L578.51 325.74L579.30 325.90L580.09 326.04L580.89 326.17L581.68 326.28L582.47 326.38L583.26 326.48L584.06 326.56L584.85 326.63L585.64 326.69L586.43 326.75L587.23 326.80L588.02 326.84L588.81 326.88L589.60 326.92L590.40 326.95L591.19 326.98L591.98 327.00L592.77 327.02L593.57 327.04L594.36 327.06L595.15 327.08L595.94 327.09L596.74 327.10L597.53 327.11L598.32 327.12L599.12 327.13L599.91 327.14L600.70 327.15L601.49 327.15L602.28 327.16L603.08 327.16L603.87 327.17L604.66 327.17L605.45 327.17L606.25 327.18L607.04 327.18L607.83 327.18L608.62 327.18L609.42 327.19L610.21 327.19L611.00 327.19L611.79 327.19L612.59 327.19L613.38 327.19L614.17 327.19L614.96 327.19L615.76 327.19L616.55 327.19L617.34 327.20L618.13 327.20L618.93 327.20L619.72 327.20L620.51 327.20L621.30 327.20L622.10 327.20L622.89 327.20L623.68 327.20L624.47 327.20L625.27 327.20L626.06 327.20L626.85 327.20L627.64 327.20L628.44 327.20L629.23 327.20L630.02 327.20L630.81 327.20L631.61 327.20L632.40 327.20L633.19 327.20L633.98 327.20L634.78 327.20L635.57 327.20L636.36 327.20L637.15 327.20L637.95 327.20L638.74 327.20L639.53 327.20L640.32 327.20L641.12 327.20L641.91 327.20L642.70 327.20L643.49 327.20L644.29 327.20L645.08 327.20L645.87 327.20L646.66 327.20L647.46 327.20L648.25 327.20L649.04 327.20L649.83 327.20L650.63 327.20L651.42 327.20L652.21 327.20L653.00 327.20L653.80 327.20L654.59 327.20L655.38 327.20L656.17 327.20L656.97 327.20L657.76 327.20L658.55 327.20L659.34 327.20L660.14 327.20L660.93 327.20L661.72 327.20L662.51 327.20L663.31 327.20L664.10 327.20L664.89 327.20L665.68 327.20L666.48 327.20L667.27 327.20L668.06 327.20L668.86 327.20L669.65 327.20L670.44 327.20L671.23 327.20L672.02 327.20L672.82 327.20L673.61 327.20L674.40 327.20L675.19 327.20L675.99 327.20L676.78 327.20L677.57 327.20L678.37 327.20L679.16 327.20L679.95 327.20" fill="none" stroke="#5aac5a" stroke-width="1.3"/><rect x="568.9" y="252.9" width="35.3" height="8.37" fill="#9870ad"/><rect x="606.2" y="252.9" width="35.6" height="14.72" fill="#5ea466"/><path d="M567 252.9H642.5V299.6" fill="none" stroke="#000" stroke-width="1"/><line x1="642.5" y1="252.90" x2="645.3" y2="252.90" stroke="#000" stroke-width="0.8"/><text x="662.3" y="255.80" font-size="8.2" text-anchor="end" fill="#000">0.0</text><line x1="642.5" y1="268.40" x2="645.3" y2="268.40" stroke="#000" stroke-width="0.8"/><text x="662.3" y="271.30" font-size="8.2" text-anchor="end" fill="#000">-0.5</text><line x1="642.5" y1="283.90" x2="645.3" y2="283.90" stroke="#000" stroke-width="0.8"/><text x="662.3" y="286.80" font-size="8.2" text-anchor="end" fill="#000">-1.0</text><line x1="642.5" y1="299.40" x2="645.3" y2="299.40" stroke="#000" stroke-width="0.8"/><text x="662.3" y="302.30" font-size="8.2" text-anchor="end" fill="#000">-1.5</text><text x="586.3" y="277.6" font-size="8.4" text-anchor="middle" fill="#000">Male</text><text x="624.0" y="277.6" font-size="8.4" text-anchor="middle" fill="#000">Female</text><text x="0" y="0" font-size="8.5" text-anchor="middle" fill="#000" transform="translate(672.6 276) rotate(-90)">Logistic coefficient</text></svg></body></html>
